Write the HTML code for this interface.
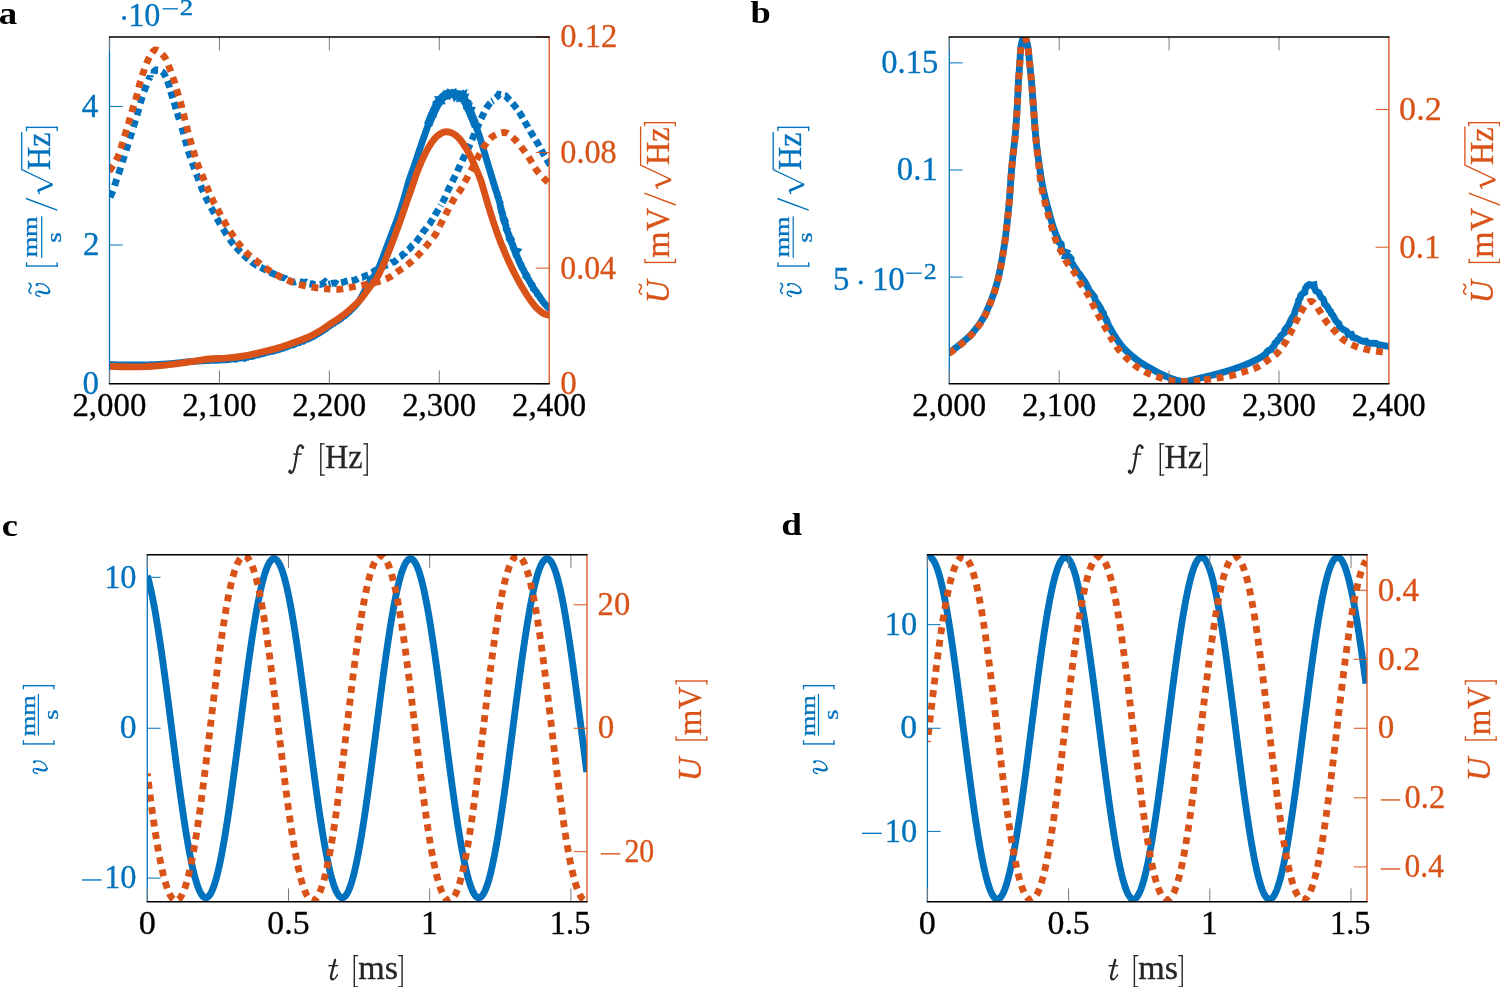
<!DOCTYPE html>
<html><head><meta charset="utf-8"><style>
html,body{margin:0;padding:0;background:#fff;overflow:hidden;}
svg{display:block;will-change:transform;}
text{font-family:"Liberation Serif",serif;}
</style></head><body>
<svg width="1500" height="987" viewBox="0 0 1500 987" font-family="Liberation Serif, serif" style="font-kerning:none">
<rect width="1500" height="987" fill="#fff"/>
<defs>
<clipPath id="clipa"><rect x="109.5" y="37" width="439.7" height="346.7"/></clipPath>
<clipPath id="clipb"><rect x="949.3" y="37" width="439.6" height="346.7"/></clipPath>
<clipPath id="clipc"><rect x="147.3" y="554.8" width="439.7" height="346.9"/></clipPath>
<clipPath id="clipd"><rect x="927.4" y="554.8" width="439.6" height="346.9"/></clipPath>
</defs>
<path d="M428.11,125.23 L428.39,124.46 L428.67,123.7 L428.95,122.95 L429.24,122.2 L429.52,121.46 L429.81,120.73 L430.1,120 L430.43,119.19 L430.76,118.38 L431.1,117.58 L431.44,116.78 L431.78,115.98 L432.12,115.2 L432.46,114.42 L432.8,113.66 L433.14,112.9 L433.48,112.16 L433.82,111.42 L434.16,110.71 L434.5,110 L434.84,109.32 L435.17,108.65 L435.5,108 L435.93,107.16 L436.36,106.33 L436.79,105.54 L437.21,104.76 L437.63,104.01 L438.05,103.28 L438.47,102.58 L438.89,101.91 L439.31,101.26 L439.74,100.64 L440.17,100.06 L440.6,99.5 L441.26,98.72 L441.93,98.02 L442.61,97.38 L443.29,96.8 L443.98,96.28 L444.66,95.81 L445.33,95.38 L446,95 L446.88,94.58 L447.74,94.26 L448.61,94.03 L449.47,93.87 L450.33,93.77 L451.2,93.7 L452.08,93.67 L452.96,93.71 L453.85,93.79 L454.74,93.93 L455.62,94.1 L456.5,94.3 L457.38,94.49 L458.26,94.65 L459.13,94.86 L460,95.16 L460.86,95.62 L461.7,96.3 L462.15,96.76 L462.58,97.28 L463.01,97.83 L463.43,98.44 L463.85,99.09 L464.27,99.79 L464.7,100.54 L465.13,101.33 L465.57,102.18 L466.03,103.06 L466.5,104 L466.8,104.61 L467.11,105.25 L467.43,105.94 L467.75,106.65 L468.08,107.39 L468.42,108.15 L468.76,108.93 L469.1,109.72 L469.44,110.52 L469.78,111.32 L470.11,112.13 L470.45,112.93 L470.78,113.72 L471.1,114.5 L471.41,115.26 L471.72,116 L472.02,116.72 L472.3,117.4 L472.65,118.24 L472.99,119.06 L473.31,119.86 L473.63,120.64 L473.94,121.4 L474.24,122.14 L474.53,122.88 L474.82,123.61 L475.1,124.34 L475.38,125.06 L475.66,125.79 L475.94,126.52" fill="none" stroke="#0072BD" stroke-width="8.6" stroke-linejoin="round" stroke-miterlimit="10" clip-path="url(#clipa)"/>
<path d="M109.8,364.7 L110.28,364.71 L110.82,364.71 L111.41,364.72 L112.05,364.73 L112.74,364.74 L113.47,364.75 L114.24,364.77 L115.06,364.78 L115.9,364.8 L116.78,364.81 L117.7,364.83 L118.64,364.84 L119.6,364.86 L120.58,364.87 L121.59,364.89 L122.61,364.9 L123.64,364.92 L124.69,364.93 L125.74,364.95 L126.8,364.96 L127.86,364.97 L128.91,364.99 L129.97,365 L131.02,365 L132.06,365.01 L133.08,365.02 L134.1,365.02 L135.09,365.02 L136.07,365.02 L137.02,365.02 L137.94,365.02 L138.84,365.01 L139.7,365 L140.69,364.99 L141.68,364.97 L142.65,364.96 L143.62,364.94 L144.58,364.92 L145.53,364.9 L146.47,364.88 L147.41,364.85 L148.35,364.83 L149.27,364.8 L150.2,364.77 L151.12,364.74 L152.03,364.71 L152.94,364.68 L153.85,364.64 L154.76,364.6 L155.67,364.56 L156.57,364.52 L157.48,364.48 L158.39,364.43 L159.29,364.39 L160.2,364.34 L161.11,364.29 L162.02,364.23 L162.93,364.18 L163.85,364.12 L164.77,364.06 L165.7,364 L166.6,363.94 L167.51,363.87 L168.43,363.8 L169.36,363.72 L170.29,363.64 L171.23,363.55 L172.17,363.47 L173.11,363.38 L174.06,363.29 L175,363.19 L175.95,363.09 L176.9,363 L177.84,362.9 L178.78,362.8 L179.71,362.7 L180.64,362.6 L181.56,362.5 L182.47,362.41 L183.38,362.31 L184.27,362.21 L185.16,362.12 L186.03,362.03 L186.89,361.95 L187.73,361.86 L188.56,361.78 L189.37,361.7 L190.17,361.63 L190.94,361.56 L191.7,361.5 L192.82,361.41 L193.89,361.33 L194.92,361.26 L195.91,361.19 L196.87,361.13 L197.81,361.07 L198.71,361.02 L199.6,360.97 L200.47,360.92 L201.32,360.88 L202.16,360.84 L203,360.8 L203.83,360.76 L204.67,360.72 L205.51,360.68 L206.36,360.64 L207.22,360.59 L208.1,360.55 L209,360.5 L209.91,360.45 L210.81,360.41 L211.7,360.38 L212.6,360.32 L213.49,360.29 L214.37,360.26 L215.26,360.25 L216.15,360.21 L217.04,360.11 L217.93,360.05 L218.83,360 L219.73,360.03 L220.64,359.97 L221.56,359.94 L222.49,359.9 L223.42,359.79 L224.36,359.59 L225.32,359.56 L226.31,359.7 L227.16,359.56 L228.02,359.41 L228.92,359.47 L229.81,359.25 L230.71,359.07 L231.64,359.08 L232.54,358.76 L233.49,358.75 L234.47,359.03 L235.34,358.36 L236.35,358.79 L237.22,358.18 L238.19,358.32 L239.11,358.13 L240.05,358.09 L240.98,358.04 L241.91,358.09 L242.79,357.88 L243.64,357.53 L244.61,358.06 L245.36,357.3 L246.19,357.17 L247.25,357.38 L248.1,356.53 L249.11,356.65 L250.08,356.63 L250.98,356.36 L251.91,356.28 L252.85,356.26 L253.68,355.81 L254.56,355.65 L255.38,355.19 L256.23,354.94 L257.09,354.69 L258.05,354.88 L258.85,354.38 L259.75,354.26 L260.66,354.19 L261.5,353.79 L262.4,353.59 L263.36,353.65 L264.22,353.25 L265.06,352.81 L265.96,352.6 L266.86,352.35 L267.64,351.65 L268.65,351.89 L269.49,351.45 L270.47,351.53 L271.38,351.36 L272.26,351.05 L273.25,351.19 L274.1,350.77 L274.99,350.48 L275.89,350.23 L276.84,350.15 L277.72,349.84 L278.66,349.69 L279.43,349.17 L280.35,349.13 L281.18,348.78 L281.98,348.35 L282.91,348.31 L283.67,347.74 L284.53,347.47 L285.41,347.27 L286.29,347.06 L287.17,346.83 L288,346.45 L288.78,345.95 L289.7,345.82 L290.49,345.35 L291.34,345.02 L292.27,344.93 L293.24,344.92 L293.95,344.23 L294.67,343.55 L295.71,343.73 L296.52,343.25 L297.29,342.65 L298.27,342.57 L299.27,342.54 L300.02,341.83 L300.89,341.46 L301.89,341.42 L302.67,340.79 L303.71,340.86 L304.42,340.12 L305.35,339.91 L306.22,339.6 L306.93,338.93 L307.91,338.95 L308.66,338.45 L309.56,338.31 L310.22,337.71 L311.02,337.45 L311.98,337.03 L312.93,336.63 L313.76,336.03 L314.64,335.55 L315.55,335.14 L316.37,334.63 L317.16,334.07 L318.05,333.74 L318.82,333.22 L319.6,332.75 L320.4,332.36 L321.08,331.8 L321.8,331.35 L322.53,330.96 L323.18,330.47 L324.08,329.92 L324.93,329.41 L325.7,328.88 L326.43,328.35 L327.13,327.83 L327.81,327.32 L328.48,326.81 L329.16,326.31 L329.85,325.81 L330.56,325.31 L331.3,324.8 L332.06,324.3 L332.83,323.81 L333.59,323.34 L334.36,322.87 L335.14,322.39 L335.92,321.92 L336.72,321.42 L337.52,320.91 L338.33,320.38 L339.16,319.81 L340,319.2 L340.67,318.7 L341.36,318.19 L342.06,317.67 L342.76,317.14 L343.48,316.6 L344.19,316.04 L344.92,315.47 L345.65,314.88 L346.38,314.28 L347.1,313.66 L347.83,313.02 L348.56,312.37 L349.28,311.69 L350,311 L350.63,310.38 L351.25,309.76 L351.88,309.14 L352.51,308.51 L353.14,307.87 L353.77,307.21 L354.4,306.55 L355.03,305.86 L355.66,305.16 L356.29,304.43 L356.91,303.68 L357.54,302.91 L358.16,302.11 L358.77,301.27 L359.39,300.4 L360,299.5 L360.44,298.81 L360.89,298.07 L361.34,297.3 L361.79,296.49 L362.24,295.66 L362.69,294.8 L363.14,293.93 L363.59,293.03 L364.04,292.13 L364.49,291.22 L364.93,290.31 L365.37,289.41 L365.81,288.51 L366.24,287.62 L366.67,286.75 L367.1,285.9 L367.51,285.08 L367.93,284.28 L368.33,283.52 L368.73,282.8 L369.12,282.13 L369.5,281.5 L370.19,280.46 L370.86,279.54 L371.52,278.72 L372.17,277.98 L372.8,277.31 L373.41,276.69 L374,276.1 L374.57,275.52 L375.12,274.94 L375.64,274.34 L376.14,273.7 L376.6,273 L377.11,272.12 L377.56,271.24 L377.96,270.35 L378.33,269.45 L378.67,268.55 L378.99,267.65 L379.3,266.74 L379.62,265.83 L379.95,264.91 L380.3,264 L380.62,263.2 L380.92,262.45 L381.2,261.73 L381.48,261.01 L381.76,260.29 L382.05,259.55 L382.36,258.75 L382.69,257.89 L383.05,256.94 L383.45,255.88 L383.9,254.7 L384.15,254.03 L384.42,253.31 L384.7,252.57 L384.99,251.79 L385.3,250.98 L385.61,250.15 L385.93,249.3 L386.25,248.42 L386.59,247.53 L386.92,246.62 L387.27,245.7 L387.61,244.77 L387.96,243.84 L388.31,242.9 L388.66,241.97 L389,241.03 L389.35,240.1 L389.7,239.18 L390.04,238.27 L390.37,237.38 L390.7,236.5 L391.03,235.63 L391.36,234.76 L391.69,233.89 L392.02,233.02 L392.36,232.15 L392.69,231.28 L393.03,230.4 L393.37,229.53 L393.7,228.66 L394.04,227.79 L394.37,226.91 L394.71,226.04 L395.04,225.17 L395.37,224.3 L395.7,223.42 L396.02,222.55 L396.35,221.68 L396.67,220.81 L396.98,219.94 L397.29,219.07 L397.6,218.2 L397.9,217.33 L398.2,216.47 L398.5,215.61 L398.79,214.74 L399.08,213.89 L399.37,213.03 L399.66,212.17 L399.94,211.31 L400.22,210.46 L400.5,209.6 L400.78,208.74 L401.05,207.88 L401.33,207.02 L401.6,206.15 L401.87,205.28 L402.14,204.41 L402.42,203.54 L402.69,202.66 L402.96,201.78 L403.23,200.89 L403.5,200 L403.76,199.14 L404.02,198.27 L404.27,197.39 L404.52,196.49 L404.78,195.6 L405.03,194.69 L405.28,193.78 L405.53,192.87 L405.78,191.96 L406.03,191.05 L406.27,190.14 L406.52,189.23 L406.77,188.32 L407.02,187.43 L407.26,186.53 L407.51,185.65 L407.76,184.78 L408.01,183.91 L408.25,183.06 L408.5,182.23 L408.75,181.4 L409,180.6 L409.31,179.64 L409.61,178.7 L409.92,177.78 L410.23,176.88 L410.54,175.99 L410.85,175.11 L411.16,174.25 L411.47,173.4 L411.78,172.56 L412.08,171.72 L412.39,170.88 L412.7,170.05 L413,169.22 L413.3,168.39 L413.61,167.55 L413.91,166.71 L414.2,165.86 L414.5,165 L414.79,164.14 L415.08,163.27 L415.37,162.41 L415.65,161.55 L415.94,160.69 L416.22,159.83 L416.5,158.96 L416.78,158.1 L417.06,157.24 L417.33,156.38 L417.61,155.52 L417.89,154.66 L418.17,153.8 L418.45,152.94 L418.74,152.08 L419.02,151.22 L419.31,150.36 L419.6,149.5 L419.89,148.64 L420.19,147.77 L420.49,146.9 L420.79,146.03 L421.09,145.15 L421.39,144.28 L421.69,143.4 L422,142.53 L422.3,141.66 L422.6,140.79 L422.91,139.92 L423.21,139.06 L423.51,138.2 L423.81,137.34 L424.11,136.5 L424.41,135.66 L424.71,134.82 L425,134 L425.33,133.08 L425.65,132.16 L425.97,131.25 L426.29,130.35 L426.61,129.45 L426.92,128.55 L427.24,127.66 L427.55,126.78 L427.86,125.91 L428.16,125.03 L428.52,124.19 L428.61,123.25 L429.1,122.47 L429.25,121.57 L429.9,120.87 L430.32,120.09 L430.29,118.99 L431.13,118.26 L431.54,117.36 L431.73,116.37 L431.62,115.25 L433.12,114.85 L433.06,113.77 L433.21,112.8 L433.47,111.89 L434.37,111.3 L434.18,110.22 L435.35,109.81 L435.72,109.05 L436.09,108.3 L435.55,106.86 L436.51,106.22 L436.27,104.98 L437.35,104.47 L436.5,102.92 L437.28,102.3 L438.3,101.88 L439.2,101.44 L440.49,101.34 L439.72,99.8 L441.04,99.87 L441.96,99.17 L442.47,98.18 L442.9,97.12 L443.37,96.08 L444.18,95.52 L444.72,94.6 L446.2,95.38 L446.93,94.2 L448.36,95.14 L449.02,93.34 L450.19,94.09 L451.24,94.42 L452.26,93.39 L453.26,94.4 L454.45,93.43 L455.15,95.5 L456.64,93.66 L457.54,93.67 L458.44,93.76 L459.1,94.97 L460.27,94.55 L460.11,96.73 L462.45,95.46 L462.09,96.91 L462.32,97.66 L463.87,97.49 L463.2,98.96 L464.57,99.13 L464.97,99.98 L464.91,101.14 L466.17,101.64 L467.31,102.3 L466.34,104.08 L466.44,104.88 L466.45,105.77 L468.43,105.8 L468.13,106.92 L467.82,108.07 L467.92,109.06 L468.58,109.82 L470.69,109.99 L470.12,111.3 L470.61,112.16 L470.41,113.3 L470.61,114.25 L471.39,114.94 L471.71,115.79 L471.57,116.8 L472.2,117.44 L472.77,118.36 L473.05,119.35 L473.78,120.12 L474,121.08 L474.39,121.94 L474.37,122.94 L474.9,123.72 L475.25,124.56 L475.52,125.42 L475.85,126.27 L476.17,127.13 L476.5,128 L476.83,128.87 L477.14,129.73 L477.46,130.59 L477.77,131.43 L478.07,132.28 L478.38,133.13 L478.68,133.99 L478.98,134.86 L479.28,135.74 L479.58,136.64 L479.89,137.56 L480.2,138.5 L480.47,139.33 L480.73,140.17 L481,141.02 L481.27,141.89 L481.54,142.76 L481.81,143.65 L482.07,144.54 L482.35,145.45 L482.62,146.36 L482.89,147.28 L483.16,148.2 L483.44,149.13 L483.72,150.06 L484,151 L484.26,151.88 L484.53,152.76 L484.79,153.64 L485.05,154.52 L485.31,155.41 L485.58,156.31 L485.85,157.21 L486.12,158.13 L486.39,159.04 L486.66,159.97 L486.94,160.91 L487.22,161.87 L487.51,162.83 L487.8,163.81 L488.1,164.8 L488.35,165.64 L488.61,166.48 L488.86,167.34 L489.12,168.2 L489.38,169.07 L489.65,169.95 L489.92,170.84 L490.19,171.73 L490.45,172.63 L490.7,173.55 L491,174.45 L491.29,175.37 L491.6,176.29 L491.87,177.22 L492.15,178.16 L492.39,179.11 L492.71,180.05 L493.07,180.98 L493.26,181.82 L493.38,182.7 L493.83,183.49 L494.05,184.36 L494.36,185.22 L494.53,186.13 L494.98,186.95 L495.02,187.91 L495.4,188.76 L495.69,189.65 L495.98,190.53 L496.22,191.43 L496.48,192.32 L497.01,193.12 L497.17,194.03 L497.32,194.93 L497.6,195.78 L497.67,196.69 L498.04,197.49 L498.64,198.21 L498.78,199.05 L498.93,200.06 L499.17,201.03 L499.49,201.95 L500.04,202.79 L499.97,203.77 L500.13,204.67 L500.4,205.55 L500.28,206.51 L500.45,207.4 L500.96,208.21 L501.21,209.1 L501.2,210.05 L501.56,210.94 L501.56,211.92 L501.85,212.86 L502.65,213.69 L502.61,214.77 L502.77,215.62 L503.06,216.43 L502.92,217.39 L503.59,218.13 L503.53,219.09 L504.4,219.79 L504.2,220.8 L505,221.53 L504.61,222.63 L504.93,223.51 L505.36,224.37 L505.81,225.23 L505.91,226.19 L505.88,227.21 L506.2,228.11 L506.25,229.1 L507.18,229.81 L507.08,230.86 L507.43,231.75 L507.89,232.6 L508.35,233.45 L508.46,234.37 L509.07,235.12 L509.02,236.11 L509.1,237.05 L509.17,238 L510.29,238.57 L510.18,239.59 L511.15,240.22 L510.87,241.31 L511.32,242.13 L511.56,243.03 L512.18,243.79 L512.72,244.58 L512.72,245.57 L513.24,246.37 L513.17,247.4 L513.82,248.15 L513.93,249.11 L514.78,249.77 L515.08,250.65 L516.57,251.05 L515.38,252.55 L515.8,253.35 L515.82,254.31 L516.41,255.05 L516.59,255.96 L517.31,256.65 L517.55,257.54 L518,258.35 L518.23,259.25 L518.75,260.03 L518.87,260.98 L519.27,261.81 L519.66,262.64 L520.27,263.37 L520.39,264.31 L521.24,264.92 L521.49,265.8 L521.6,266.74 L522.1,267.49 L522.3,268.38 L522.91,269.06 L523.49,269.74 L523.63,270.63 L524.05,271.37 L524.5,272.24 L525,273.07 L525.68,273.8 L526.22,274.6 L525.96,275.84 L526.99,276.35 L527,277.44 L527.59,278.19 L528.27,278.88 L528.69,279.71 L529.11,280.53 L529.51,281.35 L530.08,282.06 L530.53,282.83 L530.92,283.63 L531.16,284.51 L532.18,284.89 L532.56,285.65 L532.73,286.52 L533.12,287.25 L533.25,288.44 L534.25,289.06 L534.7,290.01 L535.33,290.83 L536.17,291.48 L536.68,292.32 L537.18,293.16 L537.39,294.16 L537.99,294.89 L538.79,295.45 L539.28,296.21 L539.71,296.98 L540.32,297.61 L540.49,298.52 L541.11,299.09 L541.88,299.9 L542.39,300.88 L542.97,301.77 L543.73,302.49 L544.3,303.31 L544.82,304.12 L545.57,304.69 L546.2,305.29 L546.73,305.91 L547.11,306.6 L547.72,306.98 L548.77,307.81 L549.79,308.32 L550.7,308.63 L551.45,308.82 L552,309" fill="none" stroke="#0072BD" stroke-width="6.85" stroke-linejoin="miter" stroke-miterlimit="3" clip-path="url(#clipa)"/>
<path d="M108,201 L108.85,199.51 L110.08,197.31 L111.4,194.5 L112.19,192.46 L113.03,190.12 L113.9,187.61 L114.76,185.06 L115.6,182.6 L116.42,180.23 L117.23,177.85 L118.04,175.48 L118.83,173.13 L119.6,170.8 L120.34,168.53 L121.05,166.3 L121.75,164.08 L122.46,161.82 L123.2,159.5 L123.98,157.08 L124.79,154.59 L125.6,152.07 L126.41,149.56 L127.2,147.1 L127.96,144.7 L128.71,142.34 L129.44,140 L130.17,137.66 L130.9,135.3 L131.62,132.93 L132.34,130.56 L133.06,128.19 L133.78,125.8 L134.5,123.4 L135.24,120.98 L135.99,118.53 L136.74,116.08 L137.48,113.63 L138.2,111.2 L138.88,108.76 L139.53,106.31 L140.18,103.88 L140.83,101.49 L141.5,99.2 L142.18,97.04 L142.85,94.98 L143.54,92.96 L144.28,90.92 L145.1,88.8 L146.01,86.5 L147,84.05 L148.03,81.61 L148.87,79.2 L150.08,77.23" fill="none" stroke="#0072BD" stroke-width="6.85" stroke-linejoin="miter" stroke-miterlimit="10" stroke-dasharray="6.9 5.45" clip-path="url(#clipa)" stroke-dashoffset="8.05"/>
<path d="M150.08,77.23 L150.42,74.3 L153.83,73.78 L154.2,71.21 L155.78,69.87 L159.2,70 L162.27,71.68 L163.58,73.03 L164.76,75.1 L165.88,77.5 L166.94,80 L167.9,82.4 L168.74,84.7 L169.47,87.05 L170.14,89.43 L170.8,91.82 L171.5,94.2 L172.24,96.58 L172.98,98.96 L173.72,101.34 L174.46,103.72 L175.2,106.1 L175.92,108.46 L176.64,110.82 L177.36,113.18 L178.08,115.54 L178.8,117.9 L179.54,120.27 L180.29,122.64" fill="none" stroke="#0072BD" stroke-width="6.85" stroke-linejoin="miter" stroke-miterlimit="10" stroke-dasharray="6.9 4.25" clip-path="url(#clipa)" stroke-dashoffset="4.68"/>
<path d="M180.29,122.64 L181.04,125.01 L181.78,127.4 L182.5,129.8 L183.18,132.23 L183.84,134.68 L184.49,137.13 L185.14,139.58 L185.8,142 L186.46,144.38 L187.11,146.73 L187.78,149.08 L188.47,151.43 L189.2,153.8 L189.98,156.2 L190.8,158.61 L191.65,161.04 L192.52,163.47 L193.4,165.9 L194.3,168.34 L195.22,170.79 L196.15,173.24 L197.08,175.68 L198,178.1 L198.9,180.53 L199.8,182.97 L200.7,185.39 L201.6,187.75 L202.5,190 L203.4,192.12 L204.29,194.12 L205.19,196.07 L206.12,198.01 L207.1,200 L208.13,202.03 L209.21,204.06 L210.32,206.11 L211.45,208.18 L212.6,210.3 L213.77,212.48 L214.96,214.73 L216.17,216.99 L217.39,219.23 L218.6,221.4 L219.8,223.48 L221,225.51 L222.21,227.5 L223.44,229.49 L224.7,231.5 L226.01,233.58 L227.37,235.72 L228.73,237.84 L230.09,239.86" fill="none" stroke="#0072BD" stroke-width="6.85" stroke-linejoin="miter" stroke-miterlimit="10" stroke-dasharray="6.9 5.3" clip-path="url(#clipa)" stroke-dashoffset="7.1"/>
<path d="M230.09,239.86 L231.4,241.7 L232.92,243.67 L234.36,245.38 L235.85,247.03 L237.5,248.8 L238.98,250.37 L240.55,252.02 L242.2,253.68 L243.9,255.32 L245.61,256.89 L247.33,258.4 L249.09,259.88 L250.97,261.22 L252.68,262.78 L254.67,263.95 L256.55,265.32 L258.68,266.32 L260.82,267.27 L262.81,268.4 L264.78,269.44 L267.03,270.87 L269.4,271.85 L271.6,273.07 L273.99,273.92 L276.2,275.15 L278.56,276.06 L280.81,277.18 L283.27,277.68 L285.51,278.55 L287.35,280.35 L289.71,280.86 L292.08,281.8 L294.26,282.11 L296.61,281.41 L298.94,281.33 L301.18,281.89 L303.24,282.58 L305.82,282.11 L307.85,283.5 L310.06,283.97 L312.44,283.81 L314.84,284.98 L317.4,284.18 L320,284.48 L322.59,283.77 L325.14,281.76 L327.91,284.43 L330.58,283.81" fill="none" stroke="#0072BD" stroke-width="6.85" stroke-linejoin="miter" stroke-miterlimit="10" stroke-dasharray="6.9 3.75" clip-path="url(#clipa)" stroke-dashoffset="1.16"/>
<path d="M330.58,283.81 L333.25,283.06 L335.46,282.99 L337.98,284.64 L340.05,282.97 L342.28,282.42 L344.47,281.75 L346.67,281.02 L348.95,280.46 L351.42,280.72 L353.66,280.28 L355.77,279.85 L357.93,278.58 L359.89,277.5 L362.18,277.38 L364.44,276.26 L366.67,275.44 L369.11,274.45 L371.18,272.6 L373.63,271.55 L375.76,270.32 L378.07,268.71 L380.75,268.37 L382.81,266.81 L385.03,265.63 L387.44,264.85 L389.82,264.07 L391.81,262.48 L394.41,261.79 L396.08,260.34 L397.75,258.81 L399.31,257.09 L401.39,256.08 L402.88,254.47 L405.08,253.01 L406.54,250.88 L408.64,249.41 L410.51,247.71 L411.99,245.61 L413.99,244.05 L415.89,242.33 L417.44,240.15 L418.72,238.32 L420.25,236.55 L421.42,234.48 L422.76,232.52 L424.1,230.63 L425.59,228.93 L426.92,227.16 L428.28,225.43 L429.78,223.78 L430.82,221.75 L432.14,219.91 L433.31,217.98 L434.53,216.04 L435.68,213.92 L437,211.7 L438.22,209.64 L439.55,207.39 L440.91,205.05" fill="none" stroke="#0072BD" stroke-width="6.85" stroke-linejoin="miter" stroke-miterlimit="10" stroke-dasharray="6.9 4.1" clip-path="url(#clipa)" stroke-dashoffset="10.32"/>
<path d="M440.91,205.05 L442.24,202.74 L443.46,200.55 L444.5,198.6 L445.63,196.21 L446.43,194.22 L447.16,192.29 L448.1,190.1 L449.09,188.05 L450.19,185.85 L451.35,183.57 L452.51,181.3 L453.6,179.1 L454.62,177 L455.61,174.93 L456.58,172.89 L457.54,170.85 L458.5,168.8 L459.45,166.78 L460.36,164.8 L461.29,162.8 L462.26,160.72 L463.3,158.5 L464.24,156.54 L465.22,154.51 L466.24,152.41 L467.28,150.24 L468.34,148 L469.4,145.7 L470.31,143.65 L471.24,141.53 L472.18,139.35 L473.13,137.14 L474.09,134.91 L475.04,132.69 L476,130.5 L476.97,128.28 L477.97,126 L478.97,123.7 L479.97,121.44 L480.95,119.25 L481.9,117.19 L482.8,115.3 L483.94,112.95 L484.97,110.87 L485.97,108.98 L487.02,107.21 L488.2,105.5 L489.98,103.4 L491.92,101.4" fill="none" stroke="#0072BD" stroke-width="6.85" stroke-linejoin="miter" stroke-miterlimit="10" stroke-dasharray="6.9 4.65" clip-path="url(#clipa)" stroke-dashoffset="8.7"/>
<path d="M491.92,101.4 L494.27,100.1 L495.4,98.1 L497.64,96.24 L498.96,94.26 L501.34,94.66 L503.38,95.82 L505.77,95.92 L507.79,98.1 L509.17,99.71 L510.93,101.48 L512.71,103.48 L514.4,105.5 L515.98,107.53 L517.53,109.65 L519.03,111.84 L520.5,114.1 L521.63,115.96 L522.72,117.87 L523.79,119.82 L524.88,121.8 L526,123.8 L527.17,125.83 L528.36,127.9 L529.57,129.99 L530.79,132.06 L532,134.1 L533.22,136.08 L534.46,138.03 L535.7,139.97 L536.92,141.92 L538.1,143.9 L539.26,145.98 L540.4,148.13 L541.52,150.27 L542.59,152.32 L543.6,154.2 L545.13,156.89 L546.53,159.24 L547.9,161.5 L549.43,163.97 L550.94,166.34 L552,168" fill="none" stroke="#0072BD" stroke-width="6.85" stroke-linejoin="miter" stroke-miterlimit="10" stroke-dasharray="6.9 4.05" clip-path="url(#clipa)" stroke-dashoffset="5.47"/>
<path d="M109.8,366.4C114.78,366.47 130.38,367.02 139.7,366.8C149.02,366.58 157.03,365.97 165.7,365.1C174.37,364.23 184.48,362.62 191.7,361.6C198.92,360.58 203.23,359.58 209,359C214.77,358.42 220.1,358.67 226.3,358.1C232.5,357.53 240.18,356.62 246.2,355.6C252.22,354.58 257,353.28 262.4,352C267.8,350.72 273.2,349.52 278.6,347.9C284,346.28 289.4,344.32 294.8,342.3C300.2,340.28 306.27,338.03 311,335.8C315.73,333.57 319.82,331 323.2,328.9C326.58,326.8 328.5,325.08 331.3,323.2C334.1,321.32 336.88,319.88 340,317.6C343.12,315.32 346.47,312.65 350,309.5C353.53,306.35 358.03,302.27 361.2,298.7C364.37,295.13 366.4,291.55 369,288.1C371.6,284.65 374.4,281.93 376.8,278C379.2,274.07 381.62,268.38 383.4,264.5C385.18,260.62 385.65,259.37 387.5,254.7C389.35,250.03 392.22,242.58 394.5,236.5C396.78,230.42 399.05,224.28 401.2,218.2C403.35,212.12 405.6,205.18 407.4,200C409.2,194.82 410.48,191.48 412,187.1C413.52,182.72 414.83,178.17 416.5,173.7C418.17,169.23 420.07,164.57 422,160.3C423.93,156.03 425.98,151.75 428.1,148.1C430.22,144.45 432.58,140.83 434.7,138.4C436.82,135.97 438.87,134.62 440.8,133.5C442.73,132.38 444.27,131.7 446.3,131.7C448.33,131.7 450.87,132.38 453,133.5C455.13,134.62 457.07,136.17 459.1,138.4C461.13,140.63 463.28,143.87 465.2,146.9C467.12,149.93 468.78,152.95 470.6,156.6C472.42,160.25 474.45,164.98 476.1,168.8C477.75,172.62 478.98,175.13 480.5,179.5C482.02,183.87 483.43,189.12 485.2,195C486.97,200.88 489.02,208.22 491.1,214.8C493.18,221.38 495.28,227.92 497.7,234.5C500.12,241.08 502.75,247.72 505.6,254.3C508.45,260.88 511.52,267.63 514.8,274C518.08,280.37 522,287.22 525.3,292.5C528.6,297.78 531.73,302.3 534.6,305.7C537.47,309.1 540.32,311.37 542.5,312.9C544.68,314.43 546.12,314.5 547.7,314.9C549.28,315.3 551.28,315.23 552,315.3" fill="none" stroke="#D95319" stroke-width="6.85" stroke-linejoin="round" stroke-miterlimit="10" clip-path="url(#clipa)"/>
<path d="M108,172.5 L108.17,172.29 L108.37,172.06 L108.6,171.8 L108.86,171.51 L109.15,171.19 L109.46,170.81 L109.8,170.39 L110.16,169.92 L110.55,169.38 L110.97,168.78 L111.4,168.1 L111.6,167.78 L111.82,167.43 L112.04,167.07 L112.28,166.68 L112.53,166.28 L112.78,165.87 L113.04,165.44 L113.31,165 L113.58,164.55 L113.86,164.09 L114.14,163.61 L114.42,163.14 L114.7,162.65 L114.99,162.16 L115.27,161.67 L115.55,161.17 L115.83,160.67 L116.1,160.17 L116.36,159.68 L116.63,159.18 L116.88,158.69 L117.12,158.21 L117.36,157.73 L117.59,157.26 L117.8,156.8 L118.01,156.32 L118.22,155.85 L118.42,155.37 L118.61,154.9 L118.8,154.42 L118.98,153.95 L119.15,153.47 L119.33,153 L119.49,152.52 L119.66,152.04 L119.82,151.57 L119.97,151.09 L120.13,150.61 L120.28,150.13 L120.43,149.65 L120.59,149.17 L120.73,148.69 L120.88,148.21 L121.03,147.73 L121.18,147.24 L121.34,146.76 L121.49,146.27 L121.64,145.79 L121.8,145.3 L121.96,144.81 L122.11,144.32 L122.27,143.84 L122.42,143.35 L122.57,142.86 L122.72,142.36 L122.87,141.87 L123.02,141.38 L123.17,140.89 L123.32,140.4 L123.47,139.9 L123.61,139.41 L123.76,138.91 L123.91,138.41 L124.05,137.92 L124.2,137.42 L124.35,136.92 L124.5,136.42 L124.64,135.92 L124.79,135.42 L124.94,134.91 L125.09,134.41 L125.25,133.91 L125.4,133.4 L125.55,132.91 L125.7,132.42 L125.85,131.93 L126,131.44 L126.15,130.95 L126.3,130.45 L126.46,129.96 L126.61,129.46 L126.77,128.96 L126.92,128.47 L127.07,127.97 L127.23,127.47 L127.38,126.97 L127.54,126.47 L127.69,125.97 L127.85,125.47 L128,124.97 L128.15,124.47 L128.3,123.97 L128.46,123.48 L128.61,122.98 L128.76,122.48 L128.91,121.99 L129.05,121.49 L129.2,121 L129.35,120.51 L129.49,120.02 L129.63,119.52 L129.77,119.03 L129.92,118.54 L130.06,118.05 L130.2,117.56 L130.34,117.07 L130.47,116.58 L130.61,116.09 L130.75,115.6 L130.89,115.11 L131.02,114.62 L131.16,114.13 L131.3,113.64 L131.44,113.15 L131.58,112.67 L131.71,112.18 L131.85,111.7 L131.99,111.21 L132.13,110.73 L132.27,110.24 L132.41,109.76 L132.56,109.28 L132.7,108.8 L132.85,108.3 L133,107.81 L133.16,107.31 L133.31,106.82 L133.47,106.33 L133.62,105.85 L133.78,105.36 L133.94,104.87 L134.09,104.39 L134.25,103.91 L134.41,103.42 L134.57,102.94 L134.73,102.45 L134.88,101.97 L135.04,101.48 L135.2,100.99 L135.35,100.5 L135.51,100.01 L135.66,99.52 L135.81,99.02 L135.96,98.52 L136.11,98.02 L136.26,97.51 L136.4,97 L136.53,96.52 L136.66,96.05 L136.79,95.56 L136.91,95.08 L137.04,94.59 L137.16,94.09 L137.28,93.6 L137.41,93.1 L137.53,92.6 L137.64,92.1 L137.76,91.6 L137.88,91.1 L138,90.6 L138.12,90.1 L138.24,89.6 L138.36,89.1 L138.47,88.6 L138.59,88.1 L138.72,87.6 L138.84,87.11 L138.96,86.61 L139.09,86.12 L139.21,85.64 L139.34,85.15 L139.47,84.68 L139.6,84.2 L139.74,83.69 L139.89,83.18 L140.03,82.68 L140.18,82.18 L140.32,81.68 L140.47,81.18 L140.62,80.69 L140.77,80.2 L140.92,79.71 L141.07,79.22 L141.22,78.73 L141.37,78.24 L141.52,77.76 L141.68,77.27 L141.83,76.79 L141.99,76.3 L142.15,75.82 L142.31,75.33 L142.47,74.85 L142.63,74.36 L142.8,73.87 L142.96,73.38 L143.13,72.89 L143.3,72.4 L143.46,71.92 L143.62,71.45 L143.79,70.97 L143.94,70.49 L144.1,70 L144.26,69.52 L144.42,69.04 L144.58,68.55 L144.74,68.07 L144.91,67.58 L145.07,67.1 L145.24,66.61 L145.41,66.13 L145.58,65.64 L145.76,65.16 L145.94,64.68 L146.12,64.21 L146.31,63.73 L146.51,63.26 L146.71,62.79 L146.91,62.33 L147.12,61.86 L147.34,61.4 L147.57,60.95 L147.8,60.5 L148.04,60.04 L148.28,59.56 L148.53,59.07 L148.79,58.56 L149.05,58.04 L149.32,57.51 L149.59,56.98 L149.87,56.44 L150.15,55.91" fill="none" stroke="#D95319" stroke-width="6.85" stroke-linejoin="round" stroke-miterlimit="10" stroke-dasharray="6.9 5.8" clip-path="url(#clipa)" stroke-dashoffset="10.81"/>
<path d="M150.15,55.91 L150.43,55.38 L150.72,54.86 L151.01,54.35 L151.31,53.85 L151.61,53.37 L151.92,52.91 L152.22,52.47 L152.53,52.05 L152.85,51.67 L153.16,51.31 L153.48,50.99 L153.8,50.71 L154.12,50.46 L154.45,50.26 L154.77,50.11 L155.1,50 L155.48,49.94 L155.87,49.93 L156.28,49.98 L156.69,50.07 L157.12,50.22 L157.55,50.4 L157.99,50.62 L158.43,50.88 L158.87,51.18 L159.32,51.5 L159.76,51.85 L160.21,52.22 L160.65,52.61 L161.08,53.02 L161.51,53.45 L161.93,53.88 L162.34,54.32 L162.74,54.76 L163.13,55.2 L163.5,55.64 L163.86,56.08 L164.2,56.5 L164.48,56.86 L164.74,57.24 L165,57.63 L165.26,58.03 L165.5,58.45 L165.74,58.88 L165.97,59.32 L166.2,59.77 L166.42,60.22 L166.64,60.69 L166.85,61.16 L167.05,61.64 L167.26,62.12 L167.45,62.6 L167.65,63.09 L167.84,63.58 L168.03,64.08 L168.22,64.57 L168.41,65.06 L168.59,65.55 L168.78,66.04 L168.96,66.52 L169.15,67 L169.33,67.47 L169.51,67.94 L169.7,68.4 L169.89,68.87 L170.08,69.35 L170.27,69.82 L170.45,70.29 L170.63,70.76 L170.81,71.23 L170.99,71.7 L171.16,72.17 L171.33,72.64 L171.5,73.11 L171.67,73.58 L171.84,74.05 L172,74.52 L172.16,74.99 L172.33,75.46 L172.49,75.93 L172.65,76.4 L172.8,76.87 L172.96,77.34 L173.12,77.82 L173.28,78.29 L173.43,78.77 L173.59,79.24 L173.74,79.72 L173.9,80.2 L174.05,80.68 L174.21,81.16 L174.36,81.64 L174.51,82.13 L174.66,82.61 L174.8,83.1 L174.95,83.58 L175.09,84.07 L175.24,84.55 L175.38,85.04 L175.52,85.53 L175.66,86.02 L175.8,86.51 L175.94,87 L176.08,87.49 L176.22,87.98 L176.36,88.47 L176.5,88.96 L176.64,89.45 L176.78,89.94 L176.92,90.43 L177.07,90.92 L177.21,91.42 L177.35,91.91 L177.5,92.4 L177.65,92.89 L177.79,93.39 L177.94,93.88 L178.09,94.37 L178.24,94.87 L178.39,95.37 L178.55,95.86 L178.7,96.36 L178.85,96.86 L179,97.36 L179.15,97.85 L179.31,98.35 L179.46,98.85 L179.61,99.35 L179.76,99.84 L179.91,100.34 L180.06,100.84" fill="none" stroke="#D95319" stroke-width="6.85" stroke-linejoin="round" stroke-miterlimit="10" stroke-dasharray="6.9 5.8" clip-path="url(#clipa)" stroke-dashoffset="8.92"/>
<path d="M180.06,100.84 L180.2,101.34 L180.35,101.83 L180.5,102.33 L180.64,102.83 L180.78,103.32 L180.92,103.81 L181.06,104.31 L181.2,104.8 L181.34,105.29 L181.47,105.78 L181.6,106.27 L181.73,106.76 L181.86,107.25 L181.99,107.74 L182.11,108.22 L182.24,108.71 L182.36,109.2 L182.48,109.68 L182.61,110.17 L182.73,110.66 L182.85,111.14 L182.97,111.63 L183.09,112.12 L183.21,112.6 L183.33,113.09 L183.45,113.58 L183.57,114.06 L183.69,114.55 L183.81,115.04 L183.93,115.53 L184.05,116.02 L184.18,116.51 L184.3,117 L184.42,117.49 L184.55,117.99 L184.67,118.48 L184.79,118.97 L184.92,119.47 L185.04,119.97 L185.16,120.46 L185.29,120.96 L185.41,121.46 L185.53,121.96 L185.65,122.45 L185.78,122.95 L185.9,123.45 L186.02,123.95 L186.15,124.44 L186.27,124.94 L186.39,125.44 L186.52,125.94 L186.64,126.43 L186.77,126.93 L186.89,127.43 L187.02,127.92 L187.15,128.41 L187.27,128.91 L187.4,129.4 L187.53,129.89 L187.66,130.38 L187.78,130.87 L187.91,131.36 L188.04,131.85 L188.17,132.34 L188.3,132.83 L188.43,133.32 L188.56,133.81 L188.69,134.29 L188.82,134.78 L188.95,135.27 L189.08,135.76 L189.22,136.24 L189.35,136.73 L189.48,137.22 L189.61,137.7 L189.75,138.19 L189.88,138.68 L190.02,139.16 L190.15,139.65 L190.29,140.14 L190.43,140.62 L190.56,141.11 L190.7,141.6 L190.84,142.09 L190.98,142.58 L191.12,143.06 L191.25,143.55 L191.39,144.04 L191.53,144.53 L191.67,145.02 L191.82,145.51 L191.96,146 L192.1,146.48 L192.24,146.97 L192.38,147.46 L192.53,147.95 L192.67,148.44 L192.82,148.93 L192.96,149.42 L193.11,149.9 L193.25,150.39 L193.4,150.88 L193.55,151.37 L193.7,151.85 L193.85,152.34 L194,152.83 L194.15,153.31 L194.3,153.8 L194.45,154.29 L194.6,154.77 L194.76,155.26 L194.91,155.75 L195.06,156.23 L195.21,156.72 L195.37,157.21 L195.52,157.7 L195.68,158.18 L195.83,158.67 L195.99,159.16 L196.15,159.64 L196.3,160.13 L196.46,160.62 L196.62,161.1 L196.78,161.59 L196.95,162.07 L197.11,162.55 L197.28,163.03 L197.44,163.51 L197.61,163.99 L197.78,164.47 L197.95,164.95 L198.12,165.43 L198.3,165.9 L198.48,166.37 L198.66,166.84 L198.84,167.31 L199.02,167.78 L199.21,168.24 L199.39,168.71 L199.58,169.17 L199.77,169.63 L199.96,170.09 L200.16,170.55 L200.35,171.01 L200.55,171.47 L200.74,171.93 L200.94,172.39 L201.13,172.85 L201.33,173.31 L201.53,173.77 L201.73,174.23 L201.92,174.69 L202.12,175.16 L202.32,175.62 L202.51,176.09 L202.71,176.56 L202.91,177.03 L203.1,177.5 L203.29,177.96 L203.47,178.42 L203.66,178.88 L203.85,179.34 L204.03,179.81 L204.22,180.27 L204.41,180.74 L204.59,181.21 L204.78,181.68 L204.97,182.15 L205.16,182.63 L205.34,183.1 L205.53,183.57 L205.72,184.04 L205.91,184.51 L206.1,184.98 L206.29,185.45 L206.47,185.92 L206.66,186.39 L206.85,186.85 L207.04,187.32 L207.23,187.78 L207.42,188.24 L207.62,188.69 L207.81,189.15 L208,189.6 L208.21,190.09 L208.41,190.57 L208.62,191.05 L208.83,191.53 L209.03,192 L209.24,192.48 L209.44,192.95 L209.65,193.42 L209.85,193.89 L210.06,194.36 L210.27,194.83 L210.48,195.29 L210.68,195.76 L210.89,196.23 L211.11,196.69 L211.32,197.16 L211.53,197.62 L211.75,198.09 L211.97,198.55 L212.19,199.02 L212.41,199.49 L212.64,199.96 L212.87,200.43 L213.1,200.9 L213.33,201.35 L213.55,201.81 L213.79,202.27 L214.02,202.72 L214.26,203.18 L214.49,203.64 L214.74,204.09 L214.98,204.55 L215.22,205.01 L215.47,205.47 L215.72,205.93 L215.96,206.38 L216.21,206.84 L216.46,207.3 L216.71,207.76 L216.96,208.21 L217.21,208.67 L217.46,209.13 L217.71,209.58 L217.96,210.04 L218.21,210.49 L218.46,210.95 L218.71,211.4 L218.96,211.85 L219.2,212.3 L219.44,212.75 L219.69,213.2 L219.93,213.65 L220.17,214.1 L220.41,214.54 L220.65,214.99 L220.89,215.44 L221.13,215.88 L221.37,216.33 L221.61,216.78 L221.85,217.22 L222.09,217.67 L222.33,218.11 L222.57,218.55 L222.82,219 L223.06,219.44 L223.3,219.88 L223.55,220.32 L223.79,220.76 L224.04,221.2 L224.29,221.64 L224.54,222.08 L224.79,222.52 L225.04,222.96 L225.3,223.4 L225.56,223.84 L225.81,224.28 L226.07,224.71 L226.33,225.15 L226.59,225.58 L226.85,226.02 L227.11,226.45 L227.37,226.89 L227.63,227.32 L227.9,227.76 L228.16,228.19 L228.43,228.62 L228.7,229.05 L228.96,229.48 L229.23,229.92 L229.5,230.35 L229.78,230.78 L230.05,231.21" fill="none" stroke="#D95319" stroke-width="6.85" stroke-linejoin="round" stroke-miterlimit="10" stroke-dasharray="6.9 5.8" clip-path="url(#clipa)" stroke-dashoffset="12.14"/>
<path d="M230.05,231.21 L230.32,231.64 L230.6,232.06 L230.88,232.49 L231.16,232.92 L231.44,233.35 L231.72,233.77 L232,234.2 L232.28,234.63 L232.57,235.05 L232.86,235.48 L233.14,235.91 L233.43,236.33 L233.72,236.76 L234.01,237.18 L234.3,237.61 L234.59,238.04 L234.88,238.46 L235.18,238.88 L235.48,239.31 L235.77,239.73 L236.07,240.15 L236.38,240.57 L236.68,240.99 L236.98,241.41 L237.29,241.83 L237.6,242.24 L237.91,242.66 L238.22,243.07 L238.54,243.48 L238.86,243.89 L239.18,244.29 L239.5,244.7 L239.81,245.09 L240.13,245.48 L240.44,245.87 L240.76,246.26 L241.09,246.65 L241.41,247.04 L241.73,247.43 L242.06,247.82 L242.39,248.2 L242.72,248.59 L243.05,248.97 L243.39,249.36 L243.72,249.74 L244.06,250.12 L244.4,250.49 L244.74,250.87 L245.08,251.24 L245.42,251.6 L245.77,251.97 L246.11,252.33 L246.46,252.68 L246.81,253.04 L247.15,253.38 L247.5,253.73 L247.85,254.07 L248.2,254.4 L248.58,254.75 L248.96,255.1 L249.34,255.44 L249.73,255.78 L250.11,256.1 L250.5,256.43 L250.89,256.74 L251.28,257.06 L251.67,257.36 L252.07,257.67 L252.46,257.97 L252.86,258.27 L253.25,258.57 L253.65,258.87 L254.05,259.17 L254.45,259.47 L254.85,259.76 L255.26,260.06 L255.66,260.36 L256.07,260.66 L256.47,260.97 L256.88,261.27 L257.29,261.59 L257.7,261.9 L258.09,262.21 L258.49,262.51 L258.89,262.82 L259.28,263.13 L259.68,263.45 L260.08,263.76 L260.48,264.08 L260.88,264.39 L261.28,264.71 L261.69,265.02 L262.09,265.34 L262.5,265.65 L262.9,265.97 L263.31,266.28 L263.72,266.6 L264.13,266.91 L264.55,267.22 L264.96,267.53 L265.37,267.83 L265.79,268.13 L266.21,268.43 L266.63,268.73 L267.05,269.02 L267.47,269.31 L267.9,269.6 L268.33,269.88 L268.76,270.16 L269.19,270.44 L269.62,270.72 L270.06,271 L270.5,271.27 L270.94,271.55 L271.38,271.82 L271.83,272.09 L272.27,272.35 L272.72,272.62 L273.16,272.88 L273.61,273.14 L274.06,273.4 L274.51,273.66 L274.96,273.91 L275.41,274.17 L275.86,274.42 L276.31,274.66 L276.76,274.91 L277.21,275.15 L277.66,275.39 L278.11,275.63 L278.55,275.87 L279,276.1 L279.46,276.34 L279.93,276.58 L280.39,276.81 L280.85,277.04 L281.31,277.27 L281.77,277.5 L282.23,277.72 L282.69,277.94 L283.15,278.16 L283.61,278.38 L284.08,278.59 L284.54,278.81 L285,279.02 L285.46,279.22 L285.93,279.43 L286.4,279.63 L286.86,279.84 L287.33,280.04 L287.81,280.23 L288.28,280.43 L288.76,280.62 L289.23,280.82 L289.72,281.01 L290.2,281.2 L290.67,281.38 L291.14,281.56 L291.61,281.74 L292.08,281.92 L292.55,282.1 L293.03,282.27 L293.5,282.44 L293.98,282.62 L294.46,282.79 L294.94,282.96 L295.42,283.12 L295.91,283.29 L296.39,283.45 L296.88,283.61 L297.37,283.77 L297.86,283.92 L298.34,284.08 L298.84,284.23 L299.33,284.37 L299.82,284.52 L300.31,284.66 L300.81,284.8 L301.31,284.94 L301.8,285.07 L302.3,285.2 L302.78,285.32 L303.26,285.44 L303.75,285.56 L304.24,285.67 L304.73,285.78 L305.22,285.89 L305.71,285.99 L306.21,286.09 L306.71,286.19 L307.2,286.29 L307.7,286.38 L308.2,286.48 L308.7,286.57 L309.2,286.66 L309.7,286.74 L310.2,286.83 L310.69,286.91 L311.19,287 L311.69,287.08 L312.18,287.15 L312.67,287.23 L313.16,287.31 L313.65,287.38 L314.14,287.46 L314.62,287.53 L315.1,287.6 L315.62,287.68 L316.13,287.75 L316.64,287.82 L317.15,287.89 L317.65,287.96 L318.16,288.03 L318.66,288.09 L319.16,288.15 L319.66,288.21 L320.16,288.27 L320.65,288.33 L321.15,288.38 L321.65,288.43 L322.14,288.48 L322.64,288.53 L323.14,288.58 L323.64,288.63 L324.14,288.67 L324.65,288.71 L325.15,288.75 L325.66,288.79 L326.17,288.83 L326.68,288.87 L327.2,288.9 L327.7,288.93 L328.2,288.97 L328.71,289 L329.21,289.03 L329.72,289.06 L330.23,289.1" fill="none" stroke="#D95319" stroke-width="6.85" stroke-linejoin="round" stroke-miterlimit="10" stroke-dasharray="6.9 5.8" clip-path="url(#clipa)" stroke-dashoffset="12.52"/>
<path d="M330.23,289.1 L330.75,289.13 L331.26,289.16 L331.78,289.19 L332.29,289.21 L332.81,289.24 L333.33,289.26 L333.85,289.28 L334.36,289.29 L334.88,289.31 L335.4,289.32 L335.92,289.32 L336.43,289.33 L336.95,289.32 L337.46,289.32 L337.97,289.3 L338.48,289.29 L338.99,289.26 L339.5,289.23 L340,289.2 L340.52,289.16 L341.04,289.1 L341.56,289.05 L342.07,288.98 L342.59,288.91 L343.1,288.83 L343.61,288.74 L344.12,288.66 L344.63,288.56 L345.14,288.47 L345.64,288.37 L346.15,288.26 L346.66,288.16 L347.16,288.05 L347.67,287.94 L348.18,287.83 L348.69,287.72 L349.2,287.62 L349.71,287.51 L350.23,287.4 L350.74,287.3 L351.26,287.19 L351.78,287.1 L352.3,287 L352.78,286.91 L353.27,286.83 L353.76,286.74 L354.25,286.66 L354.74,286.57 L355.23,286.49 L355.72,286.4 L356.22,286.32 L356.71,286.23 L357.21,286.15 L357.71,286.06 L358.2,285.97 L358.7,285.89 L359.2,285.8 L359.69,285.71 L360.19,285.63 L360.69,285.54 L361.18,285.45 L361.68,285.36 L362.17,285.27 L362.66,285.18 L363.15,285.08 L363.64,284.99 L364.13,284.89 L364.62,284.8 L365.1,284.7 L365.6,284.6 L366.1,284.5 L366.6,284.4 L367.1,284.3 L367.6,284.2 L368.1,284.1 L368.6,284 L369.09,283.9 L369.59,283.8 L370.08,283.69 L370.58,283.59 L371.07,283.48 L371.56,283.38 L372.06,283.27 L372.55,283.16 L373.04,283.05 L373.53,282.93 L374.01,282.81 L374.5,282.69 L374.99,282.57 L375.47,282.44 L375.96,282.31 L376.44,282.18 L376.92,282.04 L377.4,281.9 L377.88,281.76 L378.36,281.61 L378.84,281.46 L379.32,281.32 L379.8,281.17 L380.27,281.02 L380.75,280.87 L381.23,280.71 L381.7,280.55 L382.18,280.39 L382.65,280.23 L383.12,280.07 L383.59,279.9 L384.06,279.72 L384.53,279.55 L384.99,279.36 L385.46,279.18 L385.92,278.99 L386.38,278.79 L386.84,278.59 L387.3,278.38 L387.75,278.17 L388.2,277.95 L388.65,277.73 L389.1,277.5 L389.54,277.26 L389.99,277.01 L390.43,276.76 L390.86,276.49 L391.3,276.22 L391.73,275.95 L392.16,275.66 L392.59,275.38 L393.02,275.08 L393.45,274.78 L393.87,274.48 L394.3,274.18 L394.72,273.87 L395.14,273.56 L395.56,273.25 L395.97,272.94 L396.39,272.63 L396.81,272.32 L397.22,272.01 L397.64,271.7 L398.05,271.39 L398.46,271.09 L398.88,270.79 L399.29,270.49 L399.7,270.2 L400.13,269.9 L400.56,269.6 L400.98,269.31 L401.41,269.01 L401.83,268.72 L402.25,268.43 L402.68,268.14 L403.1,267.86 L403.52,267.57 L403.93,267.28 L404.35,266.99 L404.77,266.7 L405.18,266.41 L405.6,266.12 L406.01,265.82 L406.43,265.52 L406.84,265.22 L407.25,264.92 L407.66,264.61 L408.07,264.3 L408.48,263.98 L408.89,263.66 L409.29,263.33 L409.7,263 L410.08,262.69 L410.45,262.37 L410.83,262.05 L411.2,261.73 L411.58,261.4 L411.95,261.07 L412.33,260.74 L412.7,260.41 L413.07,260.07 L413.44,259.73 L413.82,259.39 L414.19,259.04 L414.56,258.69 L414.92,258.35 L415.29,258 L415.66,257.64 L416.02,257.29 L416.38,256.94 L416.74,256.58 L417.1,256.23 L417.46,255.87 L417.81,255.52 L418.16,255.16 L418.51,254.81 L418.86,254.45 L419.2,254.1 L419.55,253.73 L419.91,253.36 L420.25,252.99 L420.6,252.62 L420.94,252.25 L421.29,251.87 L421.63,251.5 L421.96,251.12 L422.3,250.74 L422.63,250.37 L422.96,249.99 L423.29,249.61 L423.62,249.23 L423.95,248.85 L424.27,248.46 L424.6,248.08 L424.92,247.7 L425.25,247.31 L425.57,246.93 L425.89,246.54 L426.21,246.15 L426.53,245.77 L426.86,245.38 L427.18,244.99 L427.5,244.6 L427.82,244.21 L428.15,243.82 L428.48,243.42 L428.8,243.03 L429.13,242.63 L429.46,242.24 L429.79,241.84 L430.12,241.44 L430.45,241.04 L430.78,240.64 L431.11,240.24 L431.43,239.84 L431.75,239.44 L432.07,239.03 L432.39,238.63 L432.7,238.23 L433.01,237.82 L433.32,237.42 L433.62,237.02 L433.91,236.61 L434.2,236.21 L434.49,235.81 L434.77,235.4 L435.04,235 L435.3,234.6 L435.59,234.15 L435.86,233.7 L436.13,233.26 L436.38,232.82 L436.62,232.38 L436.86,231.94 L437.08,231.51 L437.31,231.08 L437.52,230.64 L437.74,230.21 L437.95,229.77 L438.16,229.33 L438.37,228.88 L438.59,228.43 L438.8,227.97 L439.02,227.5 L439.25,227.03 L439.48,226.54 L439.72,226.05 L439.97,225.55 L440.23,225.03" fill="none" stroke="#D95319" stroke-width="6.85" stroke-linejoin="round" stroke-miterlimit="10" stroke-dasharray="6.9 5.8" clip-path="url(#clipa)" stroke-dashoffset="6.61"/>
<path d="M440.23,225.03 L440.5,224.5 L440.71,224.1 L440.92,223.7 L441.13,223.28 L441.35,222.86 L441.57,222.43 L441.79,222 L442.02,221.56 L442.25,221.12 L442.48,220.67 L442.71,220.21 L442.95,219.75 L443.18,219.29 L443.42,218.83 L443.66,218.36 L443.91,217.89 L444.15,217.42 L444.39,216.95 L444.64,216.48 L444.88,216.01 L445.12,215.54 L445.37,215.08 L445.61,214.61 L445.85,214.15 L446.09,213.68 L446.33,213.23 L446.57,212.77 L446.8,212.32 L447.04,211.88 L447.27,211.43 L447.5,211 L447.74,210.54 L447.99,210.07 L448.23,209.6 L448.48,209.14 L448.72,208.67 L448.97,208.2 L449.21,207.73 L449.45,207.26 L449.7,206.8 L449.94,206.33 L450.18,205.87 L450.42,205.4 L450.67,204.94 L450.91,204.49 L451.15,204.03 L451.39,203.58 L451.63,203.14 L451.86,202.7 L452.1,202.26 L452.34,201.83 L452.57,201.4 L452.81,200.98 L453.04,200.56 L453.28,200.16 L453.51,199.76 L453.74,199.36 L453.97,198.98 L454.2,198.6 L454.52,198.09 L454.83,197.6 L455.15,197.14 L455.46,196.69 L455.77,196.26 L456.07,195.84 L456.38,195.44 L456.68,195.04 L456.99,194.65 L457.29,194.26 L457.59,193.88 L457.89,193.49 L458.19,193.1 L458.49,192.71 L458.79,192.31 L459.09,191.9 L459.39,191.47 L459.69,191.03 L460,190.58 L460.3,190.1 L460.54,189.71 L460.79,189.31 L461.03,188.9 L461.28,188.49 L461.52,188.07 L461.76,187.64 L462.01,187.22 L462.25,186.78 L462.5,186.35 L462.74,185.9 L462.98,185.46 L463.23,185.01 L463.47,184.56 L463.72,184.11 L463.96,183.66 L464.2,183.2 L464.45,182.74 L464.69,182.29 L464.94,181.83 L465.18,181.37 L465.42,180.92 L465.67,180.46 L465.91,180 L466.16,179.55 L466.4,179.1 L466.63,178.67 L466.87,178.23 L467.11,177.79 L467.34,177.35 L467.58,176.91 L467.82,176.47 L468.05,176.03 L468.29,175.58 L468.53,175.14 L468.76,174.69 L469,174.24 L469.24,173.8 L469.47,173.35 L469.71,172.9 L469.95,172.46 L470.18,172.01 L470.42,171.56 L470.65,171.12 L470.89,170.67 L471.12,170.23 L471.35,169.79 L471.58,169.35 L471.81,168.91 L472.04,168.47 L472.27,168.03 L472.5,167.6 L472.74,167.13 L472.99,166.67 L473.23,166.2 L473.47,165.74 L473.7,165.27 L473.94,164.81 L474.17,164.35 L474.4,163.89 L474.64,163.43 L474.87,162.98 L475.1,162.52 L475.33,162.06 L475.56,161.61 L475.8,161.15 L476.03,160.7 L476.26,160.24 L476.5,159.79 L476.74,159.33 L476.97,158.88 L477.21,158.42 L477.46,157.97 L477.7,157.51 L477.95,157.06 L478.2,156.6 L478.44,156.16 L478.68,155.72 L478.92,155.28 L479.16,154.84 L479.4,154.39 L479.64,153.95 L479.88,153.5 L480.12,153.06 L480.37,152.61 L480.61,152.17 L480.85,151.72 L481.1,151.28 L481.35,150.84 L481.6,150.39 L481.86,149.95 L482.11,149.52 L482.37,149.08 L482.64,148.65 L482.9,148.22 L483.17,147.79 L483.45,147.36 L483.73,146.94 L484.01,146.52 L484.3,146.11 L484.6,145.7 L484.9,145.29 L485.2,144.88 L485.5,144.46 L485.8,144.04 L486.11,143.62 L486.41,143.19 L486.72,142.77 L487.04,142.35 L487.35,141.93 L487.67,141.52 L487.99,141.1 L488.32,140.7 L488.65,140.29 L488.99,139.9 L489.33,139.51 L489.68,139.13 L490.03,138.75" fill="none" stroke="#D95319" stroke-width="6.85" stroke-linejoin="round" stroke-miterlimit="10" stroke-dasharray="6.9 5.8" clip-path="url(#clipa)" stroke-dashoffset="1.22"/>
<path d="M490.03,138.75 L490.39,138.39 L490.76,138.04 L491.13,137.7 L491.51,137.37 L491.89,137.06 L492.29,136.76 L492.69,136.47 L493.1,136.2 L493.52,135.94 L493.96,135.68 L494.41,135.43 L494.87,135.18 L495.34,134.93 L495.83,134.7 L496.32,134.46 L496.82,134.24 L497.32,134.03 L497.83,133.83 L498.35,133.63 L498.87,133.45 L499.38,133.29 L499.9,133.13 L500.42,132.99 L500.94,132.87 L501.45,132.76 L501.96,132.67 L502.46,132.6 L502.96,132.55 L503.45,132.51 L503.93,132.5 L504.4,132.51 L504.86,132.54 L505.3,132.6 L505.77,132.69 L506.24,132.82 L506.7,132.97 L507.16,133.16 L507.61,133.37 L508.05,133.61 L508.49,133.87 L508.93,134.15 L509.36,134.45 L509.79,134.77 L510.21,135.11 L510.63,135.46 L511.04,135.82 L511.45,136.19 L511.86,136.56 L512.26,136.94 L512.66,137.33 L513.06,137.72 L513.45,138.1 L513.84,138.49 L514.23,138.86 L514.62,139.24 L515,139.6 L515.36,139.95 L515.72,140.3 L516.08,140.66 L516.43,141.03 L516.77,141.4 L517.12,141.77 L517.45,142.15 L517.79,142.54 L518.12,142.93 L518.45,143.33 L518.78,143.72 L519.1,144.12 L519.42,144.53 L519.74,144.94 L520.06,145.35 L520.38,145.76 L520.69,146.17 L521.01,146.59 L521.32,147.01 L521.64,147.42 L521.95,147.84 L522.27,148.26 L522.58,148.68 L522.9,149.1 L523.2,149.5 L523.51,149.91 L523.81,150.32 L524.11,150.73 L524.41,151.14 L524.71,151.56 L525,151.98 L525.3,152.4 L525.6,152.82 L525.89,153.25 L526.19,153.67 L526.48,154.1 L526.77,154.53 L527.06,154.96 L527.35,155.39 L527.64,155.82 L527.93,156.25 L528.22,156.68 L528.5,157.11 L528.79,157.54 L529.07,157.98 L529.36,158.41 L529.64,158.84 L529.92,159.27 L530.2,159.7 L530.48,160.13 L530.75,160.57 L531.02,161 L531.29,161.45 L531.55,161.89 L531.81,162.33 L532.07,162.78 L532.33,163.22 L532.58,163.67 L532.84,164.12 L533.09,164.57 L533.35,165.01 L533.6,165.46 L533.86,165.91 L534.12,166.35 L534.38,166.79 L534.64,167.23 L534.91,167.66 L535.18,168.1 L535.45,168.52 L535.73,168.95 L536.02,169.37 L536.3,169.78 L536.6,170.2 L536.9,170.6 L537.21,171 L537.52,171.4 L537.85,171.8 L538.18,172.2 L538.52,172.6 L538.86,172.99 L539.2,173.38 L539.55,173.77 L539.91,174.16 L540.26,174.55 L540.62,174.93 L540.98,175.31 L541.34,175.68 L541.69,176.05 L542.05,176.42 L542.41,176.78 L542.76,177.14 L543.11,177.49 L543.45,177.84 L543.79,178.18 L544.13,178.52 L544.46,178.85 L544.78,179.17 L545.09,179.49 L545.4,179.8 L545.82,180.23 L546.25,180.65 L546.69,181.08 L547.12,181.5 L547.55,181.91 L547.99,182.32 L548.41,182.72 L548.83,183.1 L549.23,183.48 L549.62,183.83 L550,184.18 L550.36,184.5 L550.7,184.81 L551.01,185.1 L551.3,185.36 L551.57,185.6 L551.8,185.81 L552,186" fill="none" stroke="#D95319" stroke-width="6.85" stroke-linejoin="round" stroke-miterlimit="10" stroke-dasharray="6.9 5.8" clip-path="url(#clipa)" stroke-dashoffset="12.44"/>
<line x1="109.5" y1="37" x2="109.5" y2="383.7" stroke="#0072BD" stroke-width="1.3"/>
<line x1="109.5" y1="383.6" x2="122.8" y2="383.6" stroke="#0072BD" stroke-width="1"/>
<line x1="109.5" y1="245" x2="122.8" y2="245" stroke="#0072BD" stroke-width="1"/>
<line x1="109.5" y1="106.4" x2="122.8" y2="106.4" stroke="#0072BD" stroke-width="1"/>
<line x1="109.5" y1="383.7" x2="109.5" y2="370.4" stroke="#7a7a7a" stroke-width="1"/>
<line x1="109.5" y1="37" x2="109.5" y2="50.3" stroke="#7a7a7a" stroke-width="1"/>
<line x1="219.43" y1="383.7" x2="219.43" y2="370.4" stroke="#7a7a7a" stroke-width="1"/>
<line x1="219.43" y1="37" x2="219.43" y2="50.3" stroke="#7a7a7a" stroke-width="1"/>
<line x1="329.35" y1="383.7" x2="329.35" y2="370.4" stroke="#7a7a7a" stroke-width="1"/>
<line x1="329.35" y1="37" x2="329.35" y2="50.3" stroke="#7a7a7a" stroke-width="1"/>
<line x1="439.28" y1="383.7" x2="439.28" y2="370.4" stroke="#7a7a7a" stroke-width="1"/>
<line x1="439.28" y1="37" x2="439.28" y2="50.3" stroke="#7a7a7a" stroke-width="1"/>
<line x1="549.2" y1="37" x2="549.2" y2="383.7" stroke="#D95319" stroke-width="1.3"/>
<line x1="549.2" y1="383.7" x2="535.9" y2="383.7" stroke="#D95319" stroke-width="1"/>
<line x1="549.2" y1="268.13" x2="535.9" y2="268.13" stroke="#D95319" stroke-width="1"/>
<line x1="549.2" y1="152.57" x2="535.9" y2="152.57" stroke="#D95319" stroke-width="1"/>
<line x1="549.2" y1="37" x2="535.9" y2="37" stroke="#D95319" stroke-width="1"/>
<line x1="108.9" y1="37" x2="549.8" y2="37" stroke="#000" stroke-width="1.6"/>
<line x1="108.9" y1="383.7" x2="549.8" y2="383.7" stroke="#000" stroke-width="1.6"/>
<text x="-1.19" y="23.7" font-size="31" fill="#000" textLength="18.45" lengthAdjust="spacingAndGlyphs" font-weight="bold">a</text>
<circle cx="124.1" cy="18.1" r="2" fill="#0072BD"/>
<text x="128.27" y="26.1" font-size="33" fill="#0072BD" textLength="32.15" lengthAdjust="spacingAndGlyphs" stroke="#0072BD" stroke-width="0.32">10</text>
<rect x="162.6" y="8.15" width="15.3" height="1.3" fill="#0072BD"/>
<text x="179.82" y="14.7" font-size="23" fill="#0072BD" textLength="13.47" lengthAdjust="spacingAndGlyphs" stroke="#0072BD" stroke-width="0.32">2</text>
<text x="82.46" y="394" font-size="33" fill="#0072BD" textLength="16.5" lengthAdjust="spacingAndGlyphs" stroke="#0072BD" stroke-width="0.32">0</text>
<text x="83.02" y="255.4" font-size="33" fill="#0072BD" textLength="16.5" lengthAdjust="spacingAndGlyphs" stroke="#0072BD" stroke-width="0.32">2</text>
<text x="81.72" y="116.8" font-size="33" fill="#0072BD" textLength="16.5" lengthAdjust="spacingAndGlyphs" stroke="#0072BD" stroke-width="0.32">4</text>
<text x="560.24" y="394.1" font-size="33" fill="#D95319" textLength="16.5" lengthAdjust="spacingAndGlyphs" stroke="#D95319" stroke-width="0.32">0</text>
<text x="560.29" y="278.53" font-size="33" fill="#D95319" textLength="55.71" lengthAdjust="spacingAndGlyphs" stroke="#D95319" stroke-width="0.32">0.04</text>
<text x="560.27" y="162.97" font-size="33" fill="#D95319" textLength="56.46" lengthAdjust="spacingAndGlyphs" stroke="#D95319" stroke-width="0.32">0.08</text>
<text x="560.26" y="47.4" font-size="33" fill="#D95319" textLength="57.04" lengthAdjust="spacingAndGlyphs" stroke="#D95319" stroke-width="0.32">0.12</text>
<text x="72.4" y="416.4" font-size="33" fill="#000" textLength="74" lengthAdjust="spacingAndGlyphs" stroke="#000" stroke-width="0.32">2,000</text>
<text x="182.33" y="416.4" font-size="33" fill="#000" textLength="74" lengthAdjust="spacingAndGlyphs" stroke="#000" stroke-width="0.32">2,100</text>
<text x="292.25" y="416.4" font-size="33" fill="#000" textLength="74" lengthAdjust="spacingAndGlyphs" stroke="#000" stroke-width="0.32">2,200</text>
<text x="402.18" y="416.4" font-size="33" fill="#000" textLength="74" lengthAdjust="spacingAndGlyphs" stroke="#000" stroke-width="0.32">2,300</text>
<text x="512.1" y="416.4" font-size="33" fill="#000" textLength="74" lengthAdjust="spacingAndGlyphs" stroke="#000" stroke-width="0.32">2,400</text>
<g transform="translate(288.2,467.5)">
<path d="M13.7,-21.9 C11.2,-22.9 9.7,-20.6 9.2,-17.5 L7.6,-6.8 C6.9,-2.2 5.6,5.6 3.0,5.7" fill="none" stroke="#262626" stroke-width="2.1" stroke-linecap="round"/>
<path d="M13.7,-21.9 C14.6,-21.5 14.9,-20.6 14.6,-19.9" fill="none" stroke="#262626" stroke-width="1.3"/>
<circle cx="14.5" cy="-19.9" r="1.5" fill="#262626"/>
<circle cx="1.8" cy="3.7" r="1.6" fill="#262626"/>
<path d="M3.0,5.7 C1.9,5.8 0.9,5.1 0.6,4.2" fill="none" stroke="#262626" stroke-width="1.3"/>
<rect x="5.0" y="-14.1" width="8.7" height="1.35" fill="#262626"/>
</g>
<rect x="320.1" y="443.2" width="1.4" height="32.5" fill="#262626"/>
<rect x="320.1" y="443.2" width="4.6" height="1.3" fill="#262626"/>
<rect x="320.1" y="474.4" width="4.6" height="1.3" fill="#262626"/>
<text x="325.07" y="467.5" font-size="33.6" fill="#262626" textLength="37.63" lengthAdjust="spacingAndGlyphs" stroke="#262626" stroke-width="0.32">Hz</text>
<rect x="366.5" y="443.2" width="1.4" height="32.5" fill="#262626"/>
<rect x="363.3" y="443.2" width="4.6" height="1.3" fill="#262626"/>
<rect x="363.3" y="474.4" width="4.6" height="1.3" fill="#262626"/>
<g transform="translate(49.8,297) rotate(-90)">
<path d="M0.6,-9.8 C0.9,-12.3 2.4,-14.1 3.9,-14.1 C5.4,-14.1 5.9,-12.6 5.4,-10.6" fill="none" stroke="#0072BD" stroke-width="1.35" stroke-linecap="round"/>
<path d="M5.4,-10.6 L4.1,-5.6 C3.6,-3.4 3.6,-0.9 5.6,-0.5" fill="none" stroke="#0072BD" stroke-width="2.3" stroke-linecap="round"/>
<path d="M5.6,-0.5 C9.5,-0.2 13.4,-5.2 13.3,-10.6 C13.3,-12.2 12.9,-13.2 12.2,-13.4" fill="none" stroke="#0072BD" stroke-width="1.35" stroke-linecap="round"/>
<circle cx="12.3" cy="-12.8" r="1.45" fill="#0072BD"/>
<path d="M3.5,-18.7 C4.5,-21.1 6.44,-21.4 8.6,-19.75 C10.76,-18.1 12.7,-18.4 13.7,-20.8" fill="none" stroke="#0072BD" stroke-width="1.5" stroke-linecap="round"/>
<rect x="30.3" y="-23.9" width="1.35" height="31.9" fill="#0072BD"/>
<rect x="30.3" y="-23.9" width="4.4" height="1.3" fill="#0072BD"/>
<rect x="30.3" y="6.7" width="4.4" height="1.3" fill="#0072BD"/>
<text x="39.65" y="-12.7" font-size="21.5" fill="#0072BD" textLength="40.86" lengthAdjust="spacingAndGlyphs" stroke="#0072BD" stroke-width="0.32">mm</text>
<rect x="39.2" y="-8.7" width="41.5" height="1.2" fill="#0072BD"/>
<text x="54.28" y="11" font-size="21.5" fill="#0072BD" textLength="10.6" lengthAdjust="spacingAndGlyphs" stroke="#0072BD" stroke-width="0.32">s</text>
<path d="M86.9,7.4 L98.5,-23.9" stroke="#0072BD" stroke-width="1.35" fill="none"/>
<path d="M103.3,-10.4 L106.2,-11.9" stroke="#0072BD" stroke-width="1.3" fill="none" stroke-linecap="round"/>
<path d="M106.2,-11.9 L112.5,2.5" stroke="#0072BD" stroke-width="2.6" fill="none"/>
<path d="M112.5,3 L127.4,-28.1 L165,-28.1" stroke="#0072BD" stroke-width="1.3" fill="none" stroke-linejoin="miter"/>
<text x="126.98" y="0" font-size="33.6" fill="#0072BD" textLength="37.42" lengthAdjust="spacingAndGlyphs" stroke="#0072BD" stroke-width="0.32">Hz</text>
<rect x="168.95" y="-23.9" width="1.35" height="31.9" fill="#0072BD"/>
<rect x="165.9" y="-23.9" width="4.4" height="1.3" fill="#0072BD"/>
<rect x="165.9" y="6.7" width="4.4" height="1.3" fill="#0072BD"/>
</g>
<g transform="translate(668.8,301) rotate(-90)">
<text x="-2.31" y="0" font-size="33" fill="#D95319" textLength="22.89" lengthAdjust="spacingAndGlyphs" font-style="italic" stroke="#D95319" stroke-width="0.32">U</text>
<path d="M6.8,-27.3 C7.76,-29.9 9.65,-30.2 11.75,-28.45 C13.85,-26.7 15.74,-27 16.7,-29.6" fill="none" stroke="#D95319" stroke-width="1.5" stroke-linecap="round"/>
<rect x="37.9" y="-24.5" width="1.35" height="31.8" fill="#D95319"/>
<rect x="37.9" y="-24.5" width="4.4" height="1.3" fill="#D95319"/>
<rect x="37.9" y="6" width="4.4" height="1.3" fill="#D95319"/>
<text x="43.29" y="0" font-size="33.6" fill="#D95319" textLength="26.24" lengthAdjust="spacingAndGlyphs" stroke="#D95319" stroke-width="0.32">m</text>
<text x="69.94" y="0" font-size="33.6" fill="#D95319" textLength="23.12" lengthAdjust="spacingAndGlyphs" stroke="#D95319" stroke-width="0.32">V</text>
<path d="M96,7 L107.8,-24.5" stroke="#D95319" stroke-width="1.35" fill="none"/>
<path d="M112.6,-11.2 L115.3,-13" stroke="#D95319" stroke-width="1.3" fill="none" stroke-linecap="round"/>
<path d="M115.3,-13 L121.3,2" stroke="#D95319" stroke-width="2.6" fill="none"/>
<path d="M121.3,2.5 L135.8,-28.2 L174.4,-28.2" stroke="#D95319" stroke-width="1.3" fill="none" stroke-linejoin="miter"/>
<text x="135.87" y="0" font-size="33.6" fill="#D95319" textLength="37.84" lengthAdjust="spacingAndGlyphs" stroke="#D95319" stroke-width="0.32">Hz</text>
<rect x="177.65" y="-24.9" width="1.35" height="32.1" fill="#D95319"/>
<rect x="174.6" y="-24.9" width="4.4" height="1.3" fill="#D95319"/>
<rect x="174.6" y="5.9" width="4.4" height="1.3" fill="#D95319"/>
</g>
<path d="M947,353.5 L947.84,353.26 L949.9,352.1 L951.4,351.04 L953.29,349.66 L955.39,348.09 L957.55,346.43 L959.6,344.8 L961.58,343.18 L963.59,341.49 L965.59,339.76 L967.51,338.03 L969.3,336.3 L970.93,334.62 L972.43,332.98 L973.86,331.31 L975.26,329.57 L976.7,327.7 L978.19,325.71 L979.69,323.63 L981.18,321.45 L982.62,319.18 L984,316.8 L985.09,314.71 L986.14,312.52 L987.15,310.26 L988.13,307.96 L989.08,305.66 L990,303.4 L990.89,301.17 L991.76,298.93 L992.59,296.7 L993.4,294.47 L994.17,292.23 L994.9,290 L995.6,287.78 L996.25,285.58 L996.87,283.38 L997.47,281.16 L998.04,278.9 L998.6,276.6 L999.13,274.29 L999.61,272 L1000.08,269.68 L1000.54,267.27 L1001.01,264.73 L1001.5,262 L1001.89,259.8 L1002.3,257.47 L1002.71,255.05 L1003.13,252.56 L1003.55,250.03 L1003.95,247.49 L1004.34,244.97 L1004.7,242.5 L1005.04,240.1 L1005.36,237.74 L1005.66,235.4 L1005.95,233.05 L1006.24,230.66 L1006.52,228.21 L1006.81,225.67 L1007.1,223 L1007.32,220.97 L1007.55,218.88 L1007.77,216.72 L1008,214.52 L1008.23,212.28 L1008.46,210.02 L1008.68,207.75 L1008.9,205.46 L1009.11,203.19 L1009.31,200.93 L1009.5,198.7 L1009.68,196.47 L1009.85,194.2 L1010.01,191.91 L1010.17,189.62 L1010.31,187.33 L1010.46,185.05 L1010.6,182.8 L1010.75,180.59 L1010.89,178.43 L1011.04,176.33 L1011.2,174.3 L1011.42,171.65 L1011.63,169.12 L1011.85,166.7 L1012.07,164.35 L1012.29,162.04 L1012.52,159.73 L1012.76,157.39 L1013,155 L1013.26,152.61 L1013.53,150.28 L1013.81,147.97 L1014.09,145.64 L1014.38,143.26 L1014.66,140.79 L1014.94,138.18 L1015.2,135.4 L1015.37,133.44 L1015.54,131.39 L1015.71,129.28 L1015.88,127.1 L1016.04,124.88 L1016.21,122.62 L1016.37,120.34 L1016.52,118.04 L1016.67,115.75 L1016.82,113.47 L1016.96,111.22 L1017.1,109 L1017.24,106.58 L1017.37,104.12 L1017.5,101.64 L1017.61,99.16 L1017.73,96.67 L1017.84,94.21 L1017.95,91.78 L1018.05,89.4 L1018.17,87.08 L1018.28,84.85 L1018.4,82.7 L1018.55,80.2 L1018.71,77.81 L1018.86,75.52 L1019.02,73.31 L1019.18,71.16 L1019.34,69.06 L1019.49,66.99 L1019.65,64.95 L1019.8,62.9 L1019.97,60.25 L1020.12,57.59 L1020.26,54.97 L1020.41,52.44 L1020.59,50.04 L1020.81,47.81 L1021.1,45.8 L1021.78,42.49 L1022.62,39.5 L1023.53,37.33 L1024.4,36.5 L1025.26,37.33 L1026.14,39.5 L1026.97,42.49 L1027.7,45.8 L1028.04,47.81 L1028.34,50.04 L1028.61,52.44 L1028.85,54.97 L1029.09,57.59 L1029.34,60.25 L1029.6,62.9 L1029.82,64.95 L1030.04,66.99 L1030.26,69.06 L1030.48,71.16 L1030.71,73.31 L1030.93,75.52 L1031.15,77.81 L1031.38,80.2 L1031.6,82.7 L1031.78,84.85 L1031.96,87.08 L1032.15,89.4 L1032.33,91.78 L1032.51,94.21 L1032.69,96.67 L1032.87,99.16 L1033.05,101.64 L1033.24,104.12 L1033.42,106.58 L1033.6,109 L1033.76,111.21 L1033.93,113.44 L1034.08,115.68 L1034.24,117.93 L1034.4,120.19 L1034.56,122.43 L1034.72,124.66 L1034.88,126.88 L1035.05,129.06 L1035.23,131.22 L1035.41,133.33 L1035.6,135.4 L1035.84,137.81 L1036.08,140.13 L1036.33,142.4 L1036.59,144.63 L1036.85,146.82 L1037.12,149.01 L1037.4,151.21 L1037.69,153.43 L1037.99,155.68 L1038.3,158 L1038.6,160.19 L1038.91,162.46 L1039.23,164.79 L1039.56,167.15 L1039.9,169.52 L1040.25,171.87 L1040.59,174.17 L1040.93,176.4 L1041.26,178.54 L1041.59,180.54 L1041.9,182.4 L1042.45,185.44 L1042.97,188.11 L1043.49,190.51 L1043.99,192.73 L1044.49,194.86 L1045,197 L1045.61,199.51 L1046.21,201.85 L1046.8,204.08 L1047.4,206.28 L1048,208.5 L1048.6,210.74 L1049.19,212.96 L1049.78,215.16 L1050.38,217.34 L1051,219.5 L1051.62,221.61 L1052.22,223.66 L1052.85,225.71 L1053.53,227.81 L1054.3,230 L1055.14,232.3 L1056.04,234.66 L1057,237.09 L1058.06,239.57 L1058.92,242.23 L1061.15,243.88 L1061.56,246.59 L1060.93,249.94 L1063.69,251.47 L1066.72,252.62 L1065.46,256.04 L1069.61,256.78 L1071.18,258.78 L1070.91,262.19 L1072.73,263.97 L1073.99,266.27 L1075.43,268.41 L1076.89,270.52 L1078.13,272.77 L1079.99,274.59 L1081.23,276.79 L1082.72,278.84 L1084.29,280.91 L1085.68,283.19 L1086.76,285.71 L1088.26,287.99 L1089.26,290.58 L1091.19,292.61 L1092.89,294.81 L1094.53,296.99 L1095.14,299.66 L1096.17,301.78 L1097.62,303.45 L1098.66,305.41 L1100.16,307.42 L1101.2,309.33 L1102.02,311.43 L1103.56,313.35 L1103.92,316.01 L1105.49,318.36 L1106.51,320.3 L1107.5,322.46 L1108.36,324.82 L1109.6,327.06 L1110.83,329.31 L1112.07,331.51 L1113.3,333.6 L1114.55,335.61 L1115.83,337.61 L1117.13,339.58 L1118.45,341.49 L1119.77,343.33 L1121.09,345.07 L1122.4,346.7 L1124.22,348.76 L1126.04,350.62 L1127.85,352.32 L1129.67,353.92 L1131.5,355.5 L1133.34,357.04 L1135.18,358.5 L1137.02,359.89 L1138.86,361.22 L1140.7,362.5 L1142.98,363.99 L1145.26,365.38 L1147.53,366.7 L1149.8,368 L1152.08,369.3 L1154.35,370.58 L1156.63,371.82 L1158.9,373 L1161.18,374.13 L1163.45,375.21 L1165.73,376.24 L1168,377.2 L1170.35,378.12 L1172.75,379 L1175.05,379.78 L1177.1,380.4 L1180.24,381.14 L1183,381.4 L1185.99,381.26 L1189,380.8 L1191.61,380.19 L1195,379.3 L1197.04,378.81 L1199.44,378.25 L1202.03,377.64 L1204.67,377.02 L1207.2,376.4 L1209.62,375.8 L1212.04,375.2 L1214.46,374.59 L1216.88,373.96 L1219.3,373.3 L1221.74,372.62 L1224.18,371.93 L1226.62,371.21 L1229.06,370.47 L1231.5,369.7 L1233.92,368.9 L1236.34,368.08 L1238.76,367.23 L1241.18,366.34 L1243.6,365.4 L1245.66,364.57 L1247.75,363.71 L1249.85,362.81 L1251.91,361.89 L1253.91,360.95 L1255.81,360.01 L1257.95,358.91 L1259.97,357.81 L1261.95,356.74 L1263.77,355.41 L1265.68,354.12 L1266.83,351.89 L1268.62,350.41 L1271.16,349.57 L1272.43,347.4 L1274.23,345.6 L1274.89,343.27 L1276.72,341.83 L1277.98,339.86 L1280.14,338.52 L1280.59,335.93 L1282.38,334.32 L1284.38,332.82 L1284.66,330.18 L1286.01,328.21 L1287.78,326.5 L1288.82,324.39 L1289.85,322.33 L1290.94,319.82 L1292.39,317.52 L1293.99,315.34 L1294.69,312.82 L1295.38,310.45 L1296.44,307.8 L1297.32,305.25 L1298.34,302.86 L1298.64,300.23 L1300.19,298.01 L1300.81,295.43 L1302.53,293.48 L1304.82,292.36 L1305.42,288.52 L1307.04,286.02 L1309.17,284.57 L1310.93,285.27 L1314.04,284.76 L1314.67,288.7 L1315.89,291.03 L1318.79,292.61 L1320.04,295.47 L1321.25,297.46 L1323.24,299.04 L1324.07,301.38 L1324.57,303.92 L1326.41,305.59 L1327.91,307.48 L1328.84,309.72 L1330.61,311.43 L1331.36,313.75 L1333.05,315.48 L1334.08,317.63 L1335.22,319.78 L1336.65,321.88 L1338.85,323.52 L1339.42,326.35 L1341.29,328.09 L1343.3,329.5 L1345.52,330.54 L1347.22,332.06 L1348.16,334.57 L1351.59,334.33 L1352.82,337.39 L1355.7,338.11 L1358.03,339.06 L1360.45,340.34 L1363.06,341.36 L1366.01,341.04 L1368.05,343.13 L1370.55,343.35 L1373.24,343.25 L1376.23,343.38 L1378.44,344.73 L1381.27,345.02 L1384.16,345.69 L1386.96,346.06 L1389.32,346.51 L1391,346.8" fill="none" stroke="#0072BD" stroke-width="6.85" stroke-linejoin="miter" stroke-miterlimit="10" clip-path="url(#clipb)"/>
<path d="M947,354.2 L947.24,354.12 L947.5,354.06 L947.84,353.96 L948.32,353.76 L948.99,353.39 L949.9,352.8 L950.17,352.61 L950.47,352.4 L950.79,352.18 L951.12,351.94 L951.48,351.68 L951.85,351.42 L952.23,351.14 L952.63,350.85 L953.04,350.55 L953.46,350.24 L953.89,349.92 L954.32,349.59 L954.77,349.26 L955.21,348.93 L955.66,348.58 L956.11,348.24 L956.57,347.89 L957.02,347.55 L957.46,347.2 L957.9,346.85 L958.34,346.51 L958.77,346.17 L959.19,345.83 L959.6,345.5 L959.99,345.18 L960.38,344.86 L960.78,344.54 L961.18,344.21 L961.58,343.88 L961.98,343.55 L962.38,343.21 L962.78,342.87 L963.19,342.53 L963.59,342.19 L963.99,341.85 L964.39,341.5 L964.79,341.16 L965.19,340.81 L965.59,340.46 L965.98,340.12 L966.37,339.77 L966.75,339.42 L967.13,339.07 L967.51,338.73 L967.88,338.38 L968.24,338.03 L968.6,337.69 L968.95,337.34 L969.3,337 L969.68,336.61 L970.06,336.23 L970.43,335.85 L970.79,335.47 L971.14,335.1 L971.49,334.72 L971.83,334.35 L972.16,333.98 L972.5,333.6 L972.82,333.23 L973.15,332.85 L973.47,332.47 L973.79,332.09 L974.11,331.7 L974.43,331.31 L974.75,330.91 L975.07,330.51 L975.39,330.1 L975.71,329.69 L976.04,329.27 L976.37,328.84 L976.7,328.4 L976.98,328.02 L977.27,327.64 L977.55,327.26 L977.84,326.87 L978.13,326.49 L978.42,326.09 L978.71,325.7 L979,325.3 L979.29,324.9 L979.57,324.49 L979.86,324.08 L980.15,323.67 L980.44,323.25 L980.72,322.83 L981.01,322.41 L981.29,321.98 L981.57,321.55 L981.85,321.11 L982.13,320.68 L982.41,320.23 L982.68,319.79 L982.95,319.34 L983.22,318.88 L983.48,318.43 L983.74,317.97 L984,317.5 L984.23,317.08 L984.46,316.65 L984.68,316.22 L984.9,315.78 L985.12,315.34 L985.34,314.89 L985.56,314.44 L985.78,313.98 L985.99,313.53 L986.21,313.06 L986.42,312.6 L986.63,312.13 L986.84,311.66 L987.05,311.19 L987.25,310.72 L987.46,310.25 L987.66,309.77 L987.86,309.29 L988.06,308.82 L988.26,308.34 L988.46,307.87 L988.66,307.39 L988.85,306.91 L989.05,306.44 L989.24,305.97 L989.43,305.5 L989.62,305.03 L989.81,304.56 L990,304.1 L990.19,303.62 L990.39,303.14 L990.58,302.66 L990.77,302.19 L990.96,301.71 L991.14,301.23 L991.33,300.75 L991.52,300.27 L991.7,299.79 L991.88,299.31 L992.06,298.84 L992.24,298.36 L992.42,297.88 L992.59,297.4 L992.77,296.92 L992.94,296.44 L993.11,295.96 L993.28,295.49 L993.45,295.01 L993.62,294.53 L993.79,294.05 L993.95,293.57 L994.11,293.09 L994.27,292.61 L994.43,292.14 L994.59,291.66 L994.75,291.18 L994.9,290.7 L995.06,290.2 L995.21,289.71 L995.37,289.22 L995.52,288.73 L995.67,288.24 L995.82,287.75 L995.96,287.26 L996.11,286.77 L996.25,286.28 L996.39,285.79 L996.53,285.3 L996.67,284.81 L996.81,284.32 L996.94,283.83 L997.08,283.34 L997.21,282.85 L997.34,282.35 L997.47,281.86 L997.6,281.36 L997.73,280.86 L997.85,280.36 L997.98,279.86 L998.11,279.35 L998.23,278.84 L998.35,278.33 L998.48,277.82 L998.6,277.3 L998.71,276.82 L998.82,276.34 L998.93,275.86 L999.04,275.39 L999.14,274.91 L999.25,274.44 L999.35,273.97 L999.45,273.49 L999.55,273.02 L999.65,272.55 L999.75,272.07 L999.84,271.59 L999.94,271.11 L1000.03,270.62 L1000.13,270.14 L1000.22,269.65 L1000.32,269.15 L1000.41,268.65 L1000.51,268.14 L1000.6,267.63 L1000.7,267.12 L1000.8,266.59 L1000.89,266.06 L1000.99,265.52 L1001.09,264.97 L1001.19,264.42 L1001.29,263.86 L1001.4,263.28 L1001.5,262.7 L1001.58,262.26 L1001.66,261.81 L1001.74,261.36 L1001.82,260.9 L1001.9,260.44 L1001.98,259.97 L1002.07,259.5 L1002.15,259.02 L1002.23,258.53 L1002.32,258.05 L1002.4,257.56 L1002.49,257.06 L1002.57,256.56 L1002.66,256.06 L1002.75,255.56 L1002.83,255.05 L1002.92,254.54 L1003,254.03 L1003.09,253.51 L1003.17,253 L1003.26,252.48 L1003.34,251.96 L1003.43,251.44 L1003.51,250.92 L1003.6,250.4 L1003.68,249.88 L1003.76,249.36 L1003.85,248.84 L1003.93,248.32 L1004.01,247.8 L1004.09,247.28 L1004.17,246.76 L1004.25,246.25 L1004.33,245.74 L1004.4,245.22 L1004.48,244.71 L1004.55,244.21 L1004.63,243.7 L1004.7,243.2 L1004.77,242.7 L1004.84,242.21 L1004.91,241.71 L1004.98,241.22 L1005.05,240.73" fill="none" stroke="#D95319" stroke-width="6.85" stroke-linejoin="round" stroke-miterlimit="10" stroke-dasharray="6.9 5.8" clip-path="url(#clipb)" stroke-dashoffset="10.48"/>
<path d="M1005.05,240.73 L1005.11,240.25 L1005.18,239.76 L1005.24,239.28 L1005.31,238.8 L1005.37,238.32 L1005.44,237.84 L1005.5,237.36 L1005.56,236.88 L1005.62,236.4 L1005.68,235.92 L1005.74,235.44 L1005.8,234.96 L1005.86,234.48 L1005.92,233.99 L1005.98,233.51 L1006.04,233.02 L1006.1,232.53 L1006.16,232.04 L1006.21,231.55 L1006.27,231.05 L1006.33,230.56 L1006.39,230.05 L1006.45,229.55 L1006.5,229.04 L1006.56,228.53 L1006.62,228.01 L1006.68,227.49 L1006.74,226.96 L1006.8,226.43 L1006.86,225.9 L1006.92,225.36 L1006.98,224.81 L1007.04,224.26 L1007.1,223.7 L1007.15,223.24 L1007.2,222.78 L1007.25,222.31 L1007.3,221.84 L1007.35,221.37 L1007.4,220.89 L1007.46,220.41 L1007.51,219.93 L1007.56,219.44 L1007.61,218.95 L1007.66,218.46 L1007.72,217.96 L1007.77,217.47 L1007.82,216.97 L1007.87,216.46 L1007.93,215.96 L1007.98,215.45 L1008.03,214.94 L1008.08,214.43 L1008.14,213.92 L1008.19,213.41 L1008.24,212.89 L1008.29,212.37 L1008.34,211.86 L1008.4,211.34 L1008.45,210.82 L1008.5,210.3 L1008.55,209.78 L1008.6,209.25 L1008.65,208.73 L1008.7,208.21 L1008.75,207.69 L1008.8,207.16 L1008.85,206.64 L1008.9,206.12 L1008.95,205.59 L1009,205.07 L1009.05,204.55 L1009.09,204.03 L1009.14,203.51 L1009.19,202.99 L1009.23,202.48 L1009.28,201.96 L1009.32,201.44 L1009.37,200.93 L1009.41,200.42 L1009.46,199.91 L1009.5,199.4 L1009.54,198.89 L1009.58,198.38 L1009.63,197.87 L1009.67,197.35 L1009.71,196.84 L1009.75,196.32 L1009.78,195.8 L1009.82,195.28 L1009.86,194.76 L1009.9,194.24 L1009.94,193.72 L1009.97,193.19 L1010.01,192.67 L1010.04,192.14 L1010.08,191.62 L1010.11,191.09 L1010.15,190.57 L1010.18,190.04 L1010.22,189.52 L1010.25,188.99 L1010.29,188.47 L1010.32,187.94 L1010.35,187.42 L1010.39,186.9 L1010.42,186.38 L1010.45,185.86 L1010.49,185.34 L1010.52,184.82 L1010.55,184.31 L1010.59,183.8 L1010.62,183.28 L1010.65,182.77 L1010.68,182.27 L1010.72,181.76 L1010.75,181.26 L1010.78,180.76 L1010.82,180.26 L1010.85,179.77 L1010.89,179.27 L1010.92,178.78 L1010.95,178.3 L1010.99,177.82 L1011.02,177.34 L1011.06,176.86 L1011.09,176.39 L1011.13,175.92 L1011.16,175.46 L1011.2,175 L1011.24,174.44 L1011.29,173.89 L1011.33,173.34 L1011.38,172.8 L1011.42,172.26 L1011.47,171.73 L1011.51,171.21 L1011.56,170.69 L1011.6,170.17 L1011.64,169.66 L1011.69,169.15 L1011.73,168.65 L1011.78,168.14 L1011.82,167.65 L1011.87,167.15 L1011.91,166.66 L1011.96,166.17 L1012,165.68 L1012.05,165.2 L1012.09,164.71 L1012.14,164.23 L1012.18,163.75 L1012.23,163.27 L1012.27,162.79 L1012.32,162.31 L1012.37,161.83 L1012.41,161.35 L1012.46,160.87 L1012.51,160.39 L1012.56,159.91 L1012.6,159.43 L1012.65,158.95 L1012.7,158.46 L1012.75,157.97 L1012.8,157.49 L1012.85,156.99 L1012.9,156.5 L1012.95,156 L1013,155.5 L1013.05,155 L1013.1,154.5 L1013.16,154.01 L1013.21,153.52 L1013.26,153.03 L1013.32,152.55 L1013.37,152.06 L1013.43,151.58 L1013.49,151.1 L1013.54,150.63 L1013.6,150.15 L1013.66,149.67 L1013.71,149.2 L1013.77,148.72 L1013.83,148.24 L1013.89,147.76 L1013.95,147.29 L1014.01,146.81 L1014.06,146.32 L1014.12,145.84 L1014.18,145.35 L1014.24,144.86 L1014.3,144.37 L1014.36,143.87 L1014.42,143.37 L1014.47,142.87 L1014.53,142.36 L1014.59,141.85 L1014.65,141.33 L1014.7,140.81 L1014.76,140.28 L1014.82,139.74 L1014.87,139.2 L1014.93,138.65 L1014.98,138.1 L1015.04,137.54 L1015.09,136.97 L1015.15,136.39 L1015.2,135.8 L1015.24,135.35 L1015.28,134.9 L1015.32,134.45 L1015.36,133.99 L1015.4,133.52 L1015.44,133.06 L1015.48,132.58 L1015.51,132.11 L1015.55,131.63 L1015.59,131.14 L1015.63,130.65 L1015.67,130.16 L1015.71,129.67 L1015.75,129.17 L1015.79,128.67 L1015.83,128.17 L1015.86,127.66 L1015.9,127.15 L1015.94,126.64 L1015.98,126.13 L1016.02,125.61 L1016.06,125.1 L1016.09,124.58 L1016.13,124.06 L1016.17,123.54 L1016.21,123.01 L1016.24,122.49 L1016.28,121.96 L1016.32,121.44 L1016.35,120.91 L1016.39,120.38 L1016.43,119.85 L1016.46,119.32 L1016.5,118.79 L1016.53,118.26 L1016.57,117.74 L1016.6,117.21 L1016.64,116.68 L1016.67,116.15 L1016.71,115.62 L1016.74,115.1 L1016.78,114.57 L1016.81,114.05 L1016.84,113.52 L1016.88,113 L1016.91,112.48 L1016.94,111.96 L1016.97,111.45 L1017.01,110.93 L1017.04,110.42 L1017.07,109.91 L1017.1,109.4 L1017.13,108.89 L1017.16,108.38 L1017.19,107.87 L1017.22,107.36 L1017.25,106.84 L1017.28,106.32 L1017.3,105.8 L1017.33,105.28 L1017.36,104.76 L1017.39,104.24 L1017.41,103.72 L1017.44,103.19 L1017.46,102.67 L1017.49,102.14 L1017.52,101.61 L1017.54,101.09 L1017.57,100.56 L1017.59,100.03 L1017.61,99.51 L1017.64,98.98 L1017.66,98.46 L1017.69,97.93 L1017.71,97.41 L1017.73,96.88 L1017.76,96.36 L1017.78,95.84 L1017.8,95.32 L1017.83,94.8 L1017.85,94.28 L1017.87,93.76 L1017.9,93.25 L1017.92,92.74 L1017.94,92.23 L1017.97,91.72 L1017.99,91.21 L1018.01,90.71 L1018.04,90.21 L1018.06,89.71 L1018.08,89.22 L1018.11,88.72 L1018.13,88.23 L1018.15,87.75 L1018.18,87.27 L1018.2,86.79 L1018.22,86.31 L1018.25,85.84 L1018.27,85.37 L1018.3,84.91 L1018.32,84.45 L1018.35,84 L1018.37,83.55 L1018.4,83.1 L1018.43,82.51 L1018.47,81.93 L1018.5,81.36 L1018.54,80.79 L1018.58,80.23 L1018.61,79.67 L1018.65,79.12 L1018.68,78.57 L1018.72,78.03 L1018.75,77.5 L1018.79,76.97 L1018.83,76.44 L1018.86,75.92 L1018.9,75.4 L1018.94,74.89 L1018.97,74.38 L1019.01,73.87 L1019.05,73.37 L1019.08,72.87 L1019.12,72.38 L1019.15,71.89 L1019.19,71.4 L1019.23,70.91 L1019.26,70.42 L1019.3,69.94 L1019.34,69.46 L1019.37,68.98 L1019.41,68.5 L1019.45,68.03 L1019.48,67.55 L1019.52,67.08 L1019.55,66.6 L1019.59,66.13 L1019.62,65.66 L1019.66,65.19 L1019.7,64.72 L1019.73,64.24 L1019.77,63.77 L1019.8,63.3 L1019.84,62.76 L1019.88,62.21 L1019.91,61.67 L1019.95,61.12 L1019.98,60.57 L1020.01,60.03 L1020.04,59.48 L1020.07,58.93 L1020.1,58.39 L1020.13,57.85 L1020.16,57.31 L1020.19,56.77 L1020.21,56.23 L1020.24,55.7 L1020.27,55.17 L1020.3,54.64 L1020.33,54.12 L1020.36,53.6 L1020.39,53.09 L1020.43,52.58 L1020.46,52.08 L1020.5,51.58 L1020.53,51.09 L1020.57,50.6 L1020.62,50.13 L1020.66,49.66 L1020.7,49.19 L1020.75,48.74 L1020.8,48.29 L1020.86,47.86 L1020.91,47.43 L1020.97,47.01 L1021.03,46.6 L1021.1,46.2 L1021.22,45.52 L1021.35,44.84 L1021.49,44.16 L1021.63,43.48 L1021.78,42.8 L1021.94,42.14 L1022.11,41.49" fill="none" stroke="#D95319" stroke-width="6.85" stroke-linejoin="round" stroke-miterlimit="10" stroke-dasharray="6.9 5.8" clip-path="url(#clipb)" stroke-dashoffset="3.08"/>
<path d="M1022.11,41.49 L1022.28,40.86 L1022.45,40.25 L1022.62,39.67 L1022.8,39.13 L1022.98,38.63 L1023.17,38.17 L1023.35,37.75 L1023.53,37.39 L1023.71,37.08 L1023.89,36.83 L1024.06,36.65 L1024.23,36.54 L1024.4,36.5 L1024.57,36.54 L1024.74,36.65 L1024.91,36.83 L1025.08,37.08 L1025.26,37.39 L1025.43,37.75 L1025.61,38.17 L1025.79,38.63 L1025.96,39.13 L1026.14,39.68 L1026.31,40.25 L1026.48,40.86 L1026.65,41.49 L1026.81,42.13 L1026.97,42.8 L1027.13,43.48 L1027.28,44.16 L1027.43,44.84 L1027.57,45.52 L1027.7,46.2 L1027.78,46.6 L1027.85,47.01 L1027.92,47.43 L1027.99,47.86 L1028.05,48.29 L1028.12,48.74 L1028.18,49.19 L1028.24,49.66 L1028.3,50.13 L1028.36,50.6 L1028.41,51.09 L1028.47,51.58 L1028.52,52.08 L1028.58,52.58 L1028.63,53.09 L1028.68,53.6 L1028.73,54.12 L1028.78,54.64 L1028.83,55.17 L1028.88,55.7 L1028.93,56.23 L1028.98,56.77 L1029.03,57.31 L1029.08,57.85 L1029.13,58.39 L1029.18,58.93 L1029.23,59.48 L1029.28,60.03 L1029.33,60.57 L1029.38,61.12 L1029.43,61.67 L1029.49,62.21 L1029.54,62.76 L1029.6,63.3 L1029.65,63.77 L1029.7,64.24 L1029.75,64.72 L1029.8,65.19 L1029.85,65.66 L1029.9,66.13 L1029.95,66.6 L1030,67.08 L1030.05,67.55 L1030.11,68.03 L1030.16,68.5 L1030.21,68.98 L1030.26,69.46 L1030.31,69.94 L1030.36,70.42 L1030.41,70.91 L1030.46,71.4 L1030.52,71.89 L1030.57,72.38 L1030.62,72.87 L1030.67,73.37 L1030.72,73.87 L1030.77,74.38 L1030.83,74.89 L1030.88,75.4 L1030.93,75.92 L1030.98,76.44 L1031.03,76.97 L1031.08,77.5 L1031.14,78.03 L1031.19,78.57 L1031.24,79.12 L1031.29,79.67 L1031.34,80.23 L1031.39,80.79 L1031.45,81.36 L1031.5,81.93 L1031.55,82.51 L1031.6,83.1 L1031.64,83.55 L1031.68,84 L1031.72,84.45 L1031.75,84.91 L1031.79,85.37 L1031.83,85.84 L1031.87,86.31 L1031.91,86.79 L1031.95,87.27 L1031.98,87.75 L1032.02,88.23 L1032.06,88.72 L1032.1,89.22 L1032.14,89.71 L1032.18,90.21 L1032.22,90.71 L1032.25,91.21 L1032.29,91.72 L1032.33,92.23 L1032.37,92.74 L1032.41,93.25 L1032.45,93.76 L1032.48,94.28 L1032.52,94.8 L1032.56,95.32 L1032.6,95.84 L1032.64,96.36 L1032.68,96.88 L1032.72,97.41 L1032.75,97.93 L1032.79,98.46 L1032.83,98.98 L1032.87,99.51 L1032.91,100.03 L1032.95,100.56 L1032.98,101.09 L1033.02,101.61 L1033.06,102.14 L1033.1,102.67 L1033.14,103.19 L1033.18,103.72 L1033.22,104.24 L1033.25,104.76 L1033.29,105.28 L1033.33,105.8 L1033.37,106.32 L1033.41,106.84 L1033.45,107.36 L1033.48,107.87 L1033.52,108.38 L1033.56,108.89 L1033.6,109.4 L1033.64,109.91 L1033.68,110.42 L1033.71,110.93 L1033.75,111.44 L1033.79,111.95 L1033.83,112.46 L1033.87,112.98 L1033.9,113.49 L1033.94,114.01 L1033.98,114.53 L1034.02,115.04 L1034.05,115.56 L1034.09,116.08 L1034.13,116.6 L1034.17,117.12 L1034.2,117.64 L1034.24,118.16 L1034.28,118.68 L1034.31,119.2 L1034.35,119.71 L1034.39,120.23 L1034.43,120.75 L1034.46,121.27 L1034.5,121.79 L1034.54,122.31 L1034.57,122.83 L1034.61,123.34 L1034.65,123.86 L1034.69,124.37 L1034.73,124.89 L1034.76,125.4 L1034.8,125.91 L1034.84,126.42 L1034.88,126.93 L1034.92,127.44 L1034.96,127.95 L1034.99,128.45 L1035.03,128.96 L1035.07,129.46 L1035.11,129.96 L1035.15,130.46 L1035.19,130.95 L1035.23,131.45 L1035.27,131.94 L1035.31,132.43 L1035.35,132.92 L1035.39,133.41 L1035.43,133.89 L1035.47,134.37 L1035.52,134.85 L1035.56,135.33 L1035.6,135.8 L1035.65,136.34 L1035.7,136.88 L1035.75,137.42 L1035.8,137.95 L1035.85,138.47 L1035.9,138.99 L1035.95,139.51 L1035.99,140.03 L1036.04,140.54" fill="none" stroke="#D95319" stroke-width="6.85" stroke-linejoin="round" stroke-miterlimit="10" stroke-dasharray="6.9 5.8" clip-path="url(#clipb)" stroke-dashoffset="7.21"/>
<path d="M1036.04,140.54 L1036.09,141.05 L1036.15,141.56 L1036.2,142.06 L1036.25,142.56 L1036.3,143.06 L1036.35,143.56 L1036.4,144.05 L1036.45,144.54 L1036.5,145.04 L1036.55,145.53 L1036.61,146.02 L1036.66,146.51 L1036.71,146.99 L1036.76,147.48 L1036.82,147.97 L1036.87,148.46 L1036.92,148.94 L1036.98,149.43 L1037.03,149.92 L1037.09,150.41 L1037.14,150.9 L1037.2,151.39 L1037.25,151.88 L1037.31,152.38 L1037.36,152.87 L1037.42,153.37 L1037.48,153.87 L1037.53,154.37 L1037.59,154.88 L1037.65,155.39 L1037.7,155.9 L1037.76,156.41 L1037.82,156.93 L1037.88,157.45 L1037.94,157.97 L1038,158.5 L1038.05,158.98 L1038.11,159.46 L1038.16,159.95 L1038.22,160.45 L1038.27,160.94 L1038.33,161.44 L1038.38,161.95 L1038.44,162.46 L1038.5,162.97 L1038.55,163.48 L1038.61,164 L1038.67,164.52 L1038.72,165.04 L1038.78,165.56 L1038.84,166.08 L1038.9,166.61 L1038.96,167.13 L1039.02,167.66 L1039.07,168.19 L1039.13,168.72 L1039.19,169.25 L1039.25,169.77 L1039.31,170.3 L1039.37,170.83 L1039.43,171.36 L1039.49,171.88 L1039.55,172.41 L1039.61,172.93 L1039.67,173.45 L1039.74,173.97 L1039.8,174.48 L1039.86,174.99 L1039.92,175.5 L1039.98,176.01 L1040.04,176.52 L1040.11,177.02 L1040.17,177.51 L1040.23,178 L1040.3,178.49 L1040.36,178.98 L1040.42,179.45 L1040.49,179.93 L1040.55,180.39 L1040.61,180.86 L1040.68,181.31 L1040.74,181.76 L1040.81,182.21 L1040.87,182.65 L1040.94,183.08 L1041,183.5 L1041.1,184.11 L1041.19,184.71 L1041.29,185.3 L1041.39,185.88 L1041.48,186.45 L1041.58,187 L1041.68,187.55 L1041.78,188.09 L1041.88,188.62 L1041.98,189.15 L1042.08,189.66 L1042.18,190.17 L1042.28,190.67 L1042.38,191.17 L1042.48,191.66 L1042.58,192.14 L1042.69,192.62 L1042.79,193.1 L1042.89,193.57 L1043,194.04 L1043.1,194.51 L1043.21,194.97 L1043.31,195.43 L1043.42,195.89 L1043.52,196.35 L1043.63,196.81 L1043.74,197.26 L1043.85,197.72 L1043.95,198.18 L1044.06,198.64 L1044.17,199.1 L1044.28,199.57 L1044.39,200.03 L1044.5,200.5 L1044.62,201.02 L1044.75,201.53 L1044.87,202.04 L1045,202.55 L1045.12,203.06 L1045.25,203.57 L1045.38,204.08 L1045.51,204.58 L1045.64,205.09 L1045.77,205.59 L1045.91,206.09 L1046.04,206.59 L1046.17,207.08 L1046.31,207.57 L1046.44,208.06 L1046.57,208.55 L1046.71,209.03 L1046.84,209.52 L1046.97,210 L1047.1,210.47 L1047.24,210.95 L1047.37,211.42 L1047.5,211.88 L1047.63,212.35 L1047.76,212.81 L1047.88,213.27 L1048.01,213.72 L1048.13,214.17 L1048.26,214.62 L1048.38,215.06 L1048.5,215.5 L1048.65,216.04 L1048.79,216.57 L1048.93,217.09 L1049.07,217.6 L1049.21,218.1 L1049.35,218.6 L1049.48,219.09 L1049.62,219.58 L1049.75,220.06 L1049.88,220.54 L1050.02,221.01" fill="none" stroke="#D95319" stroke-width="6.85" stroke-linejoin="round" stroke-miterlimit="10" stroke-dasharray="6.9 5.8" clip-path="url(#clipb)" stroke-dashoffset="3.79"/>
<path d="M1050.02,221.01 L1050.15,221.48 L1050.28,221.95 L1050.41,222.42 L1050.54,222.88 L1050.67,223.35 L1050.8,223.81 L1050.94,224.28 L1051.07,224.75 L1051.2,225.21 L1051.34,225.68 L1051.48,226.16 L1051.62,226.63 L1051.76,227.11 L1051.9,227.6 L1052.04,228.09 L1052.19,228.58 L1052.33,229.07 L1052.47,229.57 L1052.61,230.06 L1052.75,230.56 L1052.89,231.06 L1053.03,231.56 L1053.17,232.06 L1053.31,232.56 L1053.45,233.06 L1053.6,233.56 L1053.74,234.06 L1053.89,234.55 L1054.04,235.05 L1054.19,235.54 L1054.34,236.04 L1054.5,236.53 L1054.66,237.02 L1054.82,237.51 L1054.99,237.99 L1055.16,238.47 L1055.34,238.95 L1055.52,239.43 L1055.7,239.9 L1055.9,240.39 L1056.1,240.87 L1056.3,241.35 L1056.51,241.83 L1056.73,242.3 L1056.95,242.77 L1057.17,243.24 L1057.4,243.7 L1057.62,244.17 L1057.86,244.63 L1058.09,245.09 L1058.33,245.55 L1058.56,246.01 L1058.8,246.47 L1059.04,246.93 L1059.28,247.39 L1059.52,247.84 L1059.76,248.3 L1060.01,248.77 L1060.25,249.23 L1060.49,249.69 L1060.73,250.16 L1060.96,250.63 L1061.2,251.1 L1061.43,251.56 L1061.65,252.01 L1061.87,252.48 L1062.09,252.94 L1062.31,253.4 L1062.53,253.87 L1062.75,254.34 L1062.97,254.81 L1063.2,255.28 L1063.42,255.75 L1063.64,256.22 L1063.86,256.69 L1064.09,257.16 L1064.31,257.63 L1064.54,258.09 L1064.77,258.56 L1065.01,259.02 L1065.24,259.48 L1065.48,259.94 L1065.73,260.39 L1065.97,260.84 L1066.22,261.29 L1066.48,261.73 L1066.74,262.17 L1067,262.6 L1067.27,263.03 L1067.55,263.45 L1067.83,263.86 L1068.12,264.27 L1068.41,264.67 L1068.71,265.07 L1069.01,265.47 L1069.31,265.86 L1069.62,266.25 L1069.93,266.64 L1070.24,267.03 L1070.56,267.41 L1070.87,267.8 L1071.18,268.18 L1071.5,268.57 L1071.81,268.96 L1072.12,269.35 L1072.43,269.74 L1072.74,270.14 L1073.04,270.53 L1073.34,270.94 L1073.64,271.34 L1073.93,271.76 L1074.22,272.18 L1074.5,272.6 L1074.77,273.01 L1075.03,273.43 L1075.28,273.86 L1075.54,274.29 L1075.79,274.72 L1076.04,275.15 L1076.29,275.59 L1076.53,276.03 L1076.77,276.48 L1077.01,276.92 L1077.25,277.37 L1077.49,277.82 L1077.73,278.27 L1077.97,278.72 L1078.21,279.17 L1078.44,279.62 L1078.68,280.07 L1078.92,280.51 L1079.16,280.96 L1079.4,281.4 L1079.65,281.84 L1079.89,282.28 L1080.14,282.72 L1080.39,283.15 L1080.64,283.58 L1080.9,284 L1081.17,284.44 L1081.44,284.87 L1081.72,285.3 L1082,285.73 L1082.29,286.15 L1082.57,286.58 L1082.86,287 L1083.15,287.42 L1083.44,287.83 L1083.73,288.25 L1084.03,288.67 L1084.32,289.08 L1084.61,289.49 L1084.9,289.91 L1085.19,290.32 L1085.47,290.74 L1085.76,291.15 L1086.04,291.56 L1086.32,291.98 L1086.59,292.4 L1086.86,292.81 L1087.13,293.23 L1087.39,293.65 L1087.65,294.08 L1087.9,294.5 L1088.16,294.94 L1088.4,295.39 L1088.65,295.83 L1088.89,296.27 L1089.12,296.72 L1089.35,297.16 L1089.57,297.61 L1089.8,298.05 L1090.02,298.5 L1090.23,298.94 L1090.45,299.39 L1090.66,299.84 L1090.88,300.29 L1091.09,300.74 L1091.3,301.19 L1091.51,301.64 L1091.73,302.09 L1091.95,302.54 L1092.16,303 L1092.38,303.46 L1092.61,303.91 L1092.83,304.37 L1093.06,304.84 L1093.3,305.3 L1093.53,305.75 L1093.76,306.2 L1093.99,306.65 L1094.23,307.11 L1094.46,307.56 L1094.7,308.02 L1094.93,308.48 L1095.17,308.95 L1095.41,309.41 L1095.65,309.87 L1095.89,310.34 L1096.14,310.8 L1096.38,311.27 L1096.62,311.74 L1096.86,312.2 L1097.11,312.67 L1097.35,313.13 L1097.6,313.6 L1097.84,314.06 L1098.08,314.52 L1098.33,314.98 L1098.57,315.44 L1098.81,315.89 L1099.06,316.35 L1099.3,316.8 L1099.54,317.25 L1099.78,317.7 L1100.03,318.14 L1100.27,318.58 L1100.51,319.03 L1100.75,319.47 L1100.99,319.91 L1101.23,320.35 L1101.48,320.78 L1101.72,321.22 L1101.96,321.66 L1102.2,322.09 L1102.45,322.53 L1102.69,322.97 L1102.93,323.4 L1103.18,323.84 L1103.42,324.28 L1103.67,324.71 L1103.91,325.15 L1104.16,325.59 L1104.41,326.03 L1104.65,326.47 L1104.9,326.91 L1105.15,327.35 L1105.4,327.8 L1105.65,328.25 L1105.9,328.7 L1106.15,329.15 L1106.4,329.6 L1106.65,330.05 L1106.9,330.5 L1107.15,330.96 L1107.4,331.41 L1107.65,331.87 L1107.9,332.33 L1108.16,332.78 L1108.41,333.24 L1108.66,333.7 L1108.92,334.15 L1109.18,334.61 L1109.43,335.06 L1109.69,335.52 L1109.95,335.97 L1110.21,336.42" fill="none" stroke="#D95319" stroke-width="6.85" stroke-linejoin="round" stroke-miterlimit="10" stroke-dasharray="6.9 5.8" clip-path="url(#clipb)" stroke-dashoffset="9.33"/>
<path d="M1110.21,336.42 L1110.47,336.87 L1110.73,337.32 L1111,337.77 L1111.26,338.22 L1111.53,338.66 L1111.8,339.1 L1112.07,339.54 L1112.34,339.98 L1112.61,340.42 L1112.88,340.86 L1113.15,341.3 L1113.42,341.74 L1113.69,342.18 L1113.97,342.62 L1114.24,343.06 L1114.52,343.5 L1114.79,343.94 L1115.07,344.37 L1115.35,344.8 L1115.63,345.23 L1115.92,345.66 L1116.2,346.09 L1116.49,346.52 L1116.78,346.94 L1117.08,347.36 L1117.37,347.77 L1117.67,348.18 L1117.97,348.59 L1118.28,349 L1118.59,349.4 L1118.9,349.8 L1119.22,350.19 L1119.53,350.59 L1119.86,350.97 L1120.18,351.36 L1120.51,351.74 L1120.84,352.12 L1121.17,352.49 L1121.51,352.87 L1121.84,353.24 L1122.18,353.6 L1122.53,353.97 L1122.87,354.33 L1123.22,354.69 L1123.57,355.05 L1123.92,355.41 L1124.27,355.76 L1124.62,356.12 L1124.98,356.47 L1125.33,356.82 L1125.69,357.17 L1126.05,357.52 L1126.41,357.86 L1126.77,358.21 L1127.14,358.56 L1127.5,358.9 L1127.86,359.24 L1128.23,359.59 L1128.6,359.93 L1128.97,360.27 L1129.34,360.62 L1129.71,360.96 L1130.09,361.3 L1130.46,361.64 L1130.84,361.97 L1131.22,362.31 L1131.6,362.64 L1131.98,362.97 L1132.37,363.3 L1132.75,363.63 L1133.14,363.95 L1133.53,364.27 L1133.92,364.59 L1134.31,364.91 L1134.7,365.22 L1135.1,365.52 L1135.5,365.83 L1135.9,366.13 L1136.3,366.42 L1136.7,366.71 L1137.1,367 L1137.52,367.29 L1137.94,367.58 L1138.37,367.87 L1138.79,368.15 L1139.22,368.43 L1139.64,368.7 L1140.07,368.97 L1140.5,369.24 L1140.93,369.5 L1141.36,369.76 L1141.8,370.02 L1142.24,370.27 L1142.68,370.53 L1143.12,370.77 L1143.56,371.02 L1144.01,371.26 L1144.46,371.5 L1144.91,371.73 L1145.37,371.97 L1145.83,372.2 L1146.29,372.43 L1146.76,372.65 L1147.23,372.88 L1147.7,373.1 L1148.14,373.3 L1148.59,373.5 L1149.04,373.7 L1149.5,373.89 L1149.96,374.09 L1150.43,374.28 L1150.9,374.46 L1151.37,374.65 L1151.85,374.83 L1152.33,375.01 L1152.81,375.19 L1153.29,375.36 L1153.77,375.54 L1154.25,375.71 L1154.73,375.88 L1155.21,376.04 L1155.7,376.21 L1156.17,376.37 L1156.65,376.53 L1157.13,376.69 L1157.6,376.85 L1158.07,377 L1158.53,377.15 L1158.99,377.3 L1159.45,377.45 L1159.9,377.6 L1160.4,377.76 L1160.9,377.93 L1161.39,378.09 L1161.88,378.25 L1162.37,378.41 L1162.85,378.56 L1163.32,378.71 L1163.8,378.86 L1164.27,379.01 L1164.74,379.16 L1165.21,379.3 L1165.69,379.44 L1166.16,379.57 L1166.63,379.7 L1167.1,379.83 L1167.58,379.96 L1168.05,380.08 L1168.53,380.19 L1169.02,380.3 L1169.51,380.41 L1170,380.51 L1170.5,380.61 L1171,380.7 L1171.49,380.78 L1171.97,380.86 L1172.47,380.94 L1172.96,381.01 L1173.45,381.08 L1173.95,381.14 L1174.45,381.2 L1174.95,381.26 L1175.45,381.31 L1175.95,381.36 L1176.46,381.41 L1176.97,381.45 L1177.48,381.49 L1177.99,381.52 L1178.5,381.56 L1179.02,381.59 L1179.54,381.61 L1180.05,381.63 L1180.57,381.65 L1181.1,381.67 L1181.62,381.68 L1182.14,381.69 L1182.67,381.7 L1183.2,381.7 L1183.69,381.7 L1184.19,381.69 L1184.69,381.68 L1185.19,381.67 L1185.7,381.65 L1186.21,381.63 L1186.73,381.61 L1187.25,381.58 L1187.77,381.55 L1188.29,381.51 L1188.81,381.48 L1189.33,381.44 L1189.85,381.4 L1190.37,381.36 L1190.89,381.31 L1191.41,381.27 L1191.92,381.22 L1192.44,381.18 L1192.95,381.13 L1193.46,381.08 L1193.96,381.03 L1194.46,380.99 L1194.95,380.94 L1195.44,380.89 L1195.92,380.84 L1196.4,380.8 L1196.95,380.75 L1197.5,380.69 L1198.04,380.64 L1198.56,380.58 L1199.09,380.52 L1199.6,380.47 L1200.12,380.41" fill="none" stroke="#D95319" stroke-width="6.85" stroke-linejoin="round" stroke-miterlimit="10" stroke-dasharray="6.9 5.8" clip-path="url(#clipb)" stroke-dashoffset="0.95"/>
<path d="M1200.12,380.41 L1200.62,380.34 L1201.13,380.28 L1201.63,380.22 L1202.13,380.16 L1202.63,380.09 L1203.13,380.03 L1203.63,379.96 L1204.14,379.89 L1204.65,379.82 L1205.16,379.76 L1205.67,379.69 L1206.19,379.62 L1206.72,379.54 L1207.26,379.47 L1207.8,379.4 L1208.28,379.34 L1208.77,379.27 L1209.27,379.21 L1209.76,379.14 L1210.26,379.08 L1210.77,379.01 L1211.28,378.94 L1211.79,378.87 L1212.3,378.81 L1212.81,378.74 L1213.33,378.67 L1213.84,378.6 L1214.36,378.53 L1214.88,378.46 L1215.39,378.38 L1215.91,378.31 L1216.43,378.23 L1216.94,378.16 L1217.46,378.08 L1217.97,378 L1218.48,377.93 L1218.99,377.85 L1219.5,377.77 L1220,377.68 L1220.5,377.6 L1221.02,377.51 L1221.53,377.43 L1222.05,377.34 L1222.56,377.25 L1223.08,377.16 L1223.59,377.07 L1224.1,376.98 L1224.61,376.89 L1225.12,376.8 L1225.62,376.71 L1226.13,376.61 L1226.64,376.52 L1227.14,376.42 L1227.65,376.32 L1228.15,376.22 L1228.66,376.12 L1229.16,376.01 L1229.67,375.91 L1230.17,375.8 L1230.68,375.68 L1231.18,375.57 L1231.69,375.45 L1232.19,375.33 L1232.7,375.2 L1233.19,375.08 L1233.67,374.95 L1234.16,374.82 L1234.64,374.69 L1235.12,374.55 L1235.61,374.41 L1236.09,374.27 L1236.58,374.13 L1237.06,373.98 L1237.54,373.84 L1238.03,373.69 L1238.51,373.54 L1238.99,373.39 L1239.47,373.23 L1239.96,373.08 L1240.44,372.92 L1240.92,372.77 L1241.41,372.61 L1241.89,372.45 L1242.38,372.29 L1242.86,372.13 L1243.34,371.98 L1243.83,371.82 L1244.31,371.66 L1244.8,371.5 L1245.29,371.34 L1245.78,371.19 L1246.27,371.04 L1246.77,370.88 L1247.26,370.73 L1247.76,370.58 L1248.26,370.43 L1248.76,370.28 L1249.26,370.13 L1249.76,369.98 L1250.26,369.82 L1250.76,369.67 L1251.26,369.51 L1251.76,369.35 L1252.25,369.18 L1252.74,369.02 L1253.23,368.85 L1253.72,368.67 L1254.2,368.49 L1254.68,368.31 L1255.15,368.12 L1255.62,367.92 L1256.09,367.72 L1256.55,367.51 L1257,367.3 L1257.47,367.07 L1257.93,366.83 L1258.38,366.59 L1258.83,366.33 L1259.28,366.08 L1259.72,365.81 L1260.16,365.55 L1260.59,365.27 L1261.02,365 L1261.45,364.72 L1261.88,364.43 L1262.3,364.14 L1262.72,363.85 L1263.14,363.56 L1263.56,363.27 L1263.97,362.97 L1264.39,362.67 L1264.8,362.38 L1265.22,362.08 L1265.63,361.78 L1266.05,361.48 L1266.47,361.19 L1266.88,360.89 L1267.3,360.6 L1267.72,360.31 L1268.14,360.02 L1268.56,359.74 L1268.98,359.45 L1269.41,359.17 L1269.83,358.89 L1270.25,358.61 L1270.67,358.32 L1271.1,358.04 L1271.51,357.75 L1271.93,357.47 L1272.35,357.18 L1272.76,356.88 L1273.18,356.58 L1273.59,356.28 L1273.99,355.98 L1274.4,355.67 L1274.8,355.35 L1275.19,355.03 L1275.58,354.7 L1275.97,354.36 L1276.35,354.02 L1276.73,353.66 L1277.1,353.3 L1277.45,352.94 L1277.8,352.58 L1278.15,352.21 L1278.49,351.83 L1278.83,351.44 L1279.17,351.05 L1279.5,350.65 L1279.83,350.25 L1280.16,349.84 L1280.49,349.43 L1280.81,349.01 L1281.13,348.59 L1281.45,348.17 L1281.76,347.74 L1282.07,347.31 L1282.37,346.88 L1282.68,346.45 L1282.98,346.02 L1283.28,345.59 L1283.57,345.15 L1283.86,344.72 L1284.15,344.29 L1284.44,343.86 L1284.72,343.43 L1285,343 L1285.28,342.57 L1285.55,342.15 L1285.81,341.72 L1286.07,341.28 L1286.33,340.85 L1286.58,340.42 L1286.83,339.98 L1287.08,339.55 L1287.32,339.11 L1287.56,338.67 L1287.8,338.24 L1288.03,337.8 L1288.27,337.35 L1288.5,336.91 L1288.73,336.47 L1288.96,336.03 L1289.18,335.58 L1289.41,335.14 L1289.64,334.69 L1289.86,334.24 L1290.09,333.8 L1290.32,333.35 L1290.54,332.9 L1290.77,332.45 L1291,332 L1291.23,331.55 L1291.46,331.1 L1291.68,330.64 L1291.9,330.18 L1292.12,329.73 L1292.34,329.27 L1292.56,328.81 L1292.78,328.35 L1292.99,327.88 L1293.21,327.42 L1293.42,326.96 L1293.64,326.49 L1293.85,326.03 L1294.07,325.57 L1294.28,325.1 L1294.5,324.64 L1294.71,324.18 L1294.93,323.71 L1295.15,323.25 L1295.37,322.79 L1295.59,322.33 L1295.82,321.87 L1296.04,321.41 L1296.27,320.95 L1296.5,320.5 L1296.73,320.04 L1296.97,319.58 L1297.22,319.11 L1297.47,318.63 L1297.72,318.15 L1297.97,317.67 L1298.23,317.19 L1298.48,316.71 L1298.74,316.22 L1299,315.74 L1299.26,315.26 L1299.52,314.78 L1299.78,314.31 L1300.04,313.84" fill="none" stroke="#D95319" stroke-width="6.85" stroke-linejoin="round" stroke-miterlimit="10" stroke-dasharray="6.9 5.8" clip-path="url(#clipb)" stroke-dashoffset="8.72"/>
<path d="M1300.04,313.84 L1300.29,313.38 L1300.54,312.92 L1300.79,312.47 L1301.03,312.04 L1301.28,311.61 L1301.51,311.19 L1301.74,310.78 L1301.97,310.39 L1302.18,310.01 L1302.4,309.65 L1302.6,309.3 L1302.97,308.67 L1303.31,308.07 L1303.63,307.52 L1303.94,307 L1304.22,306.51 L1304.5,306.05 L1304.77,305.62 L1305.04,305.22 L1305.31,304.83 L1305.59,304.48 L1305.88,304.13 L1306.18,303.81 L1306.5,303.5 L1306.94,303.12 L1307.4,302.77 L1307.88,302.45 L1308.37,302.17 L1308.86,301.92 L1309.35,301.72 L1309.83,301.57 L1310.3,301.46 L1310.76,301.4 L1311.2,301.4 L1311.66,301.46 L1312.1,301.59 L1312.51,301.77 L1312.92,302.02 L1313.33,302.32 L1313.73,302.67 L1314.14,303.07 L1314.56,303.51 L1315,304" fill="none" stroke="#D95319" stroke-width="6.85" stroke-linejoin="round" stroke-miterlimit="10" stroke-dasharray="6.9 5.8" clip-path="url(#clipb)" stroke-dashoffset="11.14"/>
<path d="M1315,304 L1315.27,304.31 L1315.53,304.64 L1315.78,304.98 L1316.04,305.33 L1316.29,305.7 L1316.55,306.09 L1316.81,306.5 L1317.08,306.93 L1317.35,307.37 L1317.64,307.84 L1317.94,308.33 L1318.25,308.84 L1318.58,309.37 L1318.93,309.92 L1319.3,310.5 L1319.52,310.85 L1319.75,311.21 L1319.99,311.59 L1320.23,311.99 L1320.47,312.39 L1320.73,312.81 L1320.98,313.23 L1321.25,313.67 L1321.51,314.11 L1321.78,314.56 L1322.06,315.02 L1322.33,315.48 L1322.61,315.94 L1322.9,316.4 L1323.18,316.87 L1323.47,317.33 L1323.76,317.79 L1324.05,318.25 L1324.34,318.71 L1324.64,319.16 L1324.93,319.61 L1325.22,320.05 L1325.52,320.47 L1325.81,320.89 L1326.11,321.3 L1326.4,321.7 L1326.72,322.12 L1327.04,322.53 L1327.36,322.94 L1327.68,323.34 L1328.01,323.73 L1328.33,324.12 L1328.66,324.51 L1328.99,324.89 L1329.32,325.27 L1329.65,325.64 L1329.99,326.01 L1330.33,326.38 L1330.66,326.75 L1331,327.11 L1331.35,327.48 L1331.69,327.84 L1332.03,328.21 L1332.38,328.57 L1332.73,328.94 L1333.08,329.31 L1333.43,329.68 L1333.79,330.05 L1334.14,330.42 L1334.5,330.8 L1334.84,331.17 L1335.19,331.54 L1335.53,331.91 L1335.88,332.29 L1336.22,332.67 L1336.57,333.05 L1336.92,333.43 L1337.26,333.82 L1337.62,334.2 L1337.97,334.58 L1338.32,334.97 L1338.68,335.35 L1339.04,335.73 L1339.4,336.1 L1339.76,336.48 L1340.13,336.85 L1340.5,337.21 L1340.87,337.57 L1341.25,337.92 L1341.63,338.27 L1342.01,338.61 L1342.4,338.95 L1342.8,339.27 L1343.2,339.59 L1343.6,339.9 L1344.01,340.2 L1344.42,340.5 L1344.84,340.79 L1345.26,341.07 L1345.69,341.35 L1346.12,341.63 L1346.56,341.9 L1347,342.16 L1347.44,342.43 L1347.89,342.68 L1348.33,342.93 L1348.79,343.18 L1349.24,343.42 L1349.7,343.66 L1350.15,343.89 L1350.61,344.12 L1351.08,344.34 L1351.54,344.57 L1352,344.78 L1352.47,344.99 L1352.93,345.2 L1353.4,345.41 L1353.87,345.61 L1354.33,345.81 L1354.8,346 L1355.27,346.19 L1355.74,346.37 L1356.21,346.55 L1356.68,346.72 L1357.15,346.89 L1357.63,347.05 L1358.11,347.21 L1358.58,347.36 L1359.06,347.51 L1359.55,347.65 L1360.03,347.8 L1360.51,347.93 L1361,348.07 L1361.49,348.2 L1361.97,348.33 L1362.46,348.45 L1362.95,348.57 L1363.44,348.69 L1363.93,348.81 L1364.43,348.93 L1364.92,349.05 L1365.41,349.16 L1365.91,349.28 L1366.4,349.39 L1366.9,349.5 L1367.4,349.61 L1367.9,349.72 L1368.4,349.82 L1368.91,349.92 L1369.42,350.02 L1369.93,350.12 L1370.45,350.22 L1370.96,350.31 L1371.48,350.4 L1372,350.48 L1372.52,350.57 L1373.03,350.65 L1373.55,350.73 L1374.07,350.81 L1374.58,350.89 L1375.1,350.97 L1375.61,351.04 L1376.12,351.12 L1376.63,351.19 L1377.13,351.26 L1377.63,351.33 L1378.13,351.4 L1378.63,351.47 L1379.12,351.53 L1379.6,351.6 L1380.16,351.67 L1380.73,351.75 L1381.31,351.82 L1381.91,351.89 L1382.51,351.96 L1383.11,352.02 L1383.72,352.09 L1384.32,352.15 L1384.92,352.21 L1385.51,352.27 L1386.09,352.33 L1386.66,352.39 L1387.21,352.44 L1387.75,352.49 L1388.26,352.54 L1388.75,352.58 L1389.21,352.63 L1389.64,352.67 L1390.04,352.7 L1390.4,352.74 L1390.72,352.77 L1391,352.8" fill="none" stroke="#D95319" stroke-width="6.85" stroke-linejoin="round" stroke-miterlimit="10" stroke-dasharray="6.9 5.8" clip-path="url(#clipb)" stroke-dashoffset="8.08"/>
<line x1="949.3" y1="37" x2="949.3" y2="383.7" stroke="#0072BD" stroke-width="1.3"/>
<line x1="949.3" y1="62.9" x2="962.6" y2="62.9" stroke="#0072BD" stroke-width="1"/>
<line x1="949.3" y1="170" x2="962.6" y2="170" stroke="#0072BD" stroke-width="1"/>
<line x1="949.3" y1="277.1" x2="962.6" y2="277.1" stroke="#0072BD" stroke-width="1"/>
<line x1="949.3" y1="383.7" x2="949.3" y2="370.4" stroke="#7a7a7a" stroke-width="1"/>
<line x1="949.3" y1="37" x2="949.3" y2="50.3" stroke="#7a7a7a" stroke-width="1"/>
<line x1="1059.2" y1="383.7" x2="1059.2" y2="370.4" stroke="#7a7a7a" stroke-width="1"/>
<line x1="1059.2" y1="37" x2="1059.2" y2="50.3" stroke="#7a7a7a" stroke-width="1"/>
<line x1="1169.1" y1="383.7" x2="1169.1" y2="370.4" stroke="#7a7a7a" stroke-width="1"/>
<line x1="1169.1" y1="37" x2="1169.1" y2="50.3" stroke="#7a7a7a" stroke-width="1"/>
<line x1="1279" y1="383.7" x2="1279" y2="370.4" stroke="#7a7a7a" stroke-width="1"/>
<line x1="1279" y1="37" x2="1279" y2="50.3" stroke="#7a7a7a" stroke-width="1"/>
<line x1="1388.9" y1="37" x2="1388.9" y2="383.7" stroke="#D95319" stroke-width="1.3"/>
<line x1="1388.9" y1="109.6" x2="1375.6" y2="109.6" stroke="#D95319" stroke-width="1"/>
<line x1="1388.9" y1="247.2" x2="1375.6" y2="247.2" stroke="#D95319" stroke-width="1"/>
<line x1="948.7" y1="37" x2="1389.5" y2="37" stroke="#000" stroke-width="1.6"/>
<line x1="948.7" y1="383.7" x2="1389.5" y2="383.7" stroke="#000" stroke-width="1.6"/>
<text x="750.64" y="23" font-size="32" fill="#000" textLength="20.24" lengthAdjust="spacingAndGlyphs" font-weight="bold">b</text>
<text x="881.26" y="73.3" font-size="33" fill="#0072BD" textLength="56.91" lengthAdjust="spacingAndGlyphs" stroke="#0072BD" stroke-width="0.32">0.15</text>
<text x="896.85" y="180.3" font-size="33" fill="#0072BD" textLength="40.91" lengthAdjust="spacingAndGlyphs" stroke="#0072BD" stroke-width="0.32">0.1</text>
<text x="832.9" y="290.4" font-size="33" fill="#0072BD" textLength="16.38" lengthAdjust="spacingAndGlyphs" stroke="#0072BD" stroke-width="0.32">5</text>
<circle cx="860.8" cy="282.4" r="2" fill="#0072BD"/>
<text x="871.9" y="290.4" font-size="33" fill="#0072BD" textLength="32.95" lengthAdjust="spacingAndGlyphs" stroke="#0072BD" stroke-width="0.32">10</text>
<rect x="906" y="272.55" width="15.6" height="1.3" fill="#0072BD"/>
<text x="923.66" y="279" font-size="23" fill="#0072BD" textLength="12.97" lengthAdjust="spacingAndGlyphs" stroke="#0072BD" stroke-width="0.32">2</text>
<text x="1399.1" y="119.9" font-size="33" fill="#D95319" textLength="42.68" lengthAdjust="spacingAndGlyphs" stroke="#D95319" stroke-width="0.32">0.2</text>
<text x="1399.14" y="257.5" font-size="33" fill="#D95319" textLength="41.35" lengthAdjust="spacingAndGlyphs" stroke="#D95319" stroke-width="0.32">0.1</text>
<text x="912.2" y="416.4" font-size="33" fill="#000" textLength="74" lengthAdjust="spacingAndGlyphs" stroke="#000" stroke-width="0.32">2,000</text>
<text x="1022.1" y="416.4" font-size="33" fill="#000" textLength="74" lengthAdjust="spacingAndGlyphs" stroke="#000" stroke-width="0.32">2,100</text>
<text x="1132" y="416.4" font-size="33" fill="#000" textLength="74" lengthAdjust="spacingAndGlyphs" stroke="#000" stroke-width="0.32">2,200</text>
<text x="1241.9" y="416.4" font-size="33" fill="#000" textLength="74" lengthAdjust="spacingAndGlyphs" stroke="#000" stroke-width="0.32">2,300</text>
<text x="1351.8" y="416.4" font-size="33" fill="#000" textLength="74" lengthAdjust="spacingAndGlyphs" stroke="#000" stroke-width="0.32">2,400</text>
<g transform="translate(1127.7,467.5)">
<path d="M13.7,-21.9 C11.2,-22.9 9.7,-20.6 9.2,-17.5 L7.6,-6.8 C6.9,-2.2 5.6,5.6 3.0,5.7" fill="none" stroke="#262626" stroke-width="2.1" stroke-linecap="round"/>
<path d="M13.7,-21.9 C14.6,-21.5 14.9,-20.6 14.6,-19.9" fill="none" stroke="#262626" stroke-width="1.3"/>
<circle cx="14.5" cy="-19.9" r="1.5" fill="#262626"/>
<circle cx="1.8" cy="3.7" r="1.6" fill="#262626"/>
<path d="M3.0,5.7 C1.9,5.8 0.9,5.1 0.6,4.2" fill="none" stroke="#262626" stroke-width="1.3"/>
<rect x="5.0" y="-14.1" width="8.7" height="1.35" fill="#262626"/>
</g>
<rect x="1159.6" y="443.2" width="1.4" height="32.5" fill="#262626"/>
<rect x="1159.6" y="443.2" width="4.6" height="1.3" fill="#262626"/>
<rect x="1159.6" y="474.4" width="4.6" height="1.3" fill="#262626"/>
<text x="1164.57" y="467.5" font-size="33.6" fill="#262626" textLength="37.63" lengthAdjust="spacingAndGlyphs" stroke="#262626" stroke-width="0.32">Hz</text>
<rect x="1206" y="443.2" width="1.4" height="32.5" fill="#262626"/>
<rect x="1202.8" y="443.2" width="4.6" height="1.3" fill="#262626"/>
<rect x="1202.8" y="474.4" width="4.6" height="1.3" fill="#262626"/>
<g transform="translate(801.3,297) rotate(-90)">
<path d="M0.6,-9.8 C0.9,-12.3 2.4,-14.1 3.9,-14.1 C5.4,-14.1 5.9,-12.6 5.4,-10.6" fill="none" stroke="#0072BD" stroke-width="1.35" stroke-linecap="round"/>
<path d="M5.4,-10.6 L4.1,-5.6 C3.6,-3.4 3.6,-0.9 5.6,-0.5" fill="none" stroke="#0072BD" stroke-width="2.3" stroke-linecap="round"/>
<path d="M5.6,-0.5 C9.5,-0.2 13.4,-5.2 13.3,-10.6 C13.3,-12.2 12.9,-13.2 12.2,-13.4" fill="none" stroke="#0072BD" stroke-width="1.35" stroke-linecap="round"/>
<circle cx="12.3" cy="-12.8" r="1.45" fill="#0072BD"/>
<path d="M3.5,-18.7 C4.5,-21.1 6.44,-21.4 8.6,-19.75 C10.76,-18.1 12.7,-18.4 13.7,-20.8" fill="none" stroke="#0072BD" stroke-width="1.5" stroke-linecap="round"/>
<rect x="30.3" y="-23.9" width="1.35" height="31.9" fill="#0072BD"/>
<rect x="30.3" y="-23.9" width="4.4" height="1.3" fill="#0072BD"/>
<rect x="30.3" y="6.7" width="4.4" height="1.3" fill="#0072BD"/>
<text x="39.65" y="-12.7" font-size="21.5" fill="#0072BD" textLength="40.86" lengthAdjust="spacingAndGlyphs" stroke="#0072BD" stroke-width="0.32">mm</text>
<rect x="39.2" y="-8.7" width="41.5" height="1.2" fill="#0072BD"/>
<text x="54.28" y="11" font-size="21.5" fill="#0072BD" textLength="10.6" lengthAdjust="spacingAndGlyphs" stroke="#0072BD" stroke-width="0.32">s</text>
<path d="M86.9,7.4 L98.5,-23.9" stroke="#0072BD" stroke-width="1.35" fill="none"/>
<path d="M103.3,-10.4 L106.2,-11.9" stroke="#0072BD" stroke-width="1.3" fill="none" stroke-linecap="round"/>
<path d="M106.2,-11.9 L112.5,2.5" stroke="#0072BD" stroke-width="2.6" fill="none"/>
<path d="M112.5,3 L127.4,-28.1 L165,-28.1" stroke="#0072BD" stroke-width="1.3" fill="none" stroke-linejoin="miter"/>
<text x="126.98" y="0" font-size="33.6" fill="#0072BD" textLength="37.42" lengthAdjust="spacingAndGlyphs" stroke="#0072BD" stroke-width="0.32">Hz</text>
<rect x="168.95" y="-23.9" width="1.35" height="31.9" fill="#0072BD"/>
<rect x="165.9" y="-23.9" width="4.4" height="1.3" fill="#0072BD"/>
<rect x="165.9" y="6.7" width="4.4" height="1.3" fill="#0072BD"/>
</g>
<g transform="translate(1493.1,301) rotate(-90)">
<text x="-2.31" y="0" font-size="33" fill="#D95319" textLength="22.89" lengthAdjust="spacingAndGlyphs" font-style="italic" stroke="#D95319" stroke-width="0.32">U</text>
<path d="M6.8,-27.3 C7.76,-29.9 9.65,-30.2 11.75,-28.45 C13.85,-26.7 15.74,-27 16.7,-29.6" fill="none" stroke="#D95319" stroke-width="1.5" stroke-linecap="round"/>
<rect x="37.9" y="-24.5" width="1.35" height="31.8" fill="#D95319"/>
<rect x="37.9" y="-24.5" width="4.4" height="1.3" fill="#D95319"/>
<rect x="37.9" y="6" width="4.4" height="1.3" fill="#D95319"/>
<text x="43.29" y="0" font-size="33.6" fill="#D95319" textLength="26.24" lengthAdjust="spacingAndGlyphs" stroke="#D95319" stroke-width="0.32">m</text>
<text x="69.94" y="0" font-size="33.6" fill="#D95319" textLength="23.12" lengthAdjust="spacingAndGlyphs" stroke="#D95319" stroke-width="0.32">V</text>
<path d="M96,7 L107.8,-24.5" stroke="#D95319" stroke-width="1.35" fill="none"/>
<path d="M112.6,-11.2 L115.3,-13" stroke="#D95319" stroke-width="1.3" fill="none" stroke-linecap="round"/>
<path d="M115.3,-13 L121.3,2" stroke="#D95319" stroke-width="2.6" fill="none"/>
<path d="M121.3,2.5 L135.8,-28.2 L174.4,-28.2" stroke="#D95319" stroke-width="1.3" fill="none" stroke-linejoin="miter"/>
<text x="135.87" y="0" font-size="33.6" fill="#D95319" textLength="37.84" lengthAdjust="spacingAndGlyphs" stroke="#D95319" stroke-width="0.32">Hz</text>
<rect x="177.65" y="-24.9" width="1.35" height="32.1" fill="#D95319"/>
<rect x="174.6" y="-24.9" width="4.4" height="1.3" fill="#D95319"/>
<rect x="174.6" y="5.9" width="4.4" height="1.3" fill="#D95319"/>
</g>
<path d="M147.3,575.71 L147.8,577.45 L148.3,579.27 L148.8,581.17 L149.3,583.14 L149.8,585.2 L150.3,587.33 L150.8,589.53 L151.3,591.81 L151.8,594.16 L152.3,596.59 L152.8,599.08 L153.3,601.64 L153.8,604.26 L154.3,606.96 L154.8,609.71 L155.3,612.53 L155.8,615.41 L156.3,618.35 L156.8,621.35 L157.3,624.41 L157.8,627.52 L158.3,630.68 L158.8,633.9 L159.3,637.16 L159.8,640.48 L160.3,643.84 L160.8,647.24 L161.3,650.69 L161.8,654.18 L162.3,657.71 L162.8,661.27 L163.3,664.87 L163.8,668.51 L164.3,672.18 L164.8,675.87 L165.3,679.6 L165.8,683.34 L166.3,687.12 L166.8,690.91 L167.3,694.73 L167.8,698.56 L168.3,702.41 L168.8,706.27 L169.3,710.14 L169.8,714.03 L170.3,717.92 L170.8,721.81 L171.3,725.71 L171.8,729.62 L172.3,733.52 L172.8,737.41 L173.3,741.31 L173.8,745.19 L174.3,749.07 L174.8,752.93 L175.3,756.79 L175.8,760.62 L176.3,764.44 L176.8,768.25 L177.3,772.03 L177.8,775.78 L178.3,779.51 L178.8,783.22 L179.3,786.89 L179.8,790.54 L180.3,794.15 L180.8,797.73 L181.3,801.27 L181.8,804.77 L182.3,808.23 L182.8,811.65 L183.3,815.02 L183.8,818.35 L184.3,821.63 L184.8,824.86 L185.3,828.04 L185.8,831.16 L186.3,834.24 L186.8,837.25 L187.3,840.21 L187.8,843.11 L188.3,845.95 L188.8,848.72 L189.3,851.44 L189.8,854.08 L190.3,856.66 L190.8,859.17 L191.3,861.62 L191.8,863.99 L192.3,866.29 L192.8,868.52 L193.3,870.67 L193.8,872.75 L194.3,874.75 L194.8,876.67 L195.3,878.52 L195.8,880.28 L196.3,881.97 L196.8,883.57 L197.3,885.09 L197.8,886.53 L198.3,887.88 L198.8,889.15 L199.3,890.33 L199.8,891.43 L200.3,892.44 L200.8,893.37 L201.3,894.21 L201.8,894.96 L202.3,895.62 L202.8,896.19 L203.3,896.67 L203.8,897.07 L204.3,897.37 L204.8,897.59 L205.3,897.71 L205.8,897.75 L206.3,897.7 L206.8,897.55 L207.3,897.32 L207.8,897 L208.3,896.58 L208.8,896.08 L209.3,895.49 L209.8,894.81 L210.3,894.05 L210.8,893.19 L211.3,892.25 L211.8,891.22 L212.3,890.1 L212.8,888.9 L213.3,887.62 L213.8,886.25 L214.3,884.79 L214.8,883.25 L215.3,881.63 L215.8,879.93 L216.3,878.15 L216.8,876.29 L217.3,874.35 L217.8,872.34 L218.3,870.25 L218.8,868.08 L219.3,865.84 L219.8,863.52 L220.3,861.13 L220.8,858.68 L221.3,856.15 L221.8,853.56 L222.3,850.9 L222.8,848.17 L223.3,845.39 L223.8,842.53 L224.3,839.62 L224.8,836.65 L225.3,833.63 L225.8,830.54 L226.3,827.41 L226.8,824.22 L227.3,820.97 L227.8,817.69 L228.3,814.35 L228.8,810.96 L229.3,807.54 L229.8,804.07 L230.3,800.56 L230.8,797.01 L231.3,793.43 L231.8,789.81 L232.3,786.16 L232.8,782.48 L233.3,778.77 L233.8,775.03 L234.3,771.27 L234.8,767.49 L235.3,763.68 L235.8,759.86 L236.3,756.02 L236.8,752.16 L237.3,748.29 L237.8,744.41 L238.3,740.53 L238.8,736.63 L239.3,732.74 L239.8,728.84 L240.3,724.93 L240.8,721.04 L241.3,717.14 L241.8,713.25 L242.3,709.37 L242.8,705.5 L243.3,701.64 L243.8,697.79 L244.3,693.96 L244.8,690.15 L245.3,686.36 L245.8,682.59 L246.3,678.85 L246.8,675.13 L247.3,671.44 L247.8,667.78 L248.3,664.15 L248.8,660.56 L249.3,657 L249.8,653.48 L250.3,650 L250.8,646.56 L251.3,643.16 L251.8,639.81 L252.3,636.51 L252.8,633.25 L253.3,630.05 L253.8,626.89 L254.3,623.79 L254.8,620.75 L255.3,617.76 L255.8,614.83 L256.3,611.96 L256.8,609.16 L257.3,606.41 L257.8,603.73 L258.3,601.12 L258.8,598.57 L259.3,596.1 L259.8,593.69 L260.3,591.35 L260.8,589.09 L261.3,586.9 L261.8,584.78 L262.3,582.74 L262.8,580.78 L263.3,578.9 L263.8,577.09 L264.3,575.37 L264.8,573.72 L265.3,572.16 L265.8,570.68 L266.3,569.29 L266.8,567.97 L267.3,566.75 L267.8,565.61 L268.3,564.55 L268.8,563.58 L269.3,562.7 L269.8,561.91 L270.3,561.2 L270.8,560.59 L271.3,560.06 L271.8,559.62 L272.3,559.27 L272.8,559.01 L273.3,558.84 L273.8,558.76 L274.3,558.77 L274.8,558.86 L275.3,559.05 L275.8,559.33 L276.3,559.7 L276.8,560.16 L277.3,560.7 L277.8,561.34 L278.3,562.06 L278.8,562.87 L279.3,563.77 L279.8,564.75 L280.3,565.83 L280.8,566.99 L281.3,568.23 L281.8,569.56 L282.3,570.97 L282.8,572.47 L283.3,574.05 L283.8,575.71 L284.3,577.45 L284.8,579.27 L285.3,581.17 L285.8,583.14 L286.3,585.2 L286.8,587.33 L287.3,589.53 L287.8,591.81 L288.3,594.16 L288.8,596.59 L289.3,599.08 L289.8,601.64 L290.3,604.26 L290.8,606.96 L291.3,609.71 L291.8,612.53 L292.3,615.41 L292.8,618.35 L293.3,621.35 L293.8,624.41 L294.3,627.52 L294.8,630.68 L295.3,633.9 L295.8,637.16 L296.3,640.48 L296.8,643.84 L297.3,647.24 L297.8,650.69 L298.3,654.18 L298.8,657.71 L299.3,661.27 L299.8,664.87 L300.3,668.51 L300.8,672.18 L301.3,675.87 L301.8,679.6 L302.3,683.34 L302.8,687.12 L303.3,690.91 L303.8,694.73 L304.3,698.56 L304.8,702.41 L305.3,706.27 L305.8,710.14 L306.3,714.03 L306.8,717.92 L307.3,721.81 L307.8,725.71 L308.3,729.62 L308.8,733.52 L309.3,737.41 L309.8,741.31 L310.3,745.19 L310.8,749.07 L311.3,752.93 L311.8,756.79 L312.3,760.62 L312.8,764.44 L313.3,768.25 L313.8,772.03 L314.3,775.78 L314.8,779.51 L315.3,783.22 L315.8,786.89 L316.3,790.54 L316.8,794.15 L317.3,797.73 L317.8,801.27 L318.3,804.77 L318.8,808.23 L319.3,811.65 L319.8,815.02 L320.3,818.35 L320.8,821.63 L321.3,824.86 L321.8,828.04 L322.3,831.16 L322.8,834.24 L323.3,837.25 L323.8,840.21 L324.3,843.11 L324.8,845.95 L325.3,848.72 L325.8,851.44 L326.3,854.08 L326.8,856.66 L327.3,859.17 L327.8,861.62 L328.3,863.99 L328.8,866.29 L329.3,868.52 L329.8,870.67 L330.3,872.75 L330.8,874.75 L331.3,876.67 L331.8,878.52 L332.3,880.28 L332.8,881.97 L333.3,883.57 L333.8,885.09 L334.3,886.53 L334.8,887.88 L335.3,889.15 L335.8,890.33 L336.3,891.43 L336.8,892.44 L337.3,893.37 L337.8,894.21 L338.3,894.96 L338.8,895.62 L339.3,896.19 L339.8,896.67 L340.3,897.07 L340.8,897.37 L341.3,897.59 L341.8,897.71 L342.3,897.75 L342.8,897.7 L343.3,897.55 L343.8,897.32 L344.3,897 L344.8,896.58 L345.3,896.08 L345.8,895.49 L346.3,894.81 L346.8,894.05 L347.3,893.19 L347.8,892.25 L348.3,891.22 L348.8,890.1 L349.3,888.9 L349.8,887.62 L350.3,886.25 L350.8,884.79 L351.3,883.25 L351.8,881.63 L352.3,879.93 L352.8,878.15 L353.3,876.29 L353.8,874.35 L354.3,872.34 L354.8,870.25 L355.3,868.08 L355.8,865.84 L356.3,863.52 L356.8,861.13 L357.3,858.68 L357.8,856.15 L358.3,853.56 L358.8,850.9 L359.3,848.17 L359.8,845.39 L360.3,842.53 L360.8,839.62 L361.3,836.65 L361.8,833.63 L362.3,830.54 L362.8,827.41 L363.3,824.22 L363.8,820.97 L364.3,817.69 L364.8,814.35 L365.3,810.96 L365.8,807.54 L366.3,804.07 L366.8,800.56 L367.3,797.01 L367.8,793.43 L368.3,789.81 L368.8,786.16 L369.3,782.48 L369.8,778.77 L370.3,775.03 L370.8,771.27 L371.3,767.49 L371.8,763.68 L372.3,759.86 L372.8,756.02 L373.3,752.16 L373.8,748.29 L374.3,744.41 L374.8,740.53 L375.3,736.63 L375.8,732.74 L376.3,728.84 L376.8,724.93 L377.3,721.04 L377.8,717.14 L378.3,713.25 L378.8,709.37 L379.3,705.5 L379.8,701.64 L380.3,697.79 L380.8,693.96 L381.3,690.15 L381.8,686.36 L382.3,682.59 L382.8,678.85 L383.3,675.13 L383.8,671.44 L384.3,667.78 L384.8,664.15 L385.3,660.56 L385.8,657 L386.3,653.48 L386.8,650 L387.3,646.56 L387.8,643.16 L388.3,639.81 L388.8,636.51 L389.3,633.25 L389.8,630.05 L390.3,626.89 L390.8,623.79 L391.3,620.75 L391.8,617.76 L392.3,614.83 L392.8,611.96 L393.3,609.16 L393.8,606.41 L394.3,603.73 L394.8,601.12 L395.3,598.57 L395.8,596.1 L396.3,593.69 L396.8,591.35 L397.3,589.09 L397.8,586.9 L398.3,584.78 L398.8,582.74 L399.3,580.78 L399.8,578.9 L400.3,577.09 L400.8,575.37 L401.3,573.72 L401.8,572.16 L402.3,570.68 L402.8,569.29 L403.3,567.97 L403.8,566.75 L404.3,565.61 L404.8,564.55 L405.3,563.58 L405.8,562.7 L406.3,561.91 L406.8,561.2 L407.3,560.59 L407.8,560.06 L408.3,559.62 L408.8,559.27 L409.3,559.01 L409.8,558.84 L410.3,558.76 L410.8,558.77 L411.3,558.86 L411.8,559.05 L412.3,559.33 L412.8,559.7 L413.3,560.16 L413.8,560.7 L414.3,561.34 L414.8,562.06 L415.3,562.87 L415.8,563.77 L416.3,564.75 L416.8,565.83 L417.3,566.99 L417.8,568.23 L418.3,569.56 L418.8,570.97 L419.3,572.47 L419.8,574.05 L420.3,575.71 L420.8,577.45 L421.3,579.27 L421.8,581.17 L422.3,583.14 L422.8,585.2 L423.3,587.33 L423.8,589.53 L424.3,591.81 L424.8,594.16 L425.3,596.59 L425.8,599.08 L426.3,601.64 L426.8,604.26 L427.3,606.96 L427.8,609.71 L428.3,612.53 L428.8,615.41 L429.3,618.35 L429.8,621.35 L430.3,624.41 L430.8,627.52 L431.3,630.68 L431.8,633.9 L432.3,637.16 L432.8,640.48 L433.3,643.84 L433.8,647.24 L434.3,650.69 L434.8,654.18 L435.3,657.71 L435.8,661.27 L436.3,664.87 L436.8,668.51 L437.3,672.18 L437.8,675.87 L438.3,679.6 L438.8,683.34 L439.3,687.12 L439.8,690.91 L440.3,694.73 L440.8,698.56 L441.3,702.41 L441.8,706.27 L442.3,710.14 L442.8,714.03 L443.3,717.92 L443.8,721.81 L444.3,725.71 L444.8,729.62 L445.3,733.52 L445.8,737.41 L446.3,741.31 L446.8,745.19 L447.3,749.07 L447.8,752.93 L448.3,756.79 L448.8,760.62 L449.3,764.44 L449.8,768.25 L450.3,772.03 L450.8,775.78 L451.3,779.51 L451.8,783.22 L452.3,786.89 L452.8,790.54 L453.3,794.15 L453.8,797.73 L454.3,801.27 L454.8,804.77 L455.3,808.23 L455.8,811.65 L456.3,815.02 L456.8,818.35 L457.3,821.63 L457.8,824.86 L458.3,828.04 L458.8,831.16 L459.3,834.24 L459.8,837.25 L460.3,840.21 L460.8,843.11 L461.3,845.95 L461.8,848.72 L462.3,851.44 L462.8,854.08 L463.3,856.66 L463.8,859.17 L464.3,861.62 L464.8,863.99 L465.3,866.29 L465.8,868.52 L466.3,870.67 L466.8,872.75 L467.3,874.75 L467.8,876.67 L468.3,878.52 L468.8,880.28 L469.3,881.97 L469.8,883.57 L470.3,885.09 L470.8,886.53 L471.3,887.88 L471.8,889.15 L472.3,890.33 L472.8,891.43 L473.3,892.44 L473.8,893.37 L474.3,894.21 L474.8,894.96 L475.3,895.62 L475.8,896.19 L476.3,896.67 L476.8,897.07 L477.3,897.37 L477.8,897.59 L478.3,897.71 L478.8,897.75 L479.3,897.7 L479.8,897.55 L480.3,897.32 L480.8,897 L481.3,896.58 L481.8,896.08 L482.3,895.49 L482.8,894.81 L483.3,894.05 L483.8,893.19 L484.3,892.25 L484.8,891.22 L485.3,890.1 L485.8,888.9 L486.3,887.62 L486.8,886.25 L487.3,884.79 L487.8,883.25 L488.3,881.63 L488.8,879.93 L489.3,878.15 L489.8,876.29 L490.3,874.35 L490.8,872.34 L491.3,870.25 L491.8,868.08 L492.3,865.84 L492.8,863.52 L493.3,861.13 L493.8,858.68 L494.3,856.15 L494.8,853.56 L495.3,850.9 L495.8,848.17 L496.3,845.39 L496.8,842.53 L497.3,839.62 L497.8,836.65 L498.3,833.63 L498.8,830.54 L499.3,827.41 L499.8,824.22 L500.3,820.97 L500.8,817.69 L501.3,814.35 L501.8,810.96 L502.3,807.54 L502.8,804.07 L503.3,800.56 L503.8,797.01 L504.3,793.43 L504.8,789.81 L505.3,786.16 L505.8,782.48 L506.3,778.77 L506.8,775.03 L507.3,771.27 L507.8,767.49 L508.3,763.68 L508.8,759.86 L509.3,756.02 L509.8,752.16 L510.3,748.29 L510.8,744.41 L511.3,740.53 L511.8,736.63 L512.3,732.74 L512.8,728.84 L513.3,724.93 L513.8,721.04 L514.3,717.14 L514.8,713.25 L515.3,709.37 L515.8,705.5 L516.3,701.64 L516.8,697.79 L517.3,693.96 L517.8,690.15 L518.3,686.36 L518.8,682.59 L519.3,678.85 L519.8,675.13 L520.3,671.44 L520.8,667.78 L521.3,664.15 L521.8,660.56 L522.3,657 L522.8,653.48 L523.3,650 L523.8,646.56 L524.3,643.16 L524.8,639.81 L525.3,636.51 L525.8,633.25 L526.3,630.05 L526.8,626.89 L527.3,623.79 L527.8,620.75 L528.3,617.76 L528.8,614.83 L529.3,611.96 L529.8,609.16 L530.3,606.41 L530.8,603.73 L531.3,601.12 L531.8,598.57 L532.3,596.1 L532.8,593.69 L533.3,591.35 L533.8,589.09 L534.3,586.9 L534.8,584.78 L535.3,582.74 L535.8,580.78 L536.3,578.9 L536.8,577.09 L537.3,575.37 L537.8,573.72 L538.3,572.16 L538.8,570.68 L539.3,569.29 L539.8,567.97 L540.3,566.75 L540.8,565.61 L541.3,564.55 L541.8,563.58 L542.3,562.7 L542.8,561.91 L543.3,561.2 L543.8,560.59 L544.3,560.06 L544.8,559.62 L545.3,559.27 L545.8,559.01 L546.3,558.84 L546.8,558.76 L547.3,558.77 L547.8,558.86 L548.3,559.05 L548.8,559.33 L549.3,559.7 L549.8,560.16 L550.3,560.7 L550.8,561.34 L551.3,562.06 L551.8,562.87 L552.3,563.77 L552.8,564.75 L553.3,565.83 L553.8,566.99 L554.3,568.23 L554.8,569.56 L555.3,570.97 L555.8,572.47 L556.3,574.05 L556.8,575.71 L557.3,577.45 L557.8,579.27 L558.3,581.17 L558.8,583.14 L559.3,585.2 L559.8,587.33 L560.3,589.53 L560.8,591.81 L561.3,594.16 L561.8,596.59 L562.3,599.08 L562.8,601.64 L563.3,604.26 L563.8,606.96 L564.3,609.71 L564.8,612.53 L565.3,615.41 L565.8,618.35 L566.3,621.35 L566.8,624.41 L567.3,627.52 L567.8,630.68 L568.3,633.9 L568.8,637.16 L569.3,640.48 L569.8,643.84 L570.3,647.24 L570.8,650.69 L571.3,654.18 L571.8,657.71 L572.3,661.27 L572.8,664.87 L573.3,668.51 L573.8,672.18 L574.3,675.87 L574.8,679.6 L575.3,683.34 L575.8,687.12 L576.3,690.91 L576.8,694.73 L577.3,698.56 L577.8,702.41 L578.3,706.27 L578.8,710.14 L579.3,714.03 L579.8,717.92 L580.3,721.81 L580.8,725.71 L581.3,729.62 L581.8,733.52 L582.3,737.41 L582.8,741.31 L583.3,745.19 L583.8,749.07 L584.3,752.93 L584.8,756.79 L585.3,760.62 L585.8,764.44 L586.3,768.25 L586.8,772.03" fill="none" stroke="#0072BD" stroke-width="6.85" stroke-linejoin="round" stroke-miterlimit="10" clip-path="url(#clipc)"/>
<path d="M147.3,773.54 L147.55,775.55 L147.8,777.56 L148.05,779.56 L148.3,781.55 L148.55,783.53 L148.8,785.5 L149.05,787.46 L149.3,789.41 L149.55,791.35 L149.8,793.27 L150.05,795.19 L150.3,797.1 L150.55,798.99 L150.8,800.87 L151.05,802.74 L151.3,804.6 L151.55,806.44 L151.8,808.27 L152.05,810.09 L152.3,811.89 L152.55,813.68 L152.8,815.46 L153.05,817.22 L153.3,818.96 L153.55,820.7 L153.8,822.41 L154.05,824.11 L154.3,825.8 L154.55,827.47 L154.8,829.12 L155.05,830.76 L155.3,832.38 L155.55,833.98 L155.8,835.57 L156.05,837.14 L156.3,838.7 L156.55,840.23 L156.8,841.75 L157.05,843.25 L157.3,844.74 L157.55,846.2 L157.8,847.65 L158.05,849.08 L158.3,850.49 L158.55,851.88 L158.8,853.26 L159.05,854.61 L159.3,855.95 L159.55,857.27 L159.8,858.57 L160.05,859.85 L160.3,861.11 L160.55,862.35 L160.8,863.58 L161.05,864.78 L161.3,865.96 L161.55,867.13 L161.8,868.27 L162.05,869.4 L162.3,870.5 L162.55,871.59 L162.8,872.65 L163.05,873.7 L163.3,874.73 L163.55,875.73 L163.8,876.72 L164.05,877.69 L164.3,878.63 L164.55,879.56 L164.8,880.47 L165.05,881.35 L165.3,882.22 L165.55,883.07 L165.8,883.89 L166.05,884.7 L166.3,885.49 L166.55,886.25 L166.8,887 L167.05,887.72 L167.3,888.43 L167.55,889.11 L167.8,889.78 L168.05,890.42 L168.3,891.05 L168.55,891.65 L168.8,892.24 L169.05,892.8 L169.3,893.35 L169.55,893.87 L169.8,894.38 L170.05,894.86 L170.3,895.33 L170.55,895.77 L170.8,896.2 L171.05,896.6 L171.3,896.98 L171.55,897.35 L171.8,897.69 L172.05,898.02 L172.3,898.32 L172.55,898.61 L172.8,898.87 L173.05,899.12 L173.3,899.34 L173.55,899.55 L173.8,899.73 L174.05,899.9 L174.3,900.04 L174.55,900.17 L174.8,900.27 L175.05,900.36 L175.3,900.42 L175.55,900.47 L175.8,900.49 L176.05,900.5 L176.3,900.49 L176.55,900.45 L176.8,900.4 L177.05,900.32 L177.3,900.23 L177.55,900.12 L177.8,899.98 L178.05,899.83 L178.3,899.66 L178.55,899.47 L178.8,899.25 L179.05,899.02 L179.3,898.77 L179.55,898.5 L179.8,898.2 L180.05,897.89 L180.3,897.56 L180.55,897.21 L180.8,896.83 L181.05,896.44 L181.3,896.03 L181.55,895.6 L181.8,895.14 L182.05,894.67 L182.3,894.18 L182.55,893.67 L182.8,893.13 L183.05,892.58 L183.3,892.01 L183.55,891.42 L183.8,890.8 L184.05,890.17 L184.3,889.52 L184.55,888.84 L184.8,888.15 L185.05,887.44 L185.3,886.7 L185.55,885.95 L185.8,885.17 L186.05,884.38 L186.3,883.57 L186.55,882.73 L186.8,881.88 L187.05,881 L187.3,880.11 L187.55,879.19 L187.8,878.26 L188.05,877.3 L188.3,876.33 L188.55,875.33 L188.8,874.32 L189.05,873.28 L189.3,872.23 L189.55,871.16 L189.8,870.06 L190.05,868.95 L190.3,867.82 L190.55,866.66 L190.8,865.49 L191.05,864.3 L191.3,863.09 L191.55,861.86 L191.8,860.61 L192.05,859.34 L192.3,858.05 L192.55,856.74 L192.8,855.42 L193.05,854.07 L193.3,852.71 L193.55,851.33 L193.8,849.93 L194.05,848.51 L194.3,847.07 L194.55,845.62 L194.8,844.14 L195.05,842.65 L195.3,841.15 L195.55,839.62 L195.8,838.08 L196.05,836.52 L196.3,834.94 L196.55,833.34 L196.8,831.73 L197.05,830.11 L197.3,828.46 L197.55,826.8 L197.8,825.13 L198.05,823.43 L198.3,821.73 L198.55,820 L198.8,818.27 L199.05,816.52 L199.3,814.75 L199.55,812.97 L199.8,811.17 L200.05,809.36 L200.3,807.54 L200.55,805.71 L200.8,803.86 L201.05,801.99 L201.3,800.12 L201.55,798.23 L201.8,796.34 L202.05,794.43 L202.3,792.5 L202.55,790.57 L202.8,788.63 L203.05,786.67 L203.3,784.71 L203.55,782.74 L203.8,780.75 L204.05,778.76 L204.3,776.76 L204.55,774.75 L204.8,772.73 L205.05,770.71 L205.3,768.67 L205.55,766.63 L205.8,764.59 L206.05,762.53 L206.3,760.47 L206.55,758.41 L206.8,756.34 L207.05,754.26 L207.3,752.18 L207.55,750.09 L207.8,748.01 L208.05,745.91 L208.3,743.82 L208.55,741.72 L208.8,739.62 L209.05,737.52 L209.3,735.41 L209.55,733.31 L209.8,731.2 L210.05,729.09 L210.3,726.99 L210.55,724.88 L210.8,722.77 L211.05,720.67 L211.3,718.56 L211.55,716.46 L211.8,714.36 L212.05,712.26 L212.3,710.17 L212.55,708.08 L212.8,705.99 L213.05,703.9 L213.3,701.82 L213.55,699.75 L213.8,697.68 L214.05,695.62 L214.3,693.56 L214.55,691.5 L214.8,689.46 L215.05,687.42 L215.3,685.39 L215.55,683.36 L215.8,681.35 L216.05,679.34 L216.3,677.34 L216.55,675.35 L216.8,673.37 L217.05,671.4 L217.3,669.43 L217.55,667.48 L217.8,665.54 L218.05,663.61 L218.3,661.69 L218.55,659.78 L218.8,657.89 L219.05,656 L219.3,654.13 L219.55,652.27 L219.8,650.43 L220.05,648.59 L220.3,646.77 L220.55,644.97 L220.8,643.17 L221.05,641.4 L221.3,639.63 L221.55,637.88 L221.8,636.15 L222.05,634.43 L222.3,632.73 L222.55,631.04 L222.8,629.37 L223.05,627.71 L223.3,626.07 L223.55,624.44 L223.8,622.84 L224.05,621.25 L224.3,619.67 L224.55,618.11 L224.8,616.57 L225.05,615.05 L225.3,613.55 L225.55,612.06 L225.8,610.59 L226.05,609.14 L226.3,607.71 L226.55,606.29 L226.8,604.89 L227.05,603.52 L227.3,602.16 L227.55,600.81 L227.8,599.49 L228.05,598.19 L228.3,596.91 L228.55,595.64 L228.8,594.39 L229.05,593.17 L229.3,591.96 L229.55,590.77 L229.8,589.6 L230.05,588.46 L230.3,587.33 L230.55,586.22 L230.8,585.13 L231.05,584.06 L231.3,583.01 L231.55,581.98 L231.8,580.97 L232.05,579.98 L232.3,579 L232.55,578.05 L232.8,577.12 L233.05,576.21 L233.3,575.32 L233.55,574.45 L233.8,573.6 L234.05,572.77 L234.3,571.96 L234.55,571.17 L234.8,570.4 L235.05,569.65 L235.3,568.92 L235.55,568.21 L235.8,567.52 L236.05,566.85 L236.3,566.2 L236.55,565.57 L236.8,564.96 L237.05,564.38 L237.3,563.81 L237.55,563.26 L237.8,562.73 L238.05,562.22 L238.3,561.73 L238.55,561.26 L238.8,560.82 L239.05,560.39 L239.3,559.98 L239.55,559.59 L239.8,559.22 L240.05,558.87 L240.3,558.55 L240.55,558.24 L240.8,557.95 L241.05,557.68 L241.3,557.43 L241.55,557.2 L241.8,556.99 L242.05,556.8 L242.3,556.64 L242.55,556.49 L242.8,556.36 L243.05,556.25 L243.3,556.16 L243.55,556.09 L243.8,556.04 L244.05,556.01 L244.3,556 L244.55,556.01 L244.8,556.04 L245.05,556.09 L245.3,556.16 L245.55,556.25 L245.8,556.36 L246.05,556.49 L246.3,556.64 L246.55,556.8 L246.8,556.99 L247.05,557.2 L247.3,557.43 L247.55,557.68 L247.8,557.95 L248.05,558.24 L248.3,558.55 L248.55,558.87 L248.8,559.22 L249.05,559.59 L249.3,559.98 L249.55,560.39 L249.8,560.82 L250.05,561.26 L250.3,561.73 L250.55,562.22 L250.8,562.73 L251.05,563.26 L251.3,563.81 L251.55,564.38 L251.8,564.96 L252.05,565.57 L252.3,566.2 L252.55,566.85 L252.8,567.52 L253.05,568.21 L253.3,568.92 L253.55,569.65 L253.8,570.4 L254.05,571.17 L254.3,571.96 L254.55,572.77 L254.8,573.6 L255.05,574.45 L255.3,575.32 L255.55,576.21 L255.8,577.12 L256.05,578.05 L256.3,579 L256.55,579.98 L256.8,580.97 L257.05,581.98 L257.3,583.01 L257.55,584.06 L257.8,585.13 L258.05,586.22 L258.3,587.33 L258.55,588.46 L258.8,589.6 L259.05,590.77 L259.3,591.96 L259.55,593.17 L259.8,594.39 L260.05,595.64 L260.3,596.91 L260.55,598.19 L260.8,599.49 L261.05,600.81 L261.3,602.16 L261.55,603.52 L261.8,604.89 L262.05,606.29 L262.3,607.71 L262.55,609.14 L262.8,610.59 L263.05,612.06 L263.3,613.55 L263.55,615.05 L263.8,616.57 L264.05,618.11 L264.3,619.67 L264.55,621.25 L264.8,622.84 L265.05,624.44 L265.3,626.07 L265.55,627.71 L265.8,629.37 L266.05,631.04 L266.3,632.73 L266.55,634.43 L266.8,636.15 L267.05,637.88 L267.3,639.63 L267.55,641.4 L267.8,643.17 L268.05,644.97 L268.3,646.77 L268.55,648.59 L268.8,650.43 L269.05,652.27 L269.3,654.13 L269.55,656 L269.8,657.89 L270.05,659.78 L270.3,661.69 L270.55,663.61 L270.8,665.54 L271.05,667.48 L271.3,669.43 L271.55,671.4 L271.8,673.37 L272.05,675.35 L272.3,677.34 L272.55,679.34 L272.8,681.35 L273.05,683.36 L273.3,685.39 L273.55,687.42 L273.8,689.46 L274.05,691.5 L274.3,693.56 L274.55,695.62 L274.8,697.68 L275.05,699.75 L275.3,701.82 L275.55,703.9 L275.8,705.99 L276.05,708.08 L276.3,710.17 L276.55,712.26 L276.8,714.36 L277.05,716.46 L277.3,718.56 L277.55,720.67 L277.8,722.77 L278.05,724.88 L278.3,726.99 L278.55,729.09 L278.8,731.2 L279.05,733.31 L279.3,735.41 L279.55,737.52 L279.8,739.62 L280.05,741.72 L280.3,743.82 L280.55,745.91 L280.8,748.01 L281.05,750.09 L281.3,752.18 L281.55,754.26 L281.8,756.34 L282.05,758.41 L282.3,760.47 L282.55,762.53 L282.8,764.59 L283.05,766.63 L283.3,768.67 L283.55,770.71 L283.8,772.73 L284.05,774.75 L284.3,776.76 L284.55,778.76 L284.8,780.75 L285.05,782.74 L285.3,784.71 L285.55,786.67 L285.8,788.63 L286.05,790.57 L286.3,792.5 L286.55,794.43 L286.8,796.34 L287.05,798.23 L287.3,800.12 L287.55,801.99 L287.8,803.86 L288.05,805.71 L288.3,807.54 L288.55,809.36 L288.8,811.17 L289.05,812.97 L289.3,814.75 L289.55,816.52 L289.8,818.27 L290.05,820 L290.3,821.73 L290.55,823.43 L290.8,825.13 L291.05,826.8 L291.3,828.46 L291.55,830.11 L291.8,831.73 L292.05,833.34 L292.3,834.94 L292.55,836.52 L292.8,838.08 L293.05,839.62 L293.3,841.15 L293.55,842.65 L293.8,844.14 L294.05,845.62 L294.3,847.07 L294.55,848.51 L294.8,849.93 L295.05,851.33 L295.3,852.71 L295.55,854.07 L295.8,855.42 L296.05,856.74 L296.3,858.05 L296.55,859.34 L296.8,860.61 L297.05,861.86 L297.3,863.09 L297.55,864.3 L297.8,865.49 L298.05,866.66 L298.3,867.82 L298.55,868.95 L298.8,870.06 L299.05,871.16 L299.3,872.23 L299.55,873.28 L299.8,874.32 L300.05,875.33 L300.3,876.33 L300.55,877.3 L300.8,878.26 L301.05,879.19 L301.3,880.11 L301.55,881 L301.8,881.88 L302.05,882.73 L302.3,883.57 L302.55,884.38 L302.8,885.17 L303.05,885.95 L303.3,886.7 L303.55,887.44 L303.8,888.15 L304.05,888.84 L304.3,889.52 L304.55,890.17 L304.8,890.8 L305.05,891.42 L305.3,892.01 L305.55,892.58 L305.8,893.13 L306.05,893.67 L306.3,894.18 L306.55,894.67 L306.8,895.14 L307.05,895.6 L307.3,896.03 L307.55,896.44 L307.8,896.83 L308.05,897.21 L308.3,897.56 L308.55,897.89 L308.8,898.2 L309.05,898.5 L309.3,898.77 L309.55,899.02 L309.8,899.25 L310.05,899.47 L310.3,899.66 L310.55,899.83 L310.8,899.98 L311.05,900.12 L311.3,900.23 L311.55,900.32 L311.8,900.4 L312.05,900.45 L312.3,900.49 L312.55,900.5 L312.8,900.49 L313.05,900.47 L313.3,900.42 L313.55,900.36 L313.8,900.27 L314.05,900.17 L314.3,900.04 L314.55,899.9 L314.8,899.73 L315.05,899.55 L315.3,899.34 L315.55,899.12 L315.8,898.87 L316.05,898.61 L316.3,898.32 L316.55,898.02 L316.8,897.69 L317.05,897.35 L317.3,896.98 L317.55,896.6 L317.8,896.2 L318.05,895.77 L318.3,895.33 L318.55,894.86 L318.8,894.38 L319.05,893.87 L319.3,893.35 L319.55,892.8 L319.8,892.24 L320.05,891.65 L320.3,891.05 L320.55,890.42 L320.8,889.78 L321.05,889.11 L321.3,888.43 L321.55,887.72 L321.8,887 L322.05,886.25 L322.3,885.49 L322.55,884.7 L322.8,883.89 L323.05,883.07 L323.3,882.22 L323.55,881.35 L323.8,880.47 L324.05,879.56 L324.3,878.63 L324.55,877.69 L324.8,876.72 L325.05,875.73 L325.3,874.73 L325.55,873.7 L325.8,872.65 L326.05,871.59 L326.3,870.5 L326.55,869.4 L326.8,868.27 L327.05,867.13 L327.3,865.96 L327.55,864.78 L327.8,863.58 L328.05,862.35 L328.3,861.11 L328.55,859.85 L328.8,858.57 L329.05,857.27 L329.3,855.95 L329.55,854.61 L329.8,853.26 L330.05,851.88 L330.3,850.49 L330.55,849.08 L330.8,847.65 L331.05,846.2 L331.3,844.74 L331.55,843.25 L331.8,841.75 L332.05,840.23 L332.3,838.7 L332.55,837.14 L332.8,835.57 L333.05,833.98 L333.3,832.38 L333.55,830.76 L333.8,829.12 L334.05,827.47 L334.3,825.8 L334.55,824.11 L334.8,822.41 L335.05,820.7 L335.3,818.96 L335.55,817.22 L335.8,815.46 L336.05,813.68 L336.3,811.89 L336.55,810.09 L336.8,808.27 L337.05,806.44 L337.3,804.6 L337.55,802.74 L337.8,800.87 L338.05,798.99 L338.3,797.1 L338.55,795.19 L338.8,793.27 L339.05,791.35 L339.3,789.41 L339.55,787.46 L339.8,785.5 L340.05,783.53 L340.3,781.55 L340.55,779.56 L340.8,777.56 L341.05,775.55 L341.3,773.54 L341.55,771.52 L341.8,769.49 L342.05,767.45 L342.3,765.41 L342.55,763.35 L342.8,761.3 L343.05,759.23 L343.3,757.16 L343.55,755.09 L343.8,753.01 L344.05,750.93 L344.3,748.84 L344.55,746.75 L344.8,744.66 L345.05,742.56 L345.3,740.46 L345.55,738.36 L345.8,736.25 L346.05,734.15 L346.3,732.04 L346.55,729.94 L346.8,727.83 L347.05,725.72 L347.3,723.61 L347.55,721.51 L347.8,719.4 L348.05,717.3 L348.3,715.2 L348.55,713.1 L348.8,711.01 L349.05,708.91 L349.3,706.82 L349.55,704.74 L349.8,702.66 L350.05,700.58 L350.3,698.51 L350.55,696.44 L350.8,694.38 L351.05,692.32 L351.3,690.28 L351.55,688.23 L351.8,686.2 L352.05,684.17 L352.3,682.15 L352.55,680.14 L352.8,678.14 L353.05,676.14 L353.3,674.16 L353.55,672.18 L353.8,670.22 L354.05,668.26 L354.3,666.32 L354.55,664.38 L354.8,662.46 L355.05,660.55 L355.3,658.64 L355.55,656.76 L355.8,654.88 L356.05,653.02 L356.3,651.16 L356.55,649.33 L356.8,647.5 L357.05,645.69 L357.3,643.89 L357.55,642.11 L357.8,640.34 L358.05,638.58 L358.3,636.84 L358.55,635.12 L358.8,633.41 L359.05,631.71 L359.3,630.03 L359.55,628.37 L359.8,626.72 L360.05,625.09 L360.3,623.48 L360.55,621.88 L360.8,620.3 L361.05,618.73 L361.3,617.19 L361.55,615.66 L361.8,614.15 L362.05,612.65 L362.3,611.18 L362.55,609.72 L362.8,608.28 L363.05,606.85 L363.3,605.45 L363.55,604.06 L363.8,602.7 L364.05,601.35 L364.3,600.02 L364.55,598.71 L364.8,597.42 L365.05,596.14 L365.3,594.89 L365.55,593.66 L365.8,592.44 L366.05,591.25 L366.3,590.07 L366.55,588.91 L366.8,587.78 L367.05,586.66 L367.3,585.56 L367.55,584.48 L367.8,583.42 L368.05,582.39 L368.3,581.37 L368.55,580.37 L368.8,579.39 L369.05,578.43 L369.3,577.49 L369.55,576.57 L369.8,575.68 L370.05,574.8 L370.3,573.94 L370.55,573.1 L370.8,572.28 L371.05,571.48 L371.3,570.71 L371.55,569.95 L371.8,569.21 L372.05,568.49 L372.3,567.79 L372.55,567.12 L372.8,566.46 L373.05,565.82 L373.3,565.21 L373.55,564.61 L373.8,564.03 L374.05,563.48 L374.3,562.94 L374.55,562.42 L374.8,561.93 L375.05,561.45 L375.3,560.99 L375.55,560.56 L375.8,560.14 L376.05,559.74 L376.3,559.37 L376.55,559.01 L376.8,558.67 L377.05,558.36 L377.3,558.06 L377.55,557.78 L377.8,557.53 L378.05,557.29 L378.3,557.07 L378.55,556.88 L378.8,556.7 L379.05,556.54 L379.3,556.41 L379.55,556.29 L379.8,556.19 L380.05,556.11 L380.3,556.06 L380.55,556.02 L380.8,556 L381.05,556 L381.3,556.03 L381.55,556.07 L381.8,556.13 L382.05,556.21 L382.3,556.31 L382.55,556.43 L382.8,556.57 L383.05,556.73 L383.3,556.92 L383.55,557.12 L383.8,557.34 L384.05,557.58 L384.3,557.84 L384.55,558.12 L384.8,558.42 L385.05,558.74 L385.3,559.08 L385.55,559.44 L385.8,559.82 L386.05,560.22 L386.3,560.64 L386.55,561.08 L386.8,561.54 L387.05,562.02 L387.3,562.52 L387.55,563.04 L387.8,563.58 L388.05,564.15 L388.3,564.73 L388.55,565.33 L388.8,565.95 L389.05,566.59 L389.3,567.25 L389.55,567.93 L389.8,568.63 L390.05,569.36 L390.3,570.1 L390.55,570.86 L390.8,571.64 L391.05,572.44 L391.3,573.27 L391.55,574.11 L391.8,574.97 L392.05,575.85 L392.3,576.76 L392.55,577.68 L392.8,578.62 L393.05,579.58 L393.3,580.57 L393.55,581.57 L393.8,582.59 L394.05,583.63 L394.3,584.7 L394.55,585.78 L394.8,586.88 L395.05,588 L395.3,589.14 L395.55,590.3 L395.8,591.48 L396.05,592.68 L396.3,593.9 L396.55,595.14 L396.8,596.4 L397.05,597.67 L397.3,598.97 L397.55,600.28 L397.8,601.62 L398.05,602.97 L398.3,604.34 L398.55,605.73 L398.8,607.14 L399.05,608.56 L399.3,610.01 L399.55,611.47 L399.8,612.95 L400.05,614.45 L400.3,615.96 L400.55,617.5 L400.8,619.05 L401.05,620.61 L401.3,622.2 L401.55,623.8 L401.8,625.42 L402.05,627.05 L402.3,628.7 L402.55,630.37 L402.8,632.05 L403.05,633.75 L403.3,635.46 L403.55,637.19 L403.8,638.93 L404.05,640.69 L404.3,642.46 L404.55,644.25 L404.8,646.05 L405.05,647.86 L405.3,649.69 L405.55,651.53 L405.8,653.39 L406.05,655.25 L406.3,657.13 L406.55,659.02 L406.8,660.93 L407.05,662.84 L407.3,664.77 L407.55,666.7 L407.8,668.65 L408.05,670.61 L408.3,672.58 L408.55,674.56 L408.8,676.54 L409.05,678.54 L409.3,680.54 L409.55,682.56 L409.8,684.58 L410.05,686.61 L410.3,688.64 L410.55,690.69 L410.8,692.74 L411.05,694.79 L411.3,696.85 L411.55,698.92 L411.8,700.99 L412.05,703.07 L412.3,705.15 L412.55,707.24 L412.8,709.33 L413.05,711.42 L413.3,713.52 L413.55,715.62 L413.8,717.72 L414.05,719.83 L414.3,721.93 L414.55,724.04 L414.8,726.14 L415.05,728.25 L415.3,730.36 L415.55,732.46 L415.8,734.57 L416.05,736.67 L416.3,738.78 L416.55,740.88 L416.8,742.98 L417.05,745.08 L417.3,747.17 L417.55,749.26 L417.8,751.35 L418.05,753.43 L418.3,755.51 L418.55,757.58 L418.8,759.65 L419.05,761.71 L419.3,763.76 L419.55,765.81 L419.8,767.86 L420.05,769.89 L420.3,771.92 L420.55,773.94 L420.8,775.96 L421.05,777.96 L421.3,779.96 L421.55,781.94 L421.8,783.92 L422.05,785.89 L422.3,787.85 L422.55,789.8 L422.8,791.73 L423.05,793.66 L423.3,795.57 L423.55,797.48 L423.8,799.37 L424.05,801.25 L424.3,803.11 L424.55,804.97 L424.8,806.81 L425.05,808.64 L425.3,810.45 L425.55,812.25 L425.8,814.04 L426.05,815.81 L426.3,817.57 L426.55,819.31 L426.8,821.04 L427.05,822.75 L427.3,824.45 L427.55,826.13 L427.8,827.8 L428.05,829.45 L428.3,831.08 L428.55,832.7 L428.8,834.3 L429.05,835.89 L429.3,837.45 L429.55,839 L429.8,840.54 L430.05,842.05 L430.3,843.55 L430.55,845.03 L430.8,846.49 L431.05,847.94 L431.3,849.36 L431.55,850.77 L431.8,852.16 L432.05,853.53 L432.3,854.88 L432.55,856.22 L432.8,857.53 L433.05,858.83 L433.3,860.1 L433.55,861.36 L433.8,862.6 L434.05,863.82 L434.3,865.02 L434.55,866.2 L434.8,867.36 L435.05,868.5 L435.3,869.62 L435.55,870.72 L435.8,871.8 L436.05,872.87 L436.3,873.91 L436.55,874.93 L436.8,875.93 L437.05,876.92 L437.3,877.88 L437.55,878.82 L437.8,879.74 L438.05,880.65 L438.3,881.53 L438.55,882.39 L438.8,883.23 L439.05,884.06 L439.3,884.86 L439.55,885.64 L439.8,886.4 L440.05,887.14 L440.3,887.87 L440.55,888.57 L440.8,889.25 L441.05,889.91 L441.3,890.55 L441.55,891.17 L441.8,891.77 L442.05,892.35 L442.3,892.92 L442.55,893.46 L442.8,893.98 L443.05,894.48 L443.3,894.96 L443.55,895.42 L443.8,895.86 L444.05,896.28 L444.3,896.68 L444.55,897.06 L444.8,897.42 L445.05,897.76 L445.3,898.08 L445.55,898.38 L445.8,898.66 L446.05,898.92 L446.3,899.16 L446.55,899.38 L446.8,899.58 L447.05,899.77 L447.3,899.93 L447.55,900.07 L447.8,900.19 L448.05,900.29 L448.3,900.37 L448.55,900.43 L448.8,900.47 L449.05,900.5 L449.3,900.5 L449.55,900.48 L449.8,900.44 L450.05,900.39 L450.3,900.31 L450.55,900.21 L450.8,900.09 L451.05,899.96 L451.3,899.8 L451.55,899.62 L451.8,899.43 L452.05,899.21 L452.3,898.97 L452.55,898.72 L452.8,898.44 L453.05,898.14 L453.3,897.83 L453.55,897.49 L453.8,897.13 L454.05,896.76 L454.3,896.36 L454.55,895.94 L454.8,895.51 L455.05,895.05 L455.3,894.57 L455.55,894.08 L455.8,893.56 L456.05,893.02 L456.3,892.47 L456.55,891.89 L456.8,891.29 L457.05,890.68 L457.3,890.04 L457.55,889.38 L457.8,888.71 L458.05,888.01 L458.3,887.29 L458.55,886.55 L458.8,885.79 L459.05,885.02 L459.3,884.22 L459.55,883.4 L459.8,882.56 L460.05,881.7 L460.3,880.82 L460.55,879.93 L460.8,879.01 L461.05,878.07 L461.3,877.11 L461.55,876.13 L461.8,875.13 L462.05,874.11 L462.3,873.08 L462.55,872.02 L462.8,870.94 L463.05,869.84 L463.3,868.72 L463.55,867.59 L463.8,866.43 L464.05,865.25 L464.3,864.06 L464.55,862.84 L464.8,861.61 L465.05,860.36 L465.3,859.08 L465.55,857.79 L465.8,856.48 L466.05,855.15 L466.3,853.8 L466.55,852.44 L466.8,851.05 L467.05,849.65 L467.3,848.22 L467.55,846.78 L467.8,845.32 L468.05,843.85 L468.3,842.35 L468.55,840.84 L468.8,839.31 L469.05,837.77 L469.3,836.2 L469.55,834.62 L469.8,833.02 L470.05,831.41 L470.3,829.78 L470.55,828.13 L470.8,826.47 L471.05,824.79 L471.3,823.09 L471.55,821.38 L471.8,819.66 L472.05,817.92 L472.3,816.16 L472.55,814.39 L472.8,812.61 L473.05,810.81 L473.3,809 L473.55,807.17 L473.8,805.34 L474.05,803.48 L474.3,801.62 L474.55,799.74 L474.8,797.86 L475.05,795.95 L475.3,794.04 L475.55,792.12 L475.8,790.18 L476.05,788.24 L476.3,786.28 L476.55,784.32 L476.8,782.34 L477.05,780.36 L477.3,778.36 L477.55,776.36 L477.8,774.35 L478.05,772.33 L478.3,770.3 L478.55,768.27 L478.8,766.22 L479.05,764.18 L479.3,762.12 L479.55,760.06 L479.8,757.99 L480.05,755.92 L480.3,753.84 L480.55,751.76 L480.8,749.68 L481.05,747.59 L481.3,745.49 L481.55,743.4 L481.8,741.3 L482.05,739.2 L482.3,737.1 L482.55,734.99 L482.8,732.89 L483.05,730.78 L483.3,728.67 L483.55,726.56 L483.8,724.46 L484.05,722.35 L484.3,720.25 L484.55,718.14 L484.8,716.04 L485.05,713.94 L485.3,711.84 L485.55,709.75 L485.8,707.66 L486.05,705.57 L486.3,703.49 L486.55,701.41 L486.8,699.34 L487.05,697.27 L487.3,695.2 L487.55,693.15 L487.8,691.09 L488.05,689.05 L488.3,687.01 L488.55,684.98 L488.8,682.96 L489.05,680.95 L489.3,678.94 L489.55,676.94 L489.8,674.95 L490.05,672.97 L490.3,671 L490.55,669.04 L490.8,667.09 L491.05,665.15 L491.3,663.23 L491.55,661.31 L491.8,659.4 L492.05,657.51 L492.3,655.63 L492.55,653.76 L492.8,651.9 L493.05,650.06 L493.3,648.23 L493.55,646.41 L493.8,644.61 L494.05,642.82 L494.3,641.04 L494.55,639.28 L494.8,637.54 L495.05,635.8 L495.3,634.09 L495.55,632.39 L495.8,630.7 L496.05,629.03 L496.3,627.38 L496.55,625.74 L496.8,624.12 L497.05,622.52 L497.3,620.93 L497.55,619.36 L497.8,617.8 L498.05,616.27 L498.3,614.75 L498.55,613.25 L498.8,611.76 L499.05,610.3 L499.3,608.85 L499.55,607.42 L499.8,606.01 L500.05,604.62 L500.3,603.24 L500.55,601.89 L500.8,600.55 L501.05,599.23 L501.3,597.93 L501.55,596.65 L501.8,595.39 L502.05,594.15 L502.3,592.92 L502.55,591.72 L502.8,590.54 L503.05,589.37 L503.3,588.23 L503.55,587.1 L503.8,586 L504.05,584.91 L504.3,583.85 L504.55,582.8 L504.8,581.77 L505.05,580.77 L505.3,579.78 L505.55,578.81 L505.8,577.87 L506.05,576.94 L506.3,576.03 L506.55,575.15 L506.8,574.28 L507.05,573.43 L507.3,572.61 L507.55,571.8 L507.8,571.01 L508.05,570.25 L508.3,569.5 L508.55,568.78 L508.8,568.07 L509.05,567.39 L509.3,566.72 L509.55,566.08 L509.8,565.45 L510.05,564.85 L510.3,564.26 L510.55,563.7 L510.8,563.15 L511.05,562.63 L511.3,562.12 L511.55,561.64 L511.8,561.17 L512.05,560.73 L512.3,560.3 L512.55,559.9 L512.8,559.52 L513.05,559.15 L513.3,558.81 L513.55,558.48 L513.8,558.18 L514.05,557.89 L514.3,557.63 L514.55,557.38 L514.8,557.16 L515.05,556.95 L515.3,556.77 L515.55,556.6 L515.8,556.46 L516.05,556.33 L516.3,556.23 L516.55,556.14 L516.8,556.08 L517.05,556.03 L517.3,556.01 L517.55,556 L517.8,556.01 L518.05,556.05 L518.3,556.1 L518.55,556.18 L518.8,556.27 L519.05,556.38 L519.3,556.52 L519.55,556.67 L519.8,556.84 L520.05,557.03 L520.3,557.25 L520.55,557.48 L520.8,557.73 L521.05,558 L521.3,558.3 L521.55,558.61 L521.8,558.94 L522.05,559.29 L522.3,559.67 L522.55,560.06 L522.8,560.47 L523.05,560.9 L523.3,561.36 L523.55,561.83 L523.8,562.32 L524.05,562.83 L524.3,563.37 L524.55,563.92 L524.8,564.49 L525.05,565.08 L525.3,565.7 L525.55,566.33 L525.8,566.98 L526.05,567.66 L526.3,568.35 L526.55,569.06 L526.8,569.8 L527.05,570.55 L527.3,571.33 L527.55,572.12 L527.8,572.93 L528.05,573.77 L528.3,574.62 L528.55,575.5 L528.8,576.39 L529.05,577.31 L529.3,578.24 L529.55,579.2 L529.8,580.17 L530.05,581.17 L530.3,582.18 L530.55,583.22 L530.8,584.27 L531.05,585.34 L531.3,586.44 L531.55,587.55 L531.8,588.68 L532.05,589.84 L532.3,591.01 L532.55,592.2 L532.8,593.41 L533.05,594.64 L533.3,595.89 L533.55,597.16 L533.8,598.45 L534.05,599.76 L534.3,601.08 L534.55,602.43 L534.8,603.79 L535.05,605.17 L535.3,606.57 L535.55,607.99 L535.8,609.43 L536.05,610.88 L536.3,612.36 L536.55,613.85 L536.8,615.35 L537.05,616.88 L537.3,618.42 L537.55,619.98 L537.8,621.56 L538.05,623.16 L538.3,624.77 L538.55,626.39 L538.8,628.04 L539.05,629.7 L539.3,631.37 L539.55,633.07 L539.8,634.77 L540.05,636.5 L540.3,638.23 L540.55,639.98 L540.8,641.75 L541.05,643.53 L541.3,645.33 L541.55,647.14 L541.8,648.96 L542.05,650.79 L542.3,652.64 L542.55,654.51 L542.8,656.38 L543.05,658.27 L543.3,660.16 L543.55,662.07 L543.8,664 L544.05,665.93 L544.3,667.87 L544.55,669.83 L544.8,671.79 L545.05,673.76 L545.3,675.75 L545.55,677.74 L545.8,679.74 L546.05,681.75 L546.3,683.77 L546.55,685.79 L546.8,687.83 L547.05,689.87 L547.3,691.91 L547.55,693.97 L547.8,696.03 L548.05,698.09 L548.3,700.16 L548.55,702.24 L548.8,704.32 L549.05,706.41 L549.3,708.49 L549.55,710.59 L549.8,712.68 L550.05,714.78 L550.3,716.88 L550.55,718.98 L550.8,721.09 L551.05,723.19 L551.3,725.3 L551.55,727.41 L551.8,729.51 L552.05,731.62 L552.3,733.73 L552.55,735.83 L552.8,737.94 L553.05,740.04 L553.3,742.14 L553.55,744.24 L553.8,746.33 L554.05,748.42 L554.3,750.51 L554.55,752.6 L554.8,754.68 L555.05,756.75 L555.3,758.82 L555.55,760.88 L555.8,762.94 L556.05,765 L556.3,767.04 L556.55,769.08 L556.8,771.11 L557.05,773.14 L557.3,775.15 L557.55,777.16 L557.8,779.16 L558.05,781.15 L558.3,783.13 L558.55,785.1 L558.8,787.07 L559.05,789.02 L559.3,790.96 L559.55,792.89 L559.8,794.81 L560.05,796.72 L560.3,798.61 L560.55,800.5 L560.8,802.37 L561.05,804.23 L561.3,806.07 L561.55,807.91 L561.8,809.73 L562.05,811.53 L562.3,813.33 L562.55,815.1 L562.8,816.87 L563.05,818.62 L563.3,820.35 L563.55,822.07 L563.8,823.77 L564.05,825.46 L564.3,827.13 L564.55,828.79 L564.8,830.43 L565.05,832.06 L565.3,833.66 L565.55,835.25 L565.8,836.83 L566.05,838.39 L566.3,839.93 L566.55,841.45 L566.8,842.95 L567.05,844.44 L567.3,845.91 L567.55,847.36 L567.8,848.79 L568.05,850.21 L568.3,851.61 L568.55,852.98 L568.8,854.34 L569.05,855.69 L569.3,857.01 L569.55,858.31 L569.8,859.59 L570.05,860.86 L570.3,862.11 L570.55,863.33 L570.8,864.54 L571.05,865.73 L571.3,866.9 L571.55,868.04 L571.8,869.17 L572.05,870.28 L572.3,871.37 L572.55,872.44 L572.8,873.49 L573.05,874.52 L573.3,875.53 L573.55,876.52 L573.8,877.5 L574.05,878.45 L574.3,879.38 L574.55,880.29 L574.8,881.18 L575.05,882.05 L575.3,882.9 L575.55,883.73 L575.8,884.54 L576.05,885.33 L576.3,886.1 L576.55,886.85 L576.8,887.58 L577.05,888.29 L577.3,888.98 L577.55,889.65 L577.8,890.3 L578.05,890.93 L578.3,891.54 L578.55,892.12 L578.8,892.69 L579.05,893.24 L579.3,893.77 L579.55,894.28 L579.8,894.77 L580.05,895.24 L580.3,895.68 L580.55,896.11 L580.8,896.52 L581.05,896.91 L581.3,897.28 L581.55,897.63 L581.8,897.95 L582.05,898.26 L582.3,898.55 L582.55,898.82 L582.8,899.07 L583.05,899.3 L583.3,899.51 L583.55,899.7 L583.8,899.86 L584.05,900.01 L584.3,900.14 L584.55,900.25 L584.8,900.34 L585.05,900.41 L585.3,900.46 L585.55,900.49 L585.8,900.5" fill="none" stroke="#D95319" stroke-width="6.85" stroke-linejoin="round" stroke-miterlimit="10" stroke-dasharray="6.9 5.74" clip-path="url(#clipc)" stroke-dashoffset="-8.58"/>
<line x1="147.3" y1="554.8" x2="147.3" y2="901.7" stroke="#0072BD" stroke-width="1.3"/>
<line x1="147.3" y1="577.3" x2="160.6" y2="577.3" stroke="#0072BD" stroke-width="1"/>
<line x1="147.3" y1="728.25" x2="160.6" y2="728.25" stroke="#0072BD" stroke-width="1"/>
<line x1="147.3" y1="878.1" x2="160.6" y2="878.1" stroke="#0072BD" stroke-width="1"/>
<line x1="147.3" y1="901.7" x2="147.3" y2="888.4" stroke="#7a7a7a" stroke-width="1"/>
<line x1="147.3" y1="554.8" x2="147.3" y2="568.1" stroke="#7a7a7a" stroke-width="1"/>
<line x1="288.5" y1="901.7" x2="288.5" y2="888.4" stroke="#7a7a7a" stroke-width="1"/>
<line x1="288.5" y1="554.8" x2="288.5" y2="568.1" stroke="#7a7a7a" stroke-width="1"/>
<line x1="429.7" y1="901.7" x2="429.7" y2="888.4" stroke="#7a7a7a" stroke-width="1"/>
<line x1="429.7" y1="554.8" x2="429.7" y2="568.1" stroke="#7a7a7a" stroke-width="1"/>
<line x1="570.9" y1="901.7" x2="570.9" y2="888.4" stroke="#7a7a7a" stroke-width="1"/>
<line x1="570.9" y1="554.8" x2="570.9" y2="568.1" stroke="#7a7a7a" stroke-width="1"/>
<line x1="587" y1="554.8" x2="587" y2="901.7" stroke="#D95319" stroke-width="1.3"/>
<line x1="587" y1="604.8" x2="573.7" y2="604.8" stroke="#D95319" stroke-width="1"/>
<line x1="587" y1="728.25" x2="573.7" y2="728.25" stroke="#D95319" stroke-width="1"/>
<line x1="587" y1="851.7" x2="573.7" y2="851.7" stroke="#D95319" stroke-width="1"/>
<line x1="146.7" y1="554.8" x2="587.6" y2="554.8" stroke="#000" stroke-width="1.6"/>
<line x1="146.7" y1="901.7" x2="587.6" y2="901.7" stroke="#000" stroke-width="1.6"/>
<text x="1.76" y="535.5" font-size="32" fill="#000" textLength="16.15" lengthAdjust="spacingAndGlyphs" font-weight="bold">c</text>
<text x="104.15" y="587.7" font-size="33" fill="#0072BD" textLength="32.38" lengthAdjust="spacingAndGlyphs" stroke="#0072BD" stroke-width="0.32">10</text>
<text x="119.71" y="738.25" font-size="33" fill="#0072BD" textLength="16.87" lengthAdjust="spacingAndGlyphs" stroke="#0072BD" stroke-width="0.32">0</text>
<rect x="82" y="879.28" width="19.6" height="1.35" fill="#0072BD"/>
<text x="104.15" y="888.2" font-size="33" fill="#0072BD" textLength="32.38" lengthAdjust="spacingAndGlyphs" stroke="#0072BD" stroke-width="0.32">10</text>
<text x="597.56" y="615.2" font-size="33" fill="#D95319" textLength="32.68" lengthAdjust="spacingAndGlyphs" stroke="#D95319" stroke-width="0.32">20</text>
<text x="597.74" y="738.25" font-size="33" fill="#D95319" textLength="16.52" lengthAdjust="spacingAndGlyphs" stroke="#D95319" stroke-width="0.32">0</text>
<rect x="600.7" y="853.18" width="19.6" height="1.35" fill="#D95319"/>
<text x="624.39" y="862.1" font-size="33" fill="#D95319" textLength="29.85" lengthAdjust="spacingAndGlyphs" stroke="#D95319" stroke-width="0.32">20</text>
<text x="138.75" y="933.6" font-size="33" fill="#000" textLength="17.11" lengthAdjust="spacingAndGlyphs" stroke="#000" stroke-width="0.32">0</text>
<text x="267.36" y="933.6" font-size="33" fill="#000" textLength="42.31" lengthAdjust="spacingAndGlyphs" stroke="#000" stroke-width="0.32">0.5</text>
<text x="420.93" y="933.6" font-size="33" fill="#000" textLength="16.62" lengthAdjust="spacingAndGlyphs" stroke="#000" stroke-width="0.32">1</text>
<text x="549.85" y="933.6" font-size="33" fill="#000" textLength="40.51" lengthAdjust="spacingAndGlyphs" stroke="#000" stroke-width="0.32">1.5</text>
<g transform="translate(328.1,979.3)">
<path d="M7.0,-19.4 L3.2,-4.6 C2.4,-1.4 3.2,0.1 4.9,0.1" fill="none" stroke="#262626" stroke-width="2.3" stroke-linecap="round"/>
<path d="M4.9,0.1 C6.6,0.0 8.2,-2.3 9.4,-4.6" fill="none" stroke="#262626" stroke-width="1.4" stroke-linecap="round"/>
<rect x="0.3" y="-14.3" width="9.7" height="1.35" fill="#262626"/>
</g>
<rect x="353.6" y="955" width="1.4" height="32.5" fill="#262626"/>
<rect x="353.6" y="955" width="4.6" height="1.3" fill="#262626"/>
<rect x="353.6" y="986.2" width="4.6" height="1.3" fill="#262626"/>
<text x="358.28" y="979.3" font-size="33.6" fill="#262626" textLength="39.75" lengthAdjust="spacingAndGlyphs" stroke="#262626" stroke-width="0.32">ms</text>
<rect x="401.4" y="955" width="1.4" height="32.5" fill="#262626"/>
<rect x="398.2" y="955" width="4.6" height="1.3" fill="#262626"/>
<rect x="398.2" y="986.2" width="4.6" height="1.3" fill="#262626"/>
<g transform="translate(47.3,774.2) rotate(-90)">
<path d="M0.6,-9.8 C0.9,-12.3 2.4,-14.1 3.9,-14.1 C5.4,-14.1 5.9,-12.6 5.4,-10.6" fill="none" stroke="#0072BD" stroke-width="1.35" stroke-linecap="round"/>
<path d="M5.4,-10.6 L4.1,-5.6 C3.6,-3.4 3.6,-0.9 5.6,-0.5" fill="none" stroke="#0072BD" stroke-width="2.3" stroke-linecap="round"/>
<path d="M5.6,-0.5 C9.5,-0.2 13.4,-5.2 13.3,-10.6 C13.3,-12.2 12.9,-13.2 12.2,-13.4" fill="none" stroke="#0072BD" stroke-width="1.35" stroke-linecap="round"/>
<circle cx="12.3" cy="-12.8" r="1.45" fill="#0072BD"/>
<rect x="29.6" y="-24.5" width="1.35" height="31.7" fill="#0072BD"/>
<rect x="29.6" y="-24.5" width="4.4" height="1.3" fill="#0072BD"/>
<rect x="29.6" y="5.9" width="4.4" height="1.3" fill="#0072BD"/>
<text x="37.95" y="-12.3" font-size="21.5" fill="#0072BD" textLength="41.07" lengthAdjust="spacingAndGlyphs" stroke="#0072BD" stroke-width="0.32">mm</text>
<rect x="38.5" y="-9.5" width="41.8" height="1.2" fill="#0072BD"/>
<text x="54.1" y="10.6" font-size="21.5" fill="#0072BD" textLength="10.48" lengthAdjust="spacingAndGlyphs" stroke="#0072BD" stroke-width="0.32">s</text>
<rect x="87.85" y="-24.5" width="1.35" height="31.7" fill="#0072BD"/>
<rect x="84.8" y="-24.5" width="4.4" height="1.3" fill="#0072BD"/>
<rect x="84.8" y="5.9" width="4.4" height="1.3" fill="#0072BD"/>
</g>
<g transform="translate(700.5,778.3) rotate(-90)">
<text x="-3.02" y="0" font-size="33" fill="#D95319" textLength="23.74" lengthAdjust="spacingAndGlyphs" font-style="italic" stroke="#D95319" stroke-width="0.32">U</text>
<rect x="37.7" y="-25" width="1.35" height="32" fill="#D95319"/>
<rect x="37.7" y="-25" width="4.4" height="1.3" fill="#D95319"/>
<rect x="37.7" y="5.7" width="4.4" height="1.3" fill="#D95319"/>
<text x="43.11" y="0" font-size="33.6" fill="#D95319" textLength="25.61" lengthAdjust="spacingAndGlyphs" stroke="#D95319" stroke-width="0.32">m</text>
<text x="69.05" y="0" font-size="33.6" fill="#D95319" textLength="22.6" lengthAdjust="spacingAndGlyphs" stroke="#D95319" stroke-width="0.32">V</text>
<rect x="96.65" y="-25" width="1.35" height="32" fill="#D95319"/>
<rect x="93.6" y="-25" width="4.4" height="1.3" fill="#D95319"/>
<rect x="93.6" y="5.7" width="4.4" height="1.3" fill="#D95319"/>
</g>
<path d="M927.4,557.91 L927.9,557.61 L928.4,557.4 L928.9,557.28 L929.4,557.25 L929.9,557.32 L930.4,557.47 L930.9,557.72 L931.4,558.05 L931.9,558.48 L932.4,559 L932.9,559.61 L933.4,560.3 L933.9,561.09 L934.4,561.97 L934.9,562.93 L935.4,563.99 L935.9,565.13 L936.4,566.35 L936.9,567.67 L937.4,569.07 L937.9,570.55 L938.4,572.12 L938.9,573.77 L939.4,575.5 L939.9,577.32 L940.4,579.21 L940.9,581.19 L941.4,583.24 L941.9,585.37 L942.4,587.58 L942.9,589.86 L943.4,592.22 L943.9,594.64 L944.4,597.14 L944.9,599.71 L945.4,602.35 L945.9,605.05 L946.4,607.82 L946.9,610.66 L947.4,613.56 L947.9,616.51 L948.4,619.53 L948.9,622.61 L949.4,625.74 L949.9,628.92 L950.4,632.16 L950.9,635.45 L951.4,638.79 L951.9,642.18 L952.4,645.61 L952.9,649.09 L953.4,652.61 L953.9,656.17 L954.4,659.77 L954.9,663.4 L955.4,667.07 L955.9,670.78 L956.4,674.51 L956.9,678.27 L957.4,682.06 L957.9,685.87 L958.4,689.7 L958.9,693.56 L959.4,697.43 L959.9,701.32 L960.4,705.23 L960.9,709.15 L961.4,713.07 L961.9,717.01 L962.4,720.95 L962.9,724.9 L963.4,728.84 L963.9,732.79 L964.4,736.73 L964.9,740.67 L965.4,744.61 L965.9,748.53 L966.4,752.44 L966.9,756.34 L967.4,760.23 L967.9,764.1 L968.4,767.95 L968.9,771.78 L969.4,775.58 L969.9,779.36 L970.4,783.11 L970.9,786.84 L971.4,790.53 L971.9,794.19 L972.4,797.81 L972.9,801.4 L973.4,804.95 L973.9,808.46 L974.4,811.92 L974.9,815.34 L975.4,818.71 L975.9,822.04 L976.4,825.31 L976.9,828.54 L977.4,831.71 L977.9,834.82 L978.4,837.88 L978.9,840.88 L979.4,843.82 L979.9,846.7 L980.4,849.51 L980.9,852.26 L981.4,854.95 L981.9,857.57 L982.4,860.11 L982.9,862.59 L983.4,865 L983.9,867.33 L984.4,869.59 L984.9,871.77 L985.4,873.88 L985.9,875.91 L986.4,877.86 L986.9,879.73 L987.4,881.52 L987.9,883.23 L988.4,884.86 L988.9,886.4 L989.4,887.86 L989.9,889.24 L990.4,890.52 L990.9,891.72 L991.4,892.84 L991.9,893.87 L992.4,894.8 L992.9,895.65 L993.4,896.41 L993.9,897.09 L994.4,897.67 L994.9,898.16 L995.4,898.56 L995.9,898.87 L996.4,899.09 L996.9,899.21 L997.4,899.25 L997.9,899.19 L998.4,899.05 L998.9,898.81 L999.4,898.48 L999.9,898.07 L1000.4,897.56 L1000.9,896.96 L1001.4,896.27 L1001.9,895.49 L1002.4,894.62 L1002.9,893.67 L1003.4,892.62 L1003.9,891.49 L1004.4,890.27 L1004.9,888.97 L1005.4,887.58 L1005.9,886.1 L1006.4,884.54 L1006.9,882.9 L1007.4,881.17 L1007.9,879.37 L1008.4,877.48 L1008.9,875.51 L1009.4,873.47 L1009.9,871.34 L1010.4,869.14 L1010.9,866.87 L1011.4,864.52 L1011.9,862.1 L1012.4,859.61 L1012.9,857.05 L1013.4,854.42 L1013.9,851.72 L1014.4,848.96 L1014.9,846.13 L1015.4,843.24 L1015.9,840.29 L1016.4,837.27 L1016.9,834.2 L1017.4,831.08 L1017.9,827.9 L1018.4,824.66 L1018.9,821.38 L1019.4,818.04 L1019.9,814.66 L1020.4,811.23 L1020.9,807.76 L1021.4,804.24 L1021.9,800.69 L1022.4,797.09 L1022.9,793.46 L1023.4,789.79 L1023.9,786.1 L1024.4,782.37 L1024.9,778.61 L1025.4,774.82 L1025.9,771.01 L1026.4,767.18 L1026.9,763.33 L1027.4,759.45 L1027.9,755.57 L1028.4,751.66 L1028.9,747.75 L1029.4,743.82 L1029.9,739.89 L1030.4,735.94 L1030.9,732 L1031.4,728.05 L1031.9,724.11 L1032.4,720.16 L1032.9,716.22 L1033.4,712.29 L1033.9,708.36 L1034.4,704.45 L1034.9,700.54 L1035.4,696.66 L1035.9,692.79 L1036.4,688.94 L1036.9,685.1 L1037.4,681.3 L1037.9,677.51 L1038.4,673.76 L1038.9,670.03 L1039.4,666.34 L1039.9,662.67 L1040.4,659.05 L1040.9,655.46 L1041.4,651.9 L1041.9,648.39 L1042.4,644.92 L1042.9,641.5 L1043.4,638.12 L1043.9,634.79 L1044.4,631.51 L1044.9,628.28 L1045.4,625.11 L1045.9,621.99 L1046.4,618.92 L1046.9,615.92 L1047.4,612.97 L1047.9,610.09 L1048.4,607.26 L1048.9,604.51 L1049.4,601.82 L1049.9,599.19 L1050.4,596.64 L1050.9,594.15 L1051.4,591.74 L1051.9,589.4 L1052.4,587.13 L1052.9,584.94 L1053.4,582.83 L1053.9,580.79 L1054.4,578.83 L1054.9,576.95 L1055.4,575.15 L1055.9,573.43 L1056.4,571.8 L1056.9,570.25 L1057.4,568.78 L1057.9,567.4 L1058.4,566.1 L1058.9,564.89 L1059.4,563.77 L1059.9,562.73 L1060.4,561.79 L1060.9,560.93 L1061.4,560.16 L1061.9,559.48 L1062.4,558.89 L1062.9,558.39 L1063.4,557.98 L1063.9,557.66 L1064.4,557.43 L1064.9,557.3 L1065.4,557.25 L1065.9,557.3 L1066.4,557.43 L1066.9,557.66 L1067.4,557.98 L1067.9,558.39 L1068.4,558.89 L1068.9,559.48 L1069.4,560.16 L1069.9,560.93 L1070.4,561.79 L1070.9,562.73 L1071.4,563.77 L1071.9,564.89 L1072.4,566.1 L1072.9,567.4 L1073.4,568.78 L1073.9,570.25 L1074.4,571.8 L1074.9,573.43 L1075.4,575.15 L1075.9,576.95 L1076.4,578.83 L1076.9,580.79 L1077.4,582.83 L1077.9,584.94 L1078.4,587.13 L1078.9,589.4 L1079.4,591.74 L1079.9,594.15 L1080.4,596.64 L1080.9,599.19 L1081.4,601.82 L1081.9,604.51 L1082.4,607.26 L1082.9,610.09 L1083.4,612.97 L1083.9,615.92 L1084.4,618.92 L1084.9,621.99 L1085.4,625.11 L1085.9,628.28 L1086.4,631.51 L1086.9,634.79 L1087.4,638.12 L1087.9,641.5 L1088.4,644.92 L1088.9,648.39 L1089.4,651.9 L1089.9,655.46 L1090.4,659.05 L1090.9,662.67 L1091.4,666.34 L1091.9,670.03 L1092.4,673.76 L1092.9,677.51 L1093.4,681.3 L1093.9,685.1 L1094.4,688.94 L1094.9,692.79 L1095.4,696.66 L1095.9,700.54 L1096.4,704.45 L1096.9,708.36 L1097.4,712.29 L1097.9,716.22 L1098.4,720.16 L1098.9,724.11 L1099.4,728.05 L1099.9,732 L1100.4,735.94 L1100.9,739.89 L1101.4,743.82 L1101.9,747.75 L1102.4,751.66 L1102.9,755.57 L1103.4,759.45 L1103.9,763.33 L1104.4,767.18 L1104.9,771.01 L1105.4,774.82 L1105.9,778.61 L1106.4,782.37 L1106.9,786.1 L1107.4,789.79 L1107.9,793.46 L1108.4,797.09 L1108.9,800.69 L1109.4,804.24 L1109.9,807.76 L1110.4,811.23 L1110.9,814.66 L1111.4,818.04 L1111.9,821.38 L1112.4,824.66 L1112.9,827.9 L1113.4,831.08 L1113.9,834.2 L1114.4,837.27 L1114.9,840.29 L1115.4,843.24 L1115.9,846.13 L1116.4,848.96 L1116.9,851.72 L1117.4,854.42 L1117.9,857.05 L1118.4,859.61 L1118.9,862.1 L1119.4,864.52 L1119.9,866.87 L1120.4,869.14 L1120.9,871.34 L1121.4,873.47 L1121.9,875.51 L1122.4,877.48 L1122.9,879.37 L1123.4,881.17 L1123.9,882.9 L1124.4,884.54 L1124.9,886.1 L1125.4,887.58 L1125.9,888.97 L1126.4,890.27 L1126.9,891.49 L1127.4,892.62 L1127.9,893.67 L1128.4,894.62 L1128.9,895.49 L1129.4,896.27 L1129.9,896.96 L1130.4,897.56 L1130.9,898.07 L1131.4,898.48 L1131.9,898.81 L1132.4,899.05 L1132.9,899.19 L1133.4,899.25 L1133.9,899.21 L1134.4,899.09 L1134.9,898.87 L1135.4,898.56 L1135.9,898.16 L1136.4,897.67 L1136.9,897.09 L1137.4,896.41 L1137.9,895.65 L1138.4,894.8 L1138.9,893.87 L1139.4,892.84 L1139.9,891.72 L1140.4,890.52 L1140.9,889.24 L1141.4,887.86 L1141.9,886.4 L1142.4,884.86 L1142.9,883.23 L1143.4,881.52 L1143.9,879.73 L1144.4,877.86 L1144.9,875.91 L1145.4,873.88 L1145.9,871.77 L1146.4,869.59 L1146.9,867.33 L1147.4,865 L1147.9,862.59 L1148.4,860.11 L1148.9,857.57 L1149.4,854.95 L1149.9,852.26 L1150.4,849.51 L1150.9,846.7 L1151.4,843.82 L1151.9,840.88 L1152.4,837.88 L1152.9,834.82 L1153.4,831.71 L1153.9,828.54 L1154.4,825.31 L1154.9,822.04 L1155.4,818.71 L1155.9,815.34 L1156.4,811.92 L1156.9,808.46 L1157.4,804.95 L1157.9,801.4 L1158.4,797.81 L1158.9,794.19 L1159.4,790.53 L1159.9,786.84 L1160.4,783.11 L1160.9,779.36 L1161.4,775.58 L1161.9,771.78 L1162.4,767.95 L1162.9,764.1 L1163.4,760.23 L1163.9,756.34 L1164.4,752.44 L1164.9,748.53 L1165.4,744.61 L1165.9,740.67 L1166.4,736.73 L1166.9,732.79 L1167.4,728.84 L1167.9,724.9 L1168.4,720.95 L1168.9,717.01 L1169.4,713.07 L1169.9,709.15 L1170.4,705.23 L1170.9,701.32 L1171.4,697.43 L1171.9,693.56 L1172.4,689.7 L1172.9,685.87 L1173.4,682.06 L1173.9,678.27 L1174.4,674.51 L1174.9,670.78 L1175.4,667.07 L1175.9,663.4 L1176.4,659.77 L1176.9,656.17 L1177.4,652.61 L1177.9,649.09 L1178.4,645.61 L1178.9,642.18 L1179.4,638.79 L1179.9,635.45 L1180.4,632.16 L1180.9,628.92 L1181.4,625.74 L1181.9,622.61 L1182.4,619.53 L1182.9,616.51 L1183.4,613.56 L1183.9,610.66 L1184.4,607.82 L1184.9,605.05 L1185.4,602.35 L1185.9,599.71 L1186.4,597.14 L1186.9,594.64 L1187.4,592.22 L1187.9,589.86 L1188.4,587.58 L1188.9,585.37 L1189.4,583.24 L1189.9,581.19 L1190.4,579.21 L1190.9,577.32 L1191.4,575.5 L1191.9,573.77 L1192.4,572.12 L1192.9,570.55 L1193.4,569.07 L1193.9,567.67 L1194.4,566.35 L1194.9,565.13 L1195.4,563.99 L1195.9,562.93 L1196.4,561.97 L1196.9,561.09 L1197.4,560.3 L1197.9,559.61 L1198.4,559 L1198.9,558.48 L1199.4,558.05 L1199.9,557.72 L1200.4,557.47 L1200.9,557.32 L1201.4,557.25 L1201.9,557.28 L1202.4,557.4 L1202.9,557.61 L1203.4,557.91 L1203.9,558.3 L1204.4,558.78 L1204.9,559.35 L1205.4,560.01 L1205.9,560.77 L1206.4,561.61 L1206.9,562.54 L1207.4,563.55 L1207.9,564.66 L1208.4,565.85 L1208.9,567.13 L1209.4,568.5 L1209.9,569.95 L1210.4,571.48 L1210.9,573.1 L1211.4,574.8 L1211.9,576.58 L1212.4,578.45 L1212.9,580.39 L1213.4,582.41 L1213.9,584.51 L1214.4,586.69 L1214.9,588.94 L1215.4,591.27 L1215.9,593.67 L1216.4,596.14 L1216.9,598.68 L1217.4,601.29 L1217.9,603.96 L1218.4,606.71 L1218.9,609.52 L1219.4,612.39 L1219.9,615.32 L1220.4,618.32 L1220.9,621.37 L1221.4,624.48 L1221.9,627.64 L1222.4,630.86 L1222.9,634.13 L1223.4,637.45 L1223.9,640.82 L1224.4,644.24 L1224.9,647.7 L1225.4,651.2 L1225.9,654.74 L1226.4,658.33 L1226.9,661.95 L1227.4,665.6 L1227.9,669.29 L1228.4,673.01 L1228.9,676.76 L1229.4,680.54 L1229.9,684.34 L1230.4,688.17 L1230.9,692.02 L1231.4,695.88 L1231.9,699.77 L1232.4,703.67 L1232.9,707.58 L1233.4,711.5 L1233.9,715.43 L1234.4,719.37 L1234.9,723.32 L1235.4,727.26 L1235.9,731.21 L1236.4,735.16 L1236.9,739.1 L1237.4,743.03 L1237.9,746.96 L1238.4,750.88 L1238.9,754.79 L1239.4,758.68 L1239.9,762.55 L1240.4,766.41 L1240.9,770.25 L1241.4,774.06 L1241.9,777.85 L1242.4,781.62 L1242.9,785.35 L1243.4,789.06 L1243.9,792.73 L1244.4,796.37 L1244.9,799.97 L1245.4,803.53 L1245.9,807.06 L1246.4,810.54 L1246.9,813.98 L1247.4,817.37 L1247.9,820.71 L1248.4,824.01 L1248.9,827.25 L1249.4,830.45 L1249.9,833.58 L1250.4,836.66 L1250.9,839.69 L1251.4,842.65 L1251.9,845.55 L1252.4,848.4 L1252.9,851.17 L1253.4,853.88 L1253.9,856.53 L1254.4,859.1 L1254.9,861.61 L1255.4,864.04 L1255.9,866.41 L1256.4,868.7 L1256.9,870.91 L1257.4,873.05 L1257.9,875.11 L1258.4,877.09 L1258.9,878.99 L1259.4,880.82 L1259.9,882.56 L1260.4,884.22 L1260.9,885.8 L1261.4,887.29 L1261.9,888.7 L1262.4,890.02 L1262.9,891.25 L1263.4,892.4 L1263.9,893.47 L1264.4,894.44 L1264.9,895.32 L1265.4,896.12 L1265.9,896.83 L1266.4,897.45 L1266.9,897.97 L1267.4,898.41 L1267.9,898.75 L1268.4,899.01 L1268.9,899.17 L1269.4,899.25 L1269.9,899.23 L1270.4,899.12 L1270.9,898.92 L1271.4,898.63 L1271.9,898.24 L1272.4,897.77 L1272.9,897.21 L1273.4,896.56 L1273.9,895.81 L1274.4,894.98 L1274.9,894.06 L1275.4,893.05 L1275.9,891.95 L1276.4,890.77 L1276.9,889.5 L1277.4,888.14 L1277.9,886.7 L1278.4,885.18 L1278.9,883.57 L1279.4,881.87 L1279.9,880.1 L1280.4,878.24 L1280.9,876.31 L1281.4,874.29 L1281.9,872.2 L1282.4,870.03 L1282.9,867.79 L1283.4,865.47 L1283.9,863.08 L1284.4,860.61 L1284.9,858.08 L1285.4,855.48 L1285.9,852.81 L1286.4,850.07 L1286.9,847.27 L1287.4,844.4 L1287.9,841.47 L1288.4,838.49 L1288.9,835.44 L1289.4,832.34 L1289.9,829.18 L1290.4,825.96 L1290.9,822.7 L1291.4,819.38 L1291.9,816.02 L1292.4,812.61 L1292.9,809.15 L1293.4,805.65 L1293.9,802.11 L1294.4,798.53 L1294.9,794.92 L1295.4,791.27 L1295.9,787.58 L1296.4,783.86 L1296.9,780.11 L1297.4,776.34 L1297.9,772.54 L1298.4,768.72 L1298.9,764.87 L1299.4,761.01 L1299.9,757.12 L1300.4,753.22 L1300.9,749.31 L1301.4,745.39 L1301.9,741.46 L1302.4,737.52 L1302.9,733.58 L1303.4,729.63 L1303.9,725.68 L1304.4,721.74 L1304.9,717.8 L1305.4,713.86 L1305.9,709.93 L1306.4,706.01 L1306.9,702.1 L1307.4,698.21 L1307.9,694.33 L1308.4,690.47 L1308.9,686.63 L1309.4,682.82 L1309.9,679.02 L1310.4,675.26 L1310.9,671.52 L1311.4,667.81 L1311.9,664.14 L1312.4,660.49 L1312.9,656.89 L1313.4,653.32 L1313.9,649.79 L1314.4,646.31 L1314.9,642.86 L1315.4,639.47 L1315.9,636.12 L1316.4,632.82 L1316.9,629.57 L1317.4,626.37 L1317.9,623.23 L1318.4,620.14 L1318.9,617.11 L1319.4,614.14 L1319.9,611.23 L1320.4,608.39 L1320.9,605.6 L1321.4,602.89 L1321.9,600.23 L1322.4,597.65 L1322.9,595.14 L1323.4,592.7 L1323.9,590.33 L1324.4,588.03 L1324.9,585.81 L1325.4,583.66 L1325.9,581.59 L1326.4,579.6 L1326.9,577.69 L1327.4,575.86 L1327.9,574.11 L1328.4,572.44 L1328.9,570.86 L1329.4,569.36 L1329.9,567.94 L1330.4,566.61 L1330.9,565.37 L1331.4,564.21 L1331.9,563.14 L1332.4,562.15 L1332.9,561.26 L1333.4,560.45 L1333.9,559.74 L1334.4,559.11 L1334.9,558.58 L1335.4,558.13 L1335.9,557.78 L1336.4,557.51 L1336.9,557.34 L1337.4,557.26 L1337.9,557.27 L1338.4,557.37 L1338.9,557.56 L1339.4,557.84 L1339.9,558.21 L1340.4,558.68 L1340.9,559.23 L1341.4,559.87 L1341.9,560.61 L1342.4,561.43 L1342.9,562.34 L1343.4,563.34 L1343.9,564.43 L1344.4,565.61 L1344.9,566.87 L1345.4,568.22 L1345.9,569.65 L1346.4,571.17 L1346.9,572.77 L1347.4,574.45 L1347.9,576.22 L1348.4,578.07 L1348.9,580 L1349.4,582 L1349.9,584.09 L1350.4,586.25 L1350.9,588.48 L1351.4,590.8 L1351.9,593.18 L1352.4,595.64 L1352.9,598.16 L1353.4,600.76 L1353.9,603.42 L1354.4,606.15 L1354.9,608.95 L1355.4,611.81 L1355.9,614.73 L1356.4,617.71 L1356.9,620.75 L1357.4,623.85 L1357.9,627.01 L1358.4,630.21 L1358.9,633.47 L1359.4,636.78 L1359.9,640.14 L1360.4,643.55 L1360.9,647 L1361.4,650.49 L1361.9,654.03 L1362.4,657.61 L1362.9,661.22 L1363.4,664.87 L1363.9,668.55 L1364.4,672.26 L1364.9,676.01 L1365.4,679.78 L1365.9,683.58" fill="none" stroke="#0072BD" stroke-width="6.85" stroke-linejoin="round" stroke-miterlimit="10" clip-path="url(#clipd)"/>
<path d="M927.4,741.94 L927.65,739.81 L927.9,737.67 L928.15,735.53 L928.4,733.39 L928.65,731.25 L928.9,729.11 L929.15,726.96 L929.4,724.82 L929.65,722.68 L929.9,720.54 L930.15,718.4 L930.4,716.26 L930.65,714.13 L930.9,712 L931.15,709.87 L931.4,707.74 L931.65,705.62 L931.9,703.5 L932.15,701.39 L932.4,699.29 L932.65,697.18 L932.9,695.09 L933.15,693 L933.4,690.92 L933.65,688.84 L933.9,686.77 L934.15,684.71 L934.4,682.66 L934.65,680.62 L934.9,678.58 L935.15,676.56 L935.4,674.54 L935.65,672.54 L935.9,670.54 L936.15,668.56 L936.4,666.59 L936.65,664.63 L936.9,662.68 L937.15,660.74 L937.4,658.81 L937.65,656.9 L937.9,655 L938.15,653.12 L938.4,651.24 L938.65,649.38 L938.9,647.54 L939.15,645.71 L939.4,643.89 L939.65,642.09 L939.9,640.31 L940.15,638.54 L940.4,636.78 L940.65,635.05 L940.9,633.32 L941.15,631.62 L941.4,629.93 L941.65,628.26 L941.9,626.6 L942.15,624.96 L942.4,623.34 L942.65,621.74 L942.9,620.15 L943.15,618.59 L943.4,617.04 L943.65,615.51 L943.9,613.99 L944.15,612.5 L944.4,611.02 L944.65,609.57 L944.9,608.13 L945.15,606.71 L945.4,605.31 L945.65,603.93 L945.9,602.57 L946.15,601.23 L946.4,599.91 L946.65,598.6 L946.9,597.32 L947.15,596.06 L947.4,594.82 L947.65,593.59 L947.9,592.39 L948.15,591.21 L948.4,590.04 L948.65,588.9 L948.9,587.78 L949.15,586.67 L949.4,585.59 L949.65,584.53 L949.9,583.49 L950.15,582.46 L950.4,581.46 L950.65,580.48 L950.9,579.52 L951.15,578.58 L951.4,577.66 L951.65,576.75 L951.9,575.87 L952.15,575.01 L952.4,574.17 L952.65,573.35 L952.9,572.55 L953.15,571.77 L953.4,571.01 L953.65,570.27 L953.9,569.56 L954.15,568.86 L954.4,568.18 L954.65,567.52 L954.9,566.88 L955.15,566.26 L955.4,565.66 L955.65,565.08 L955.9,564.52 L956.15,563.98 L956.4,563.46 L956.65,562.96 L956.9,562.48 L957.15,562.01 L957.4,561.57 L957.65,561.15 L957.9,560.75 L958.15,560.36 L958.4,560 L958.65,559.66 L958.9,559.33 L959.15,559.02 L959.4,558.74 L959.65,558.47 L959.9,558.22 L960.15,558 L960.4,557.79 L960.65,557.6 L960.9,557.43 L961.15,557.27 L961.4,557.14 L961.65,557.03 L961.9,556.94 L962.15,556.86 L962.4,556.81 L962.65,556.77 L962.9,556.75 L963.15,556.75 L963.4,556.77 L963.65,556.81 L963.9,556.87 L964.15,556.95 L964.4,557.05 L964.65,557.17 L964.9,557.3 L965.15,557.46 L965.4,557.63 L965.65,557.83 L965.9,558.04 L966.15,558.27 L966.4,558.52 L966.65,558.79 L966.9,559.08 L967.15,559.39 L967.4,559.72 L967.65,560.07 L967.9,560.44 L968.15,560.83 L968.4,561.23 L968.65,561.66 L968.9,562.1 L969.15,562.57 L969.4,563.06 L969.65,563.56 L969.9,564.08 L970.15,564.63 L970.4,565.19 L970.65,565.78 L970.9,566.38 L971.15,567 L971.4,567.65 L971.65,568.31 L971.9,568.99 L972.15,569.7 L972.4,570.42 L972.65,571.16 L972.9,571.93 L973.15,572.71 L973.4,573.52 L973.65,574.34 L973.9,575.18 L974.15,576.05 L974.4,576.93 L974.65,577.84 L974.9,578.76 L975.15,579.71 L975.4,580.67 L975.65,581.66 L975.9,582.67 L976.15,583.69 L976.4,584.74 L976.65,585.81 L976.9,586.89 L977.15,588 L977.4,589.13 L977.65,590.27 L977.9,591.44 L978.15,592.63 L978.4,593.84 L978.65,595.06 L978.9,596.31 L979.15,597.58 L979.4,598.86 L979.65,600.17 L979.9,601.5 L980.15,602.84 L980.4,604.21 L980.65,605.59 L980.9,606.99 L981.15,608.42 L981.4,609.86 L981.65,611.32 L981.9,612.8 L982.15,614.3 L982.4,615.81 L982.65,617.35 L982.9,618.9 L983.15,620.47 L983.4,622.06 L983.65,623.67 L983.9,625.29 L984.15,626.93 L984.4,628.59 L984.65,630.27 L984.9,631.96 L985.15,633.67 L985.4,635.39 L985.65,637.13 L985.9,638.89 L986.15,640.66 L986.4,642.45 L986.65,644.26 L986.9,646.07 L987.15,647.91 L987.4,649.75 L987.65,651.62 L987.9,653.49 L988.15,655.38 L988.4,657.28 L988.65,659.2 L988.9,661.13 L989.15,663.07 L989.4,665.02 L989.65,666.98 L989.9,668.96 L990.15,670.94 L990.4,672.94 L990.65,674.95 L990.9,676.96 L991.15,678.99 L991.4,681.03 L991.65,683.07 L991.9,685.12 L992.15,687.19 L992.4,689.26 L992.65,691.33 L992.9,693.42 L993.15,695.51 L993.4,697.6 L993.65,699.71 L993.9,701.81 L994.15,703.93 L994.4,706.05 L994.65,708.17 L994.9,710.29 L995.15,712.42 L995.4,714.56 L995.65,716.69 L995.9,718.83 L996.15,720.97 L996.4,723.11 L996.65,725.25 L996.9,727.39 L997.15,729.54 L997.4,731.68 L997.65,733.82 L997.9,735.96 L998.15,738.1 L998.4,740.24 L998.65,742.37 L998.9,744.5 L999.15,746.63 L999.4,748.76 L999.65,750.88 L999.9,753 L1000.15,755.11 L1000.4,757.21 L1000.65,759.32 L1000.9,761.41 L1001.15,763.5 L1001.4,765.58 L1001.65,767.66 L1001.9,769.73 L1002.15,771.79 L1002.4,773.84 L1002.65,775.88 L1002.9,777.92 L1003.15,779.94 L1003.4,781.96 L1003.65,783.96 L1003.9,785.96 L1004.15,787.94 L1004.4,789.91 L1004.65,791.87 L1004.9,793.82 L1005.15,795.76 L1005.4,797.69 L1005.65,799.6 L1005.9,801.5 L1006.15,803.38 L1006.4,805.26 L1006.65,807.12 L1006.9,808.96 L1007.15,810.79 L1007.4,812.61 L1007.65,814.41 L1007.9,816.19 L1008.15,817.96 L1008.4,819.72 L1008.65,821.45 L1008.9,823.18 L1009.15,824.88 L1009.4,826.57 L1009.65,828.24 L1009.9,829.9 L1010.15,831.54 L1010.4,833.16 L1010.65,834.76 L1010.9,836.35 L1011.15,837.91 L1011.4,839.46 L1011.65,840.99 L1011.9,842.51 L1012.15,844 L1012.4,845.48 L1012.65,846.93 L1012.9,848.37 L1013.15,849.79 L1013.4,851.19 L1013.65,852.57 L1013.9,853.93 L1014.15,855.27 L1014.4,856.59 L1014.65,857.9 L1014.9,859.18 L1015.15,860.44 L1015.4,861.68 L1015.65,862.91 L1015.9,864.11 L1016.15,865.29 L1016.4,866.46 L1016.65,867.6 L1016.9,868.72 L1017.15,869.83 L1017.4,870.91 L1017.65,871.97 L1017.9,873.01 L1018.15,874.04 L1018.4,875.04 L1018.65,876.02 L1018.9,876.98 L1019.15,877.92 L1019.4,878.84 L1019.65,879.75 L1019.9,880.63 L1020.15,881.49 L1020.4,882.33 L1020.65,883.15 L1020.9,883.95 L1021.15,884.73 L1021.4,885.49 L1021.65,886.23 L1021.9,886.94 L1022.15,887.64 L1022.4,888.32 L1022.65,888.98 L1022.9,889.62 L1023.15,890.24 L1023.4,890.84 L1023.65,891.42 L1023.9,891.98 L1024.15,892.52 L1024.4,893.04 L1024.65,893.54 L1024.9,894.02 L1025.15,894.49 L1025.4,894.93 L1025.65,895.35 L1025.9,895.75 L1026.15,896.14 L1026.4,896.5 L1026.65,896.84 L1026.9,897.17 L1027.15,897.48 L1027.4,897.76 L1027.65,898.03 L1027.9,898.28 L1028.15,898.5 L1028.4,898.71 L1028.65,898.9 L1028.9,899.07 L1029.15,899.23 L1029.4,899.36 L1029.65,899.47 L1029.9,899.56 L1030.15,899.64 L1030.4,899.69 L1030.65,899.73 L1030.9,899.75 L1031.15,899.75 L1031.4,899.73 L1031.65,899.69 L1031.9,899.63 L1032.15,899.55 L1032.4,899.45 L1032.65,899.33 L1032.9,899.2 L1033.15,899.04 L1033.4,898.87 L1033.65,898.67 L1033.9,898.46 L1034.15,898.23 L1034.4,897.98 L1034.65,897.71 L1034.9,897.42 L1035.15,897.11 L1035.4,896.78 L1035.65,896.43 L1035.9,896.06 L1036.15,895.67 L1036.4,895.27 L1036.65,894.84 L1036.9,894.4 L1037.15,893.93 L1037.4,893.44 L1037.65,892.94 L1037.9,892.42 L1038.15,891.87 L1038.4,891.31 L1038.65,890.72 L1038.9,890.12 L1039.15,889.5 L1039.4,888.85 L1039.65,888.19 L1039.9,887.51 L1040.15,886.8 L1040.4,886.08 L1040.65,885.34 L1040.9,884.57 L1041.15,883.79 L1041.4,882.98 L1041.65,882.16 L1041.9,881.32 L1042.15,880.45 L1042.4,879.57 L1042.65,878.66 L1042.9,877.74 L1043.15,876.79 L1043.4,875.83 L1043.65,874.84 L1043.9,873.83 L1044.15,872.81 L1044.4,871.76 L1044.65,870.69 L1044.9,869.61 L1045.15,868.5 L1045.4,867.37 L1045.65,866.23 L1045.9,865.06 L1046.15,863.87 L1046.4,862.66 L1046.65,861.44 L1046.9,860.19 L1047.15,858.92 L1047.4,857.64 L1047.65,856.33 L1047.9,855 L1048.15,853.66 L1048.4,852.29 L1048.65,850.91 L1048.9,849.51 L1049.15,848.08 L1049.4,846.64 L1049.65,845.18 L1049.9,843.7 L1050.15,842.2 L1050.4,840.69 L1050.65,839.15 L1050.9,837.6 L1051.15,836.03 L1051.4,834.44 L1051.65,832.83 L1051.9,831.21 L1052.15,829.57 L1052.4,827.91 L1052.65,826.23 L1052.9,824.54 L1053.15,822.83 L1053.4,821.11 L1053.65,819.37 L1053.9,817.61 L1054.15,815.84 L1054.4,814.05 L1054.65,812.24 L1054.9,810.43 L1055.15,808.59 L1055.4,806.75 L1055.65,804.88 L1055.9,803.01 L1056.15,801.12 L1056.4,799.22 L1056.65,797.3 L1056.9,795.37 L1057.15,793.43 L1057.4,791.48 L1057.65,789.52 L1057.9,787.54 L1058.15,785.56 L1058.4,783.56 L1058.65,781.55 L1058.9,779.54 L1059.15,777.51 L1059.4,775.47 L1059.65,773.43 L1059.9,771.38 L1060.15,769.31 L1060.4,767.24 L1060.65,765.17 L1060.9,763.08 L1061.15,760.99 L1061.4,758.9 L1061.65,756.79 L1061.9,754.69 L1062.15,752.57 L1062.4,750.45 L1062.65,748.33 L1062.9,746.21 L1063.15,744.08 L1063.4,741.94 L1063.65,739.81 L1063.9,737.67 L1064.15,735.53 L1064.4,733.39 L1064.65,731.25 L1064.9,729.11 L1065.15,726.96 L1065.4,724.82 L1065.65,722.68 L1065.9,720.54 L1066.15,718.4 L1066.4,716.26 L1066.65,714.13 L1066.9,712 L1067.15,709.87 L1067.4,707.74 L1067.65,705.62 L1067.9,703.5 L1068.15,701.39 L1068.4,699.29 L1068.65,697.18 L1068.9,695.09 L1069.15,693 L1069.4,690.92 L1069.65,688.84 L1069.9,686.77 L1070.15,684.71 L1070.4,682.66 L1070.65,680.62 L1070.9,678.58 L1071.15,676.56 L1071.4,674.54 L1071.65,672.54 L1071.9,670.54 L1072.15,668.56 L1072.4,666.59 L1072.65,664.63 L1072.9,662.68 L1073.15,660.74 L1073.4,658.81 L1073.65,656.9 L1073.9,655 L1074.15,653.12 L1074.4,651.24 L1074.65,649.38 L1074.9,647.54 L1075.15,645.71 L1075.4,643.89 L1075.65,642.09 L1075.9,640.31 L1076.15,638.54 L1076.4,636.78 L1076.65,635.05 L1076.9,633.32 L1077.15,631.62 L1077.4,629.93 L1077.65,628.26 L1077.9,626.6 L1078.15,624.96 L1078.4,623.34 L1078.65,621.74 L1078.9,620.15 L1079.15,618.59 L1079.4,617.04 L1079.65,615.51 L1079.9,613.99 L1080.15,612.5 L1080.4,611.02 L1080.65,609.57 L1080.9,608.13 L1081.15,606.71 L1081.4,605.31 L1081.65,603.93 L1081.9,602.57 L1082.15,601.23 L1082.4,599.91 L1082.65,598.6 L1082.9,597.32 L1083.15,596.06 L1083.4,594.82 L1083.65,593.59 L1083.9,592.39 L1084.15,591.21 L1084.4,590.04 L1084.65,588.9 L1084.9,587.78 L1085.15,586.67 L1085.4,585.59 L1085.65,584.53 L1085.9,583.49 L1086.15,582.46 L1086.4,581.46 L1086.65,580.48 L1086.9,579.52 L1087.15,578.58 L1087.4,577.66 L1087.65,576.75 L1087.9,575.87 L1088.15,575.01 L1088.4,574.17 L1088.65,573.35 L1088.9,572.55 L1089.15,571.77 L1089.4,571.01 L1089.65,570.27 L1089.9,569.56 L1090.15,568.86 L1090.4,568.18 L1090.65,567.52 L1090.9,566.88 L1091.15,566.26 L1091.4,565.66 L1091.65,565.08 L1091.9,564.52 L1092.15,563.98 L1092.4,563.46 L1092.65,562.96 L1092.9,562.48 L1093.15,562.01 L1093.4,561.57 L1093.65,561.15 L1093.9,560.75 L1094.15,560.36 L1094.4,560 L1094.65,559.66 L1094.9,559.33 L1095.15,559.02 L1095.4,558.74 L1095.65,558.47 L1095.9,558.22 L1096.15,558 L1096.4,557.79 L1096.65,557.6 L1096.9,557.43 L1097.15,557.27 L1097.4,557.14 L1097.65,557.03 L1097.9,556.94 L1098.15,556.86 L1098.4,556.81 L1098.65,556.77 L1098.9,556.75 L1099.15,556.75 L1099.4,556.77 L1099.65,556.81 L1099.9,556.87 L1100.15,556.95 L1100.4,557.05 L1100.65,557.17 L1100.9,557.3 L1101.15,557.46 L1101.4,557.63 L1101.65,557.83 L1101.9,558.04 L1102.15,558.27 L1102.4,558.52 L1102.65,558.79 L1102.9,559.08 L1103.15,559.39 L1103.4,559.72 L1103.65,560.07 L1103.9,560.44 L1104.15,560.83 L1104.4,561.23 L1104.65,561.66 L1104.9,562.1 L1105.15,562.57 L1105.4,563.06 L1105.65,563.56 L1105.9,564.08 L1106.15,564.63 L1106.4,565.19 L1106.65,565.78 L1106.9,566.38 L1107.15,567 L1107.4,567.65 L1107.65,568.31 L1107.9,568.99 L1108.15,569.7 L1108.4,570.42 L1108.65,571.16 L1108.9,571.93 L1109.15,572.71 L1109.4,573.52 L1109.65,574.34 L1109.9,575.18 L1110.15,576.05 L1110.4,576.93 L1110.65,577.84 L1110.9,578.76 L1111.15,579.71 L1111.4,580.67 L1111.65,581.66 L1111.9,582.67 L1112.15,583.69 L1112.4,584.74 L1112.65,585.81 L1112.9,586.89 L1113.15,588 L1113.4,589.13 L1113.65,590.27 L1113.9,591.44 L1114.15,592.63 L1114.4,593.84 L1114.65,595.06 L1114.9,596.31 L1115.15,597.58 L1115.4,598.86 L1115.65,600.17 L1115.9,601.5 L1116.15,602.84 L1116.4,604.21 L1116.65,605.59 L1116.9,606.99 L1117.15,608.42 L1117.4,609.86 L1117.65,611.32 L1117.9,612.8 L1118.15,614.3 L1118.4,615.81 L1118.65,617.35 L1118.9,618.9 L1119.15,620.47 L1119.4,622.06 L1119.65,623.67 L1119.9,625.29 L1120.15,626.93 L1120.4,628.59 L1120.65,630.27 L1120.9,631.96 L1121.15,633.67 L1121.4,635.39 L1121.65,637.13 L1121.9,638.89 L1122.15,640.66 L1122.4,642.45 L1122.65,644.26 L1122.9,646.07 L1123.15,647.91 L1123.4,649.75 L1123.65,651.62 L1123.9,653.49 L1124.15,655.38 L1124.4,657.28 L1124.65,659.2 L1124.9,661.13 L1125.15,663.07 L1125.4,665.02 L1125.65,666.98 L1125.9,668.96 L1126.15,670.94 L1126.4,672.94 L1126.65,674.95 L1126.9,676.96 L1127.15,678.99 L1127.4,681.03 L1127.65,683.07 L1127.9,685.12 L1128.15,687.19 L1128.4,689.26 L1128.65,691.33 L1128.9,693.42 L1129.15,695.51 L1129.4,697.6 L1129.65,699.71 L1129.9,701.81 L1130.15,703.93 L1130.4,706.05 L1130.65,708.17 L1130.9,710.29 L1131.15,712.42 L1131.4,714.56 L1131.65,716.69 L1131.9,718.83 L1132.15,720.97 L1132.4,723.11 L1132.65,725.25 L1132.9,727.39 L1133.15,729.54 L1133.4,731.68 L1133.65,733.82 L1133.9,735.96 L1134.15,738.1 L1134.4,740.24 L1134.65,742.37 L1134.9,744.5 L1135.15,746.63 L1135.4,748.76 L1135.65,750.88 L1135.9,753 L1136.15,755.11 L1136.4,757.21 L1136.65,759.32 L1136.9,761.41 L1137.15,763.5 L1137.4,765.58 L1137.65,767.66 L1137.9,769.73 L1138.15,771.79 L1138.4,773.84 L1138.65,775.88 L1138.9,777.92 L1139.15,779.94 L1139.4,781.96 L1139.65,783.96 L1139.9,785.96 L1140.15,787.94 L1140.4,789.91 L1140.65,791.87 L1140.9,793.82 L1141.15,795.76 L1141.4,797.69 L1141.65,799.6 L1141.9,801.5 L1142.15,803.38 L1142.4,805.26 L1142.65,807.12 L1142.9,808.96 L1143.15,810.79 L1143.4,812.61 L1143.65,814.41 L1143.9,816.19 L1144.15,817.96 L1144.4,819.72 L1144.65,821.45 L1144.9,823.18 L1145.15,824.88 L1145.4,826.57 L1145.65,828.24 L1145.9,829.9 L1146.15,831.54 L1146.4,833.16 L1146.65,834.76 L1146.9,836.35 L1147.15,837.91 L1147.4,839.46 L1147.65,840.99 L1147.9,842.51 L1148.15,844 L1148.4,845.48 L1148.65,846.93 L1148.9,848.37 L1149.15,849.79 L1149.4,851.19 L1149.65,852.57 L1149.9,853.93 L1150.15,855.27 L1150.4,856.59 L1150.65,857.9 L1150.9,859.18 L1151.15,860.44 L1151.4,861.68 L1151.65,862.91 L1151.9,864.11 L1152.15,865.29 L1152.4,866.46 L1152.65,867.6 L1152.9,868.72 L1153.15,869.83 L1153.4,870.91 L1153.65,871.97 L1153.9,873.01 L1154.15,874.04 L1154.4,875.04 L1154.65,876.02 L1154.9,876.98 L1155.15,877.92 L1155.4,878.84 L1155.65,879.75 L1155.9,880.63 L1156.15,881.49 L1156.4,882.33 L1156.65,883.15 L1156.9,883.95 L1157.15,884.73 L1157.4,885.49 L1157.65,886.23 L1157.9,886.94 L1158.15,887.64 L1158.4,888.32 L1158.65,888.98 L1158.9,889.62 L1159.15,890.24 L1159.4,890.84 L1159.65,891.42 L1159.9,891.98 L1160.15,892.52 L1160.4,893.04 L1160.65,893.54 L1160.9,894.02 L1161.15,894.49 L1161.4,894.93 L1161.65,895.35 L1161.9,895.75 L1162.15,896.14 L1162.4,896.5 L1162.65,896.84 L1162.9,897.17 L1163.15,897.48 L1163.4,897.76 L1163.65,898.03 L1163.9,898.28 L1164.15,898.5 L1164.4,898.71 L1164.65,898.9 L1164.9,899.07 L1165.15,899.23 L1165.4,899.36 L1165.65,899.47 L1165.9,899.56 L1166.15,899.64 L1166.4,899.69 L1166.65,899.73 L1166.9,899.75 L1167.15,899.75 L1167.4,899.73 L1167.65,899.69 L1167.9,899.63 L1168.15,899.55 L1168.4,899.45 L1168.65,899.33 L1168.9,899.2 L1169.15,899.04 L1169.4,898.87 L1169.65,898.67 L1169.9,898.46 L1170.15,898.23 L1170.4,897.98 L1170.65,897.71 L1170.9,897.42 L1171.15,897.11 L1171.4,896.78 L1171.65,896.43 L1171.9,896.06 L1172.15,895.67 L1172.4,895.27 L1172.65,894.84 L1172.9,894.4 L1173.15,893.93 L1173.4,893.44 L1173.65,892.94 L1173.9,892.42 L1174.15,891.87 L1174.4,891.31 L1174.65,890.72 L1174.9,890.12 L1175.15,889.5 L1175.4,888.85 L1175.65,888.19 L1175.9,887.51 L1176.15,886.8 L1176.4,886.08 L1176.65,885.34 L1176.9,884.57 L1177.15,883.79 L1177.4,882.98 L1177.65,882.16 L1177.9,881.32 L1178.15,880.45 L1178.4,879.57 L1178.65,878.66 L1178.9,877.74 L1179.15,876.79 L1179.4,875.83 L1179.65,874.84 L1179.9,873.83 L1180.15,872.81 L1180.4,871.76 L1180.65,870.69 L1180.9,869.61 L1181.15,868.5 L1181.4,867.37 L1181.65,866.23 L1181.9,865.06 L1182.15,863.87 L1182.4,862.66 L1182.65,861.44 L1182.9,860.19 L1183.15,858.92 L1183.4,857.64 L1183.65,856.33 L1183.9,855 L1184.15,853.66 L1184.4,852.29 L1184.65,850.91 L1184.9,849.51 L1185.15,848.08 L1185.4,846.64 L1185.65,845.18 L1185.9,843.7 L1186.15,842.2 L1186.4,840.69 L1186.65,839.15 L1186.9,837.6 L1187.15,836.03 L1187.4,834.44 L1187.65,832.83 L1187.9,831.21 L1188.15,829.57 L1188.4,827.91 L1188.65,826.23 L1188.9,824.54 L1189.15,822.83 L1189.4,821.11 L1189.65,819.37 L1189.9,817.61 L1190.15,815.84 L1190.4,814.05 L1190.65,812.24 L1190.9,810.43 L1191.15,808.59 L1191.4,806.75 L1191.65,804.88 L1191.9,803.01 L1192.15,801.12 L1192.4,799.22 L1192.65,797.3 L1192.9,795.37 L1193.15,793.43 L1193.4,791.48 L1193.65,789.52 L1193.9,787.54 L1194.15,785.56 L1194.4,783.56 L1194.65,781.55 L1194.9,779.54 L1195.15,777.51 L1195.4,775.47 L1195.65,773.43 L1195.9,771.38 L1196.15,769.31 L1196.4,767.24 L1196.65,765.17 L1196.9,763.08 L1197.15,760.99 L1197.4,758.9 L1197.65,756.79 L1197.9,754.69 L1198.15,752.57 L1198.4,750.45 L1198.65,748.33 L1198.9,746.21 L1199.15,744.08 L1199.4,741.94 L1199.65,739.81 L1199.9,737.67 L1200.15,735.53 L1200.4,733.39 L1200.65,731.25 L1200.9,729.11 L1201.15,726.96 L1201.4,724.82 L1201.65,722.68 L1201.9,720.54 L1202.15,718.4 L1202.4,716.26 L1202.65,714.13 L1202.9,712 L1203.15,709.87 L1203.4,707.74 L1203.65,705.62 L1203.9,703.5 L1204.15,701.39 L1204.4,699.29 L1204.65,697.18 L1204.9,695.09 L1205.15,693 L1205.4,690.92 L1205.65,688.84 L1205.9,686.77 L1206.15,684.71 L1206.4,682.66 L1206.65,680.62 L1206.9,678.58 L1207.15,676.56 L1207.4,674.54 L1207.65,672.54 L1207.9,670.54 L1208.15,668.56 L1208.4,666.59 L1208.65,664.63 L1208.9,662.68 L1209.15,660.74 L1209.4,658.81 L1209.65,656.9 L1209.9,655 L1210.15,653.12 L1210.4,651.24 L1210.65,649.38 L1210.9,647.54 L1211.15,645.71 L1211.4,643.89 L1211.65,642.09 L1211.9,640.31 L1212.15,638.54 L1212.4,636.78 L1212.65,635.05 L1212.9,633.32 L1213.15,631.62 L1213.4,629.93 L1213.65,628.26 L1213.9,626.6 L1214.15,624.96 L1214.4,623.34 L1214.65,621.74 L1214.9,620.15 L1215.15,618.59 L1215.4,617.04 L1215.65,615.51 L1215.9,613.99 L1216.15,612.5 L1216.4,611.02 L1216.65,609.57 L1216.9,608.13 L1217.15,606.71 L1217.4,605.31 L1217.65,603.93 L1217.9,602.57 L1218.15,601.23 L1218.4,599.91 L1218.65,598.6 L1218.9,597.32 L1219.15,596.06 L1219.4,594.82 L1219.65,593.59 L1219.9,592.39 L1220.15,591.21 L1220.4,590.04 L1220.65,588.9 L1220.9,587.78 L1221.15,586.67 L1221.4,585.59 L1221.65,584.53 L1221.9,583.49 L1222.15,582.46 L1222.4,581.46 L1222.65,580.48 L1222.9,579.52 L1223.15,578.58 L1223.4,577.66 L1223.65,576.75 L1223.9,575.87 L1224.15,575.01 L1224.4,574.17 L1224.65,573.35 L1224.9,572.55 L1225.15,571.77 L1225.4,571.01 L1225.65,570.27 L1225.9,569.56 L1226.15,568.86 L1226.4,568.18 L1226.65,567.52 L1226.9,566.88 L1227.15,566.26 L1227.4,565.66 L1227.65,565.08 L1227.9,564.52 L1228.15,563.98 L1228.4,563.46 L1228.65,562.96 L1228.9,562.48 L1229.15,562.01 L1229.4,561.57 L1229.65,561.15 L1229.9,560.75 L1230.15,560.36 L1230.4,560 L1230.65,559.66 L1230.9,559.33 L1231.15,559.02 L1231.4,558.74 L1231.65,558.47 L1231.9,558.22 L1232.15,558 L1232.4,557.79 L1232.65,557.6 L1232.9,557.43 L1233.15,557.27 L1233.4,557.14 L1233.65,557.03 L1233.9,556.94 L1234.15,556.86 L1234.4,556.81 L1234.65,556.77 L1234.9,556.75 L1235.15,556.75 L1235.4,556.77 L1235.65,556.81 L1235.9,556.87 L1236.15,556.95 L1236.4,557.05 L1236.65,557.17 L1236.9,557.3 L1237.15,557.46 L1237.4,557.63 L1237.65,557.83 L1237.9,558.04 L1238.15,558.27 L1238.4,558.52 L1238.65,558.79 L1238.9,559.08 L1239.15,559.39 L1239.4,559.72 L1239.65,560.07 L1239.9,560.44 L1240.15,560.83 L1240.4,561.23 L1240.65,561.66 L1240.9,562.1 L1241.15,562.57 L1241.4,563.06 L1241.65,563.56 L1241.9,564.08 L1242.15,564.63 L1242.4,565.19 L1242.65,565.78 L1242.9,566.38 L1243.15,567 L1243.4,567.65 L1243.65,568.31 L1243.9,568.99 L1244.15,569.7 L1244.4,570.42 L1244.65,571.16 L1244.9,571.93 L1245.15,572.71 L1245.4,573.52 L1245.65,574.34 L1245.9,575.18 L1246.15,576.05 L1246.4,576.93 L1246.65,577.84 L1246.9,578.76 L1247.15,579.71 L1247.4,580.67 L1247.65,581.66 L1247.9,582.67 L1248.15,583.69 L1248.4,584.74 L1248.65,585.81 L1248.9,586.89 L1249.15,588 L1249.4,589.13 L1249.65,590.27 L1249.9,591.44 L1250.15,592.63 L1250.4,593.84 L1250.65,595.06 L1250.9,596.31 L1251.15,597.58 L1251.4,598.86 L1251.65,600.17 L1251.9,601.5 L1252.15,602.84 L1252.4,604.21 L1252.65,605.59 L1252.9,606.99 L1253.15,608.42 L1253.4,609.86 L1253.65,611.32 L1253.9,612.8 L1254.15,614.3 L1254.4,615.81 L1254.65,617.35 L1254.9,618.9 L1255.15,620.47 L1255.4,622.06 L1255.65,623.67 L1255.9,625.29 L1256.15,626.93 L1256.4,628.59 L1256.65,630.27 L1256.9,631.96 L1257.15,633.67 L1257.4,635.39 L1257.65,637.13 L1257.9,638.89 L1258.15,640.66 L1258.4,642.45 L1258.65,644.26 L1258.9,646.07 L1259.15,647.91 L1259.4,649.75 L1259.65,651.62 L1259.9,653.49 L1260.15,655.38 L1260.4,657.28 L1260.65,659.2 L1260.9,661.13 L1261.15,663.07 L1261.4,665.02 L1261.65,666.98 L1261.9,668.96 L1262.15,670.94 L1262.4,672.94 L1262.65,674.95 L1262.9,676.96 L1263.15,678.99 L1263.4,681.03 L1263.65,683.07 L1263.9,685.12 L1264.15,687.19 L1264.4,689.26 L1264.65,691.33 L1264.9,693.42 L1265.15,695.51 L1265.4,697.6 L1265.65,699.71 L1265.9,701.81 L1266.15,703.93 L1266.4,706.05 L1266.65,708.17 L1266.9,710.29 L1267.15,712.42 L1267.4,714.56 L1267.65,716.69 L1267.9,718.83 L1268.15,720.97 L1268.4,723.11 L1268.65,725.25 L1268.9,727.39 L1269.15,729.54 L1269.4,731.68 L1269.65,733.82 L1269.9,735.96 L1270.15,738.1 L1270.4,740.24 L1270.65,742.37 L1270.9,744.5 L1271.15,746.63 L1271.4,748.76 L1271.65,750.88 L1271.9,753 L1272.15,755.11 L1272.4,757.21 L1272.65,759.32 L1272.9,761.41 L1273.15,763.5 L1273.4,765.58 L1273.65,767.66 L1273.9,769.73 L1274.15,771.79 L1274.4,773.84 L1274.65,775.88 L1274.9,777.92 L1275.15,779.94 L1275.4,781.96 L1275.65,783.96 L1275.9,785.96 L1276.15,787.94 L1276.4,789.91 L1276.65,791.87 L1276.9,793.82 L1277.15,795.76 L1277.4,797.69 L1277.65,799.6 L1277.9,801.5 L1278.15,803.38 L1278.4,805.26 L1278.65,807.12 L1278.9,808.96 L1279.15,810.79 L1279.4,812.61 L1279.65,814.41 L1279.9,816.19 L1280.15,817.96 L1280.4,819.72 L1280.65,821.45 L1280.9,823.18 L1281.15,824.88 L1281.4,826.57 L1281.65,828.24 L1281.9,829.9 L1282.15,831.54 L1282.4,833.16 L1282.65,834.76 L1282.9,836.35 L1283.15,837.91 L1283.4,839.46 L1283.65,840.99 L1283.9,842.51 L1284.15,844 L1284.4,845.48 L1284.65,846.93 L1284.9,848.37 L1285.15,849.79 L1285.4,851.19 L1285.65,852.57 L1285.9,853.93 L1286.15,855.27 L1286.4,856.59 L1286.65,857.9 L1286.9,859.18 L1287.15,860.44 L1287.4,861.68 L1287.65,862.91 L1287.9,864.11 L1288.15,865.29 L1288.4,866.46 L1288.65,867.6 L1288.9,868.72 L1289.15,869.83 L1289.4,870.91 L1289.65,871.97 L1289.9,873.01 L1290.15,874.04 L1290.4,875.04 L1290.65,876.02 L1290.9,876.98 L1291.15,877.92 L1291.4,878.84 L1291.65,879.75 L1291.9,880.63 L1292.15,881.49 L1292.4,882.33 L1292.65,883.15 L1292.9,883.95 L1293.15,884.73 L1293.4,885.49 L1293.65,886.23 L1293.9,886.94 L1294.15,887.64 L1294.4,888.32 L1294.65,888.98 L1294.9,889.62 L1295.15,890.24 L1295.4,890.84 L1295.65,891.42 L1295.9,891.98 L1296.15,892.52 L1296.4,893.04 L1296.65,893.54 L1296.9,894.02 L1297.15,894.49 L1297.4,894.93 L1297.65,895.35 L1297.9,895.75 L1298.15,896.14 L1298.4,896.5 L1298.65,896.84 L1298.9,897.17 L1299.15,897.48 L1299.4,897.76 L1299.65,898.03 L1299.9,898.28 L1300.15,898.5 L1300.4,898.71 L1300.65,898.9 L1300.9,899.07 L1301.15,899.23 L1301.4,899.36 L1301.65,899.47 L1301.9,899.56 L1302.15,899.64 L1302.4,899.69 L1302.65,899.73 L1302.9,899.75 L1303.15,899.75 L1303.4,899.73 L1303.65,899.69 L1303.9,899.63 L1304.15,899.55 L1304.4,899.45 L1304.65,899.33 L1304.9,899.2 L1305.15,899.04 L1305.4,898.87 L1305.65,898.67 L1305.9,898.46 L1306.15,898.23 L1306.4,897.98 L1306.65,897.71 L1306.9,897.42 L1307.15,897.11 L1307.4,896.78 L1307.65,896.43 L1307.9,896.06 L1308.15,895.67 L1308.4,895.27 L1308.65,894.84 L1308.9,894.4 L1309.15,893.93 L1309.4,893.44 L1309.65,892.94 L1309.9,892.42 L1310.15,891.87 L1310.4,891.31 L1310.65,890.72 L1310.9,890.12 L1311.15,889.5 L1311.4,888.85 L1311.65,888.19 L1311.9,887.51 L1312.15,886.8 L1312.4,886.08 L1312.65,885.34 L1312.9,884.57 L1313.15,883.79 L1313.4,882.98 L1313.65,882.16 L1313.9,881.32 L1314.15,880.45 L1314.4,879.57 L1314.65,878.66 L1314.9,877.74 L1315.15,876.79 L1315.4,875.83 L1315.65,874.84 L1315.9,873.83 L1316.15,872.81 L1316.4,871.76 L1316.65,870.69 L1316.9,869.61 L1317.15,868.5 L1317.4,867.37 L1317.65,866.23 L1317.9,865.06 L1318.15,863.87 L1318.4,862.66 L1318.65,861.44 L1318.9,860.19 L1319.15,858.92 L1319.4,857.64 L1319.65,856.33 L1319.9,855 L1320.15,853.66 L1320.4,852.29 L1320.65,850.91 L1320.9,849.51 L1321.15,848.08 L1321.4,846.64 L1321.65,845.18 L1321.9,843.7 L1322.15,842.2 L1322.4,840.69 L1322.65,839.15 L1322.9,837.6 L1323.15,836.03 L1323.4,834.44 L1323.65,832.83 L1323.9,831.21 L1324.15,829.57 L1324.4,827.91 L1324.65,826.23 L1324.9,824.54 L1325.15,822.83 L1325.4,821.11 L1325.65,819.37 L1325.9,817.61 L1326.15,815.84 L1326.4,814.05 L1326.65,812.24 L1326.9,810.43 L1327.15,808.59 L1327.4,806.75 L1327.65,804.88 L1327.9,803.01 L1328.15,801.12 L1328.4,799.22 L1328.65,797.3 L1328.9,795.37 L1329.15,793.43 L1329.4,791.48 L1329.65,789.52 L1329.9,787.54 L1330.15,785.56 L1330.4,783.56 L1330.65,781.55 L1330.9,779.54 L1331.15,777.51 L1331.4,775.47 L1331.65,773.43 L1331.9,771.38 L1332.15,769.31 L1332.4,767.24 L1332.65,765.17 L1332.9,763.08 L1333.15,760.99 L1333.4,758.9 L1333.65,756.79 L1333.9,754.69 L1334.15,752.57 L1334.4,750.45 L1334.65,748.33 L1334.9,746.21 L1335.15,744.08 L1335.4,741.94 L1335.65,739.81 L1335.9,737.67 L1336.15,735.53 L1336.4,733.39 L1336.65,731.25 L1336.9,729.11 L1337.15,726.96 L1337.4,724.82 L1337.65,722.68 L1337.9,720.54 L1338.15,718.4 L1338.4,716.26 L1338.65,714.13 L1338.9,712 L1339.15,709.87 L1339.4,707.74 L1339.65,705.62 L1339.9,703.5 L1340.15,701.39 L1340.4,699.29 L1340.65,697.18 L1340.9,695.09 L1341.15,693 L1341.4,690.92 L1341.65,688.84 L1341.9,686.77 L1342.15,684.71 L1342.4,682.66 L1342.65,680.62 L1342.9,678.58 L1343.15,676.56 L1343.4,674.54 L1343.65,672.54 L1343.9,670.54 L1344.15,668.56 L1344.4,666.59 L1344.65,664.63 L1344.9,662.68 L1345.15,660.74 L1345.4,658.81 L1345.65,656.9 L1345.9,655 L1346.15,653.12 L1346.4,651.24 L1346.65,649.38 L1346.9,647.54 L1347.15,645.71 L1347.4,643.89 L1347.65,642.09 L1347.9,640.31 L1348.15,638.54 L1348.4,636.78 L1348.65,635.05 L1348.9,633.32 L1349.15,631.62 L1349.4,629.93 L1349.65,628.26 L1349.9,626.6 L1350.15,624.96 L1350.4,623.34 L1350.65,621.74 L1350.9,620.15 L1351.15,618.59 L1351.4,617.04 L1351.65,615.51 L1351.9,613.99 L1352.15,612.5 L1352.4,611.02 L1352.65,609.57 L1352.9,608.13 L1353.15,606.71 L1353.4,605.31 L1353.65,603.93 L1353.9,602.57 L1354.15,601.23 L1354.4,599.91 L1354.65,598.6 L1354.9,597.32 L1355.15,596.06 L1355.4,594.82 L1355.65,593.59 L1355.9,592.39 L1356.15,591.21 L1356.4,590.04 L1356.65,588.9 L1356.9,587.78 L1357.15,586.67 L1357.4,585.59 L1357.65,584.53 L1357.9,583.49 L1358.15,582.46 L1358.4,581.46 L1358.65,580.48 L1358.9,579.52 L1359.15,578.58 L1359.4,577.66 L1359.65,576.75 L1359.9,575.87 L1360.15,575.01 L1360.4,574.17 L1360.65,573.35 L1360.9,572.55 L1361.15,571.77 L1361.4,571.01 L1361.65,570.27 L1361.9,569.56 L1362.15,568.86 L1362.4,568.18 L1362.65,567.52 L1362.9,566.88 L1363.15,566.26 L1363.4,565.66 L1363.65,565.08 L1363.9,564.52 L1364.15,563.98 L1364.4,563.46 L1364.65,562.96 L1364.9,562.48 L1365.15,562.01 L1365.4,561.57 L1365.65,561.15 L1365.9,560.75" fill="none" stroke="#D95319" stroke-width="6.85" stroke-linejoin="round" stroke-miterlimit="10" stroke-dasharray="6.9 5.8" clip-path="url(#clipd)" stroke-dashoffset="-7.12"/>
<line x1="927.4" y1="554.8" x2="927.4" y2="901.7" stroke="#0072BD" stroke-width="1.3"/>
<line x1="927.4" y1="624.7" x2="940.7" y2="624.7" stroke="#0072BD" stroke-width="1"/>
<line x1="927.4" y1="728.25" x2="940.7" y2="728.25" stroke="#0072BD" stroke-width="1"/>
<line x1="927.4" y1="831.4" x2="940.7" y2="831.4" stroke="#0072BD" stroke-width="1"/>
<line x1="927.4" y1="901.7" x2="927.4" y2="888.4" stroke="#7a7a7a" stroke-width="1"/>
<line x1="927.4" y1="554.8" x2="927.4" y2="568.1" stroke="#7a7a7a" stroke-width="1"/>
<line x1="1068.6" y1="901.7" x2="1068.6" y2="888.4" stroke="#7a7a7a" stroke-width="1"/>
<line x1="1068.6" y1="554.8" x2="1068.6" y2="568.1" stroke="#7a7a7a" stroke-width="1"/>
<line x1="1209.8" y1="901.7" x2="1209.8" y2="888.4" stroke="#7a7a7a" stroke-width="1"/>
<line x1="1209.8" y1="554.8" x2="1209.8" y2="568.1" stroke="#7a7a7a" stroke-width="1"/>
<line x1="1351" y1="901.7" x2="1351" y2="888.4" stroke="#7a7a7a" stroke-width="1"/>
<line x1="1351" y1="554.8" x2="1351" y2="568.1" stroke="#7a7a7a" stroke-width="1"/>
<line x1="1367" y1="554.8" x2="1367" y2="901.7" stroke="#D95319" stroke-width="1.3"/>
<line x1="1367" y1="590.3" x2="1353.7" y2="590.3" stroke="#D95319" stroke-width="1"/>
<line x1="1367" y1="659.3" x2="1353.7" y2="659.3" stroke="#D95319" stroke-width="1"/>
<line x1="1367" y1="728.25" x2="1353.7" y2="728.25" stroke="#D95319" stroke-width="1"/>
<line x1="1367" y1="797.9" x2="1353.7" y2="797.9" stroke="#D95319" stroke-width="1"/>
<line x1="1367" y1="866.9" x2="1353.7" y2="866.9" stroke="#D95319" stroke-width="1"/>
<line x1="926.8" y1="554.8" x2="1367.6" y2="554.8" stroke="#000" stroke-width="1.6"/>
<line x1="926.8" y1="901.7" x2="1367.6" y2="901.7" stroke="#000" stroke-width="1.6"/>
<text x="781.39" y="534.8" font-size="32" fill="#000" textLength="20.73" lengthAdjust="spacingAndGlyphs" font-weight="bold">d</text>
<text x="884.75" y="635.1" font-size="33" fill="#0072BD" textLength="32.38" lengthAdjust="spacingAndGlyphs" stroke="#0072BD" stroke-width="0.32">10</text>
<text x="900.31" y="738.25" font-size="33" fill="#0072BD" textLength="16.87" lengthAdjust="spacingAndGlyphs" stroke="#0072BD" stroke-width="0.32">0</text>
<rect x="862" y="832.68" width="19.6" height="1.35" fill="#0072BD"/>
<text x="884.75" y="841.6" font-size="33" fill="#0072BD" textLength="32.38" lengthAdjust="spacingAndGlyphs" stroke="#0072BD" stroke-width="0.32">10</text>
<text x="1377.74" y="600.6" font-size="33" fill="#D95319" textLength="41.38" lengthAdjust="spacingAndGlyphs" stroke="#D95319" stroke-width="0.32">0.4</text>
<text x="1377.7" y="669.6" font-size="33" fill="#D95319" textLength="42.79" lengthAdjust="spacingAndGlyphs" stroke="#D95319" stroke-width="0.32">0.2</text>
<text x="1377.74" y="738.25" font-size="33" fill="#D95319" textLength="16.52" lengthAdjust="spacingAndGlyphs" stroke="#D95319" stroke-width="0.32">0</text>
<rect x="1380.7" y="799.27" width="19.6" height="1.35" fill="#D95319"/>
<text x="1404.46" y="808.2" font-size="33" fill="#D95319" textLength="40.74" lengthAdjust="spacingAndGlyphs" stroke="#D95319" stroke-width="0.32">0.2</text>
<rect x="1380.7" y="868.27" width="19.6" height="1.35" fill="#D95319"/>
<text x="1404.5" y="877.2" font-size="33" fill="#D95319" textLength="39.39" lengthAdjust="spacingAndGlyphs" stroke="#D95319" stroke-width="0.32">0.4</text>
<text x="918.85" y="933.6" font-size="33" fill="#000" textLength="17.11" lengthAdjust="spacingAndGlyphs" stroke="#000" stroke-width="0.32">0</text>
<text x="1047.46" y="933.6" font-size="33" fill="#000" textLength="42.31" lengthAdjust="spacingAndGlyphs" stroke="#000" stroke-width="0.32">0.5</text>
<text x="1201.03" y="933.6" font-size="33" fill="#000" textLength="16.62" lengthAdjust="spacingAndGlyphs" stroke="#000" stroke-width="0.32">1</text>
<text x="1329.95" y="933.6" font-size="33" fill="#000" textLength="40.51" lengthAdjust="spacingAndGlyphs" stroke="#000" stroke-width="0.32">1.5</text>
<g transform="translate(1108.2,979.3)">
<path d="M7.0,-19.4 L3.2,-4.6 C2.4,-1.4 3.2,0.1 4.9,0.1" fill="none" stroke="#262626" stroke-width="2.3" stroke-linecap="round"/>
<path d="M4.9,0.1 C6.6,0.0 8.2,-2.3 9.4,-4.6" fill="none" stroke="#262626" stroke-width="1.4" stroke-linecap="round"/>
<rect x="0.3" y="-14.3" width="9.7" height="1.35" fill="#262626"/>
</g>
<rect x="1133.7" y="955" width="1.4" height="32.5" fill="#262626"/>
<rect x="1133.7" y="955" width="4.6" height="1.3" fill="#262626"/>
<rect x="1133.7" y="986.2" width="4.6" height="1.3" fill="#262626"/>
<text x="1138.38" y="979.3" font-size="33.6" fill="#262626" textLength="39.75" lengthAdjust="spacingAndGlyphs" stroke="#262626" stroke-width="0.32">ms</text>
<rect x="1181.5" y="955" width="1.4" height="32.5" fill="#262626"/>
<rect x="1178.3" y="955" width="4.6" height="1.3" fill="#262626"/>
<rect x="1178.3" y="986.2" width="4.6" height="1.3" fill="#262626"/>
<g transform="translate(827.4,774.2) rotate(-90)">
<path d="M0.6,-9.8 C0.9,-12.3 2.4,-14.1 3.9,-14.1 C5.4,-14.1 5.9,-12.6 5.4,-10.6" fill="none" stroke="#0072BD" stroke-width="1.35" stroke-linecap="round"/>
<path d="M5.4,-10.6 L4.1,-5.6 C3.6,-3.4 3.6,-0.9 5.6,-0.5" fill="none" stroke="#0072BD" stroke-width="2.3" stroke-linecap="round"/>
<path d="M5.6,-0.5 C9.5,-0.2 13.4,-5.2 13.3,-10.6 C13.3,-12.2 12.9,-13.2 12.2,-13.4" fill="none" stroke="#0072BD" stroke-width="1.35" stroke-linecap="round"/>
<circle cx="12.3" cy="-12.8" r="1.45" fill="#0072BD"/>
<rect x="29.6" y="-24.5" width="1.35" height="31.7" fill="#0072BD"/>
<rect x="29.6" y="-24.5" width="4.4" height="1.3" fill="#0072BD"/>
<rect x="29.6" y="5.9" width="4.4" height="1.3" fill="#0072BD"/>
<text x="37.95" y="-12.3" font-size="21.5" fill="#0072BD" textLength="41.07" lengthAdjust="spacingAndGlyphs" stroke="#0072BD" stroke-width="0.32">mm</text>
<rect x="38.5" y="-9.5" width="41.8" height="1.2" fill="#0072BD"/>
<text x="54.1" y="10.6" font-size="21.5" fill="#0072BD" textLength="10.48" lengthAdjust="spacingAndGlyphs" stroke="#0072BD" stroke-width="0.32">s</text>
<rect x="87.85" y="-24.5" width="1.35" height="31.7" fill="#0072BD"/>
<rect x="84.8" y="-24.5" width="4.4" height="1.3" fill="#0072BD"/>
<rect x="84.8" y="5.9" width="4.4" height="1.3" fill="#0072BD"/>
</g>
<g transform="translate(1489.8,778.3) rotate(-90)">
<text x="-3.02" y="0" font-size="33" fill="#D95319" textLength="23.74" lengthAdjust="spacingAndGlyphs" font-style="italic" stroke="#D95319" stroke-width="0.32">U</text>
<rect x="37.7" y="-25" width="1.35" height="32" fill="#D95319"/>
<rect x="37.7" y="-25" width="4.4" height="1.3" fill="#D95319"/>
<rect x="37.7" y="5.7" width="4.4" height="1.3" fill="#D95319"/>
<text x="43.11" y="0" font-size="33.6" fill="#D95319" textLength="25.61" lengthAdjust="spacingAndGlyphs" stroke="#D95319" stroke-width="0.32">m</text>
<text x="69.05" y="0" font-size="33.6" fill="#D95319" textLength="22.6" lengthAdjust="spacingAndGlyphs" stroke="#D95319" stroke-width="0.32">V</text>
<rect x="96.65" y="-25" width="1.35" height="32" fill="#D95319"/>
<rect x="93.6" y="-25" width="4.4" height="1.3" fill="#D95319"/>
<rect x="93.6" y="5.7" width="4.4" height="1.3" fill="#D95319"/>
</g>
</svg>
</body></html>
